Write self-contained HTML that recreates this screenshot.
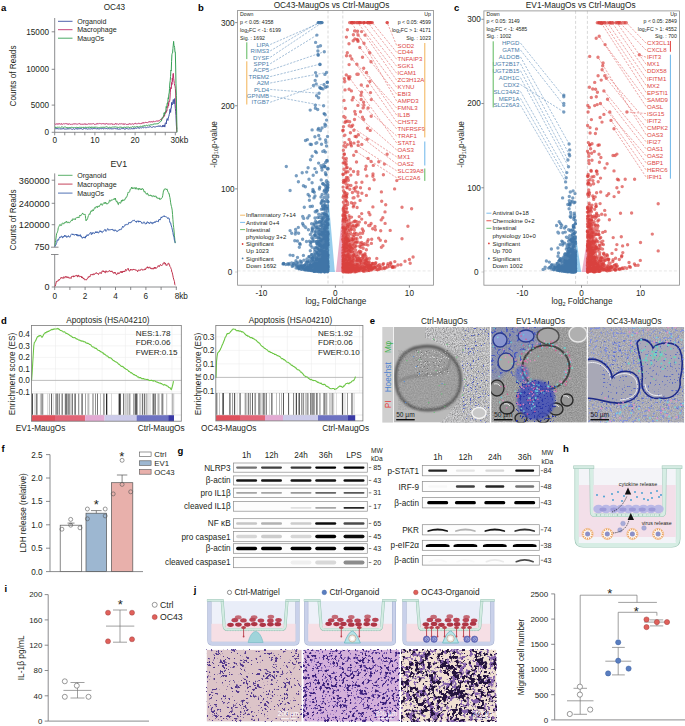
<!DOCTYPE html>
<html><head><meta charset="utf-8"><style>
html,body{margin:0;padding:0;background:#fff;width:685px;height:726px;overflow:hidden}
svg{display:block}
text{font-family:"Liberation Sans",sans-serif}
</style></head><body>
<svg width="685" height="726" viewBox="0 0 685 726">
<defs>
<filter id="bl1" x="-20%" y="-50%" width="140%" height="200%"><feGaussianBlur stdDeviation="0.6"/></filter>
<filter id="bl2" x="-20%" y="-50%" width="140%" height="200%"><feGaussianBlur stdDeviation="1.2"/></filter>
<filter id="bl3" x="-20%" y="-20%" width="140%" height="140%"><feGaussianBlur stdDeviation="2.5"/></filter>
</defs>
<rect width="685" height="726" fill="#fff"/>
<text x="1" y="10.92" font-size="9.5" fill="#000" font-weight="bold">a</text>
<text x="114.4" y="10.25" font-size="8.2" text-anchor="middle" fill="#231f20">OC43</text>
<line x1="54.7" y1="18" x2="54.7" y2="132.3" stroke="#6d6e71" stroke-width="0.8"/>
<line x1="51.7" y1="31.8" x2="54.7" y2="31.8" stroke="#6d6e71" stroke-width="0.8"/>
<text x="49" y="34.75" font-size="8.2" text-anchor="end" fill="#231f20">15000</text>
<line x1="51.7" y1="69.3" x2="54.7" y2="69.3" stroke="#6d6e71" stroke-width="0.8"/>
<text x="49" y="72.25" font-size="8.2" text-anchor="end" fill="#231f20">10000</text>
<line x1="51.7" y1="105.1" x2="54.7" y2="105.1" stroke="#6d6e71" stroke-width="0.8"/>
<text x="49" y="108.05" font-size="8.2" text-anchor="end" fill="#231f20">5000</text>
<line x1="51.7" y1="132.3" x2="54.7" y2="132.3" stroke="#6d6e71" stroke-width="0.8"/>
<text x="49" y="135.25" font-size="8.2" text-anchor="end" fill="#231f20">0</text>
<line x1="54.7" y1="132.3" x2="177" y2="132.3" stroke="#6d6e71" stroke-width="0.8"/>
<line x1="54.7" y1="132.3" x2="54.7" y2="135.3" stroke="#6d6e71" stroke-width="0.8"/>
<line x1="64.75" y1="132.3" x2="64.75" y2="135.3" stroke="#6d6e71" stroke-width="0.8"/>
<line x1="74.8" y1="132.3" x2="74.8" y2="135.3" stroke="#6d6e71" stroke-width="0.8"/>
<line x1="84.85" y1="132.3" x2="84.85" y2="135.3" stroke="#6d6e71" stroke-width="0.8"/>
<line x1="94.9" y1="132.3" x2="94.9" y2="135.3" stroke="#6d6e71" stroke-width="0.8"/>
<line x1="104.95" y1="132.3" x2="104.95" y2="135.3" stroke="#6d6e71" stroke-width="0.8"/>
<line x1="115" y1="132.3" x2="115" y2="135.3" stroke="#6d6e71" stroke-width="0.8"/>
<line x1="125.05" y1="132.3" x2="125.05" y2="135.3" stroke="#6d6e71" stroke-width="0.8"/>
<line x1="135.1" y1="132.3" x2="135.1" y2="135.3" stroke="#6d6e71" stroke-width="0.8"/>
<line x1="145.15" y1="132.3" x2="145.15" y2="135.3" stroke="#6d6e71" stroke-width="0.8"/>
<line x1="155.2" y1="132.3" x2="155.2" y2="135.3" stroke="#6d6e71" stroke-width="0.8"/>
<line x1="165.25" y1="132.3" x2="165.25" y2="135.3" stroke="#6d6e71" stroke-width="0.8"/>
<line x1="175.3" y1="132.3" x2="175.3" y2="135.3" stroke="#6d6e71" stroke-width="0.8"/>
<text x="54.7" y="143.25" font-size="8.2" text-anchor="middle" fill="#231f20">0</text>
<text x="94.9" y="143.25" font-size="8.2" text-anchor="middle" fill="#231f20">10</text>
<text x="135.1" y="143.25" font-size="8.2" text-anchor="middle" fill="#231f20">20</text>
<text x="179.4" y="143.25" font-size="8.2" text-anchor="middle" fill="#231f20">30kb</text>
<text x="0" y="2.95" font-size="8.2" transform="translate(13.5,76) rotate(-90)" text-anchor="middle" fill="#231f20">Counts of Reads</text>
<line x1="58" y1="21.3" x2="72.5" y2="21.3" stroke="#3a4ea0" stroke-width="0.9"/>
<text x="77.2" y="23.86" font-size="7.1" fill="#231f20">Organoid</text>
<line x1="58" y1="29.7" x2="72.5" y2="29.7" stroke="#c0306a" stroke-width="0.9"/>
<text x="77.2" y="32.26" font-size="7.1" fill="#231f20">Macrophage</text>
<line x1="58" y1="38.2" x2="72.5" y2="38.2" stroke="#35a055" stroke-width="0.9"/>
<text x="77.2" y="40.76" font-size="7.1" fill="#231f20">MaugOs</text>
<polyline points="55,128.56 55.34,128.77 55.68,128.67 56.01,128.86 56.35,128.93 56.69,128.45 57.03,128.26 57.37,128.94 57.7,128.63 58.04,128.51 58.38,129.16 58.72,128.88 59.06,129.13 59.39,128.88 59.73,128.95 60.07,128.53 60.41,128.84 60.75,129.14 61.09,128.92 61.42,129.05 61.76,129.03 62.1,128.48 62.44,128.94 62.78,128.92 63.11,128.66 63.45,128.34 63.79,128.99 64.13,128.83 64.47,129.01 64.8,129.2 65.14,129.11 65.48,129.27 65.82,128.85 66.16,129.09 66.49,128.84 66.83,129.2 67.17,129.26 67.51,128.58 67.85,128.41 68.18,128.43 68.52,129.11 68.86,128.83 69.2,128.92 69.54,128.66 69.87,128.76 70.21,128.69 70.55,128.63 70.89,128.83 71.23,128.88 71.56,129.19 71.9,129.08 72.24,129.27 72.58,129.26 72.92,129.38 73.25,129.13 73.59,128.6 73.93,129.06 74.27,129.3 74.61,129.31 74.95,129.02 75.28,129.06 75.62,128.62 75.96,129.04 76.3,128.94 76.64,128.65 76.97,128.36 77.31,128.99 77.65,129.3 77.99,128.58 78.33,129 78.66,128.78 79,128.48 79.34,128.52 79.68,128.96 80.02,129.18 80.35,128.5 80.69,128.81 81.03,128.39 81.37,128.88 81.71,128.67 82.04,129.1 82.38,129.32 82.72,128.96 83.06,129.3 83.4,128.78 83.73,128.41 84.07,128.77 84.41,128.37 84.75,128.4 85.09,128.6 85.42,128.84 85.76,128.5 86.1,128.3 86.44,128.98 86.78,128.69 87.12,129.18 87.45,129.27 87.79,128.83 88.13,128.77 88.47,128.81 88.81,128.93 89.14,128.93 89.48,128.89 89.82,128.94 90.16,129.24 90.5,128.94 90.83,128.78 91.17,128.99 91.51,128.62 91.85,128.57 92.19,129.16 92.52,128.93 92.86,128.88 93.2,128.38 93.54,128.6 93.88,128.81 94.21,128.37 94.55,128.78 94.89,128.91 95.23,128.44 95.57,128.81 95.9,128.77 96.24,128.95 96.58,128.71 96.92,128.96 97.26,129.06 97.59,128.45 97.93,128.3 98.27,128.81 98.61,129.22 98.95,128.7 99.29,128.73 99.62,128.86 99.96,128.66 100.3,128.63 100.64,128.58 100.98,128.62 101.31,128.83 101.65,128.63 101.99,128.64 102.33,129 102.67,128.43 103,128.75 103.34,129 103.68,128.69 104.02,128.52 104.36,128.99 104.69,128.62 105.03,128.47 105.37,128.64 105.71,128.93 106.05,128.48 106.38,128.54 106.72,128.57 107.06,129.03 107.4,128.81 107.74,129.12 108.07,128.6 108.41,128.59 108.75,128.87 109.09,129.17 109.43,128.87 109.76,128.57 110.1,128.39 110.44,128.7 110.78,128.49 111.12,128.98 111.46,129.16 111.79,128.62 112.13,128.55 112.47,129 112.81,128.99 113.15,129.13 113.48,128.76 113.82,128.45 114.16,128.51 114.5,128.98 114.84,128.65 115.17,128.62 115.51,128.67 115.85,128.69 116.19,128.69 116.53,129.14 116.86,128.59 117.2,128.29 117.54,129.05 117.88,129.22 118.22,129.36 118.55,128.91 118.89,129.24 119.23,129.32 119.57,128.7 119.91,128.99 120.24,129.16 120.58,129.05 120.92,128.89 121.26,128.64 121.6,128.61 121.94,128.5 122.27,128.32 122.61,128.74 122.95,128.59 123.29,129.02 123.63,128.46 123.96,129.06 124.3,129.05 124.64,129.26 124.98,129.29 125.32,129.31 125.65,129.02 125.99,128.43 126.33,128.91 126.67,128.54 127.01,128.54 127.34,128.87 127.68,128.84 128.02,128.74 128.36,129.18 128.7,129.01 129.03,128.72 129.37,128.55 129.71,129.05 130.05,128.85 130.39,129.04 130.72,128.69 131.06,128.43 131.4,128.63 131.74,128.93 132.08,128.42 132.41,128.8 132.75,129.02 133.09,128.96 133.43,128.94 133.77,128.18 134.1,128.49 134.44,128.78 134.78,128.11 135.12,128.09 135.46,128.07 135.8,128.27 136.13,128.22 136.47,128.23 136.81,128.49 137.15,127.85 137.49,127.69 137.82,127.68 138.16,127.66 138.5,127.59 138.84,128.36 139.18,128.47 139.51,127.79 139.85,127.94 140.19,127.79 140.53,127.72 140.87,127.71 141.2,127.95 141.54,127.95 141.88,127.72 142.22,127.47 142.56,127.5 142.89,127.3 143.23,127.6 143.57,127.82 143.91,127.55 144.25,127.18 144.58,127.13 144.92,127.27 145.26,127.5 145.6,127.7 145.94,127.38 146.28,127.63 146.61,127.53 146.95,127.3 147.29,127.15 147.63,127.2 147.97,127.37 148.3,127.15 148.64,127.3 148.98,127.12 149.32,126.84 149.66,127 149.99,127.17 150.33,126.64 150.67,126.79 151.01,126.82 151.35,127.22 151.68,127.38 152.02,126.91 152.36,127.22 152.7,127.2 153.04,126.71 153.37,126.73 153.71,126.41 154.05,126.92 154.39,126.92 154.73,127.11 155.06,127.07 155.4,126.93 155.74,126.93 156.08,126.76 156.42,126.29 156.75,126.56 157.09,126.11 157.43,126.08 157.77,126.62 158.11,126.11 158.44,125.95 158.78,125.86 159.12,126.5 159.46,126.03 159.8,125.7 160.14,126.33 160.47,125.7 160.81,126.39 161.15,126.38 161.49,126.72 161.83,127.12 162.16,126.51 162.5,126.87 162.84,125.05 163.18,126.47 163.52,126.17 163.85,126.74 164.19,124.88 164.53,126.5 164.87,127.08 165.21,123.34 165.54,122.76 165.88,123.13 166.22,123.99 166.56,121 166.9,119.25 167.23,118.54 167.57,119.79 167.91,120.48 168.25,118.15 168.59,116.79 168.92,116.05 169.26,114.34 169.6,113.08 169.94,109.28 170.28,109.9 170.61,112.42 170.95,107.98 171.29,108.1 171.63,102.45 171.97,104.33 172.31,104.81 172.64,103.62 172.98,101.23 173.32,99.54 173.66,100.54 174,103.89 174.33,99.61 174.67,98.59 175.01,104.2 175.35,108.53 175.69,111.37 176.02,115.46 176.36,125 176.7,129.01" fill="none" stroke="#3a4ea0" stroke-width="1" stroke-linejoin="round"/>
<polyline points="55,123.67 55.34,124.21 55.68,124.3 56.01,123.87 56.35,123.96 56.69,123.94 57.03,124.12 57.37,124.3 57.7,123.72 58.04,123.49 58.38,124.15 58.72,123.98 59.06,124.23 59.39,123.62 59.73,123.84 60.07,124.15 60.41,123.8 60.75,124.34 61.09,124.46 61.42,123.72 61.76,123.49 62.1,123.88 62.44,124.36 62.78,124 63.11,123.75 63.45,123.85 63.79,123.53 64.13,123.61 64.47,123.83 64.8,123.94 65.14,123.74 65.48,123.68 65.82,123.65 66.16,123.86 66.49,123.77 66.83,123.5 67.17,124.15 67.51,124.1 67.85,124.16 68.18,123.76 68.52,124.37 68.86,124.44 69.2,123.79 69.54,123.79 69.87,124.14 70.21,124.23 70.55,124.46 70.89,124.07 71.23,124.32 71.56,124.25 71.9,123.9 72.24,124.05 72.58,124.36 72.92,124.42 73.25,124.13 73.59,124.12 73.93,123.62 74.27,123.65 74.61,124.16 74.95,123.97 75.28,123.7 75.62,123.95 75.96,124.17 76.3,124.21 76.64,123.95 76.97,123.93 77.31,123.99 77.65,124.25 77.99,124.09 78.33,123.93 78.66,123.97 79,123.57 79.34,123.46 79.68,124.02 80.02,124.44 80.35,124.22 80.69,123.97 81.03,123.69 81.37,123.91 81.71,124.41 82.04,124.37 82.38,124.15 82.72,124.37 83.06,123.87 83.4,123.97 83.73,124.4 84.07,124.19 84.41,124.02 84.75,123.8 85.09,123.98 85.42,124.41 85.76,123.68 86.1,124.16 86.44,124.34 86.78,124.45 87.12,124.35 87.45,124.38 87.79,124.13 88.13,124.09 88.47,123.96 88.81,123.59 89.14,124.21 89.48,124.13 89.82,123.77 90.16,123.93 90.5,123.97 90.83,123.86 91.17,123.82 91.51,123.98 91.85,124.11 92.19,124.13 92.52,124 92.86,123.58 93.2,123.63 93.54,123.6 93.88,123.96 94.21,124.31 94.55,124.36 94.89,124.38 95.23,124.4 95.57,123.9 95.9,124.28 96.24,124.24 96.58,123.7 96.92,123.47 97.26,123.41 97.59,124.05 97.93,123.79 98.27,123.59 98.61,123.99 98.95,123.86 99.29,123.57 99.62,123.56 99.96,123.89 100.3,123.67 100.64,123.7 100.98,124.1 101.31,123.99 101.65,123.84 101.99,123.93 102.33,123.55 102.67,123.76 103,123.86 103.34,123.68 103.68,123.55 104.02,124.23 104.36,124.08 104.69,123.76 105.03,124.02 105.37,124.29 105.71,123.66 106.05,123.46 106.38,123.52 106.72,124.05 107.06,123.71 107.4,124.1 107.74,124.19 108.07,124.1 108.41,123.78 108.75,124.36 109.09,124.38 109.43,124.13 109.76,123.79 110.1,124.07 110.44,123.93 110.78,124.05 111.12,123.85 111.46,124.07 111.79,123.63 112.13,123.71 112.47,124.33 112.81,124.44 113.15,123.96 113.48,124.31 113.82,123.92 114.16,124.37 114.5,124.33 114.84,124.02 115.17,123.78 115.51,123.49 115.85,124.19 116.19,123.64 116.53,124.18 116.86,124.47 117.2,124.2 117.54,123.77 117.88,124.26 118.22,124.5 118.55,124.34 118.89,124.11 119.23,123.92 119.57,123.84 119.91,123.69 120.24,124.06 120.58,123.96 120.92,123.71 121.26,123.56 121.6,124.02 121.94,123.82 122.27,123.95 122.61,123.83 122.95,124.28 123.29,124.44 123.63,123.7 123.96,123.64 124.3,123.74 124.64,124.36 124.98,124.36 125.32,123.96 125.65,123.73 125.99,124.08 126.33,124.33 126.67,124.49 127.01,124.01 127.34,124.35 127.68,124.27 128.02,124.07 128.36,124.46 128.7,123.9 129.03,124.17 129.37,123.68 129.71,123.61 130.05,124.25 130.39,123.8 130.72,124.14 131.06,124.09 131.4,124.28 131.74,123.9 132.08,123.75 132.41,123.65 132.75,124.12 133.09,124.02 133.43,124.29 133.77,124.3 134.1,123.61 134.44,123.77 134.78,123.4 135.12,123.22 135.46,123.19 135.8,123.88 136.13,124 136.47,124.06 136.81,123.63 137.15,123.74 137.49,123.91 137.82,123.58 138.16,123.65 138.5,123.34 138.84,123.11 139.18,123.2 139.51,123.77 139.85,123.64 140.19,123.89 140.53,123.51 140.87,123.2 141.2,123.53 141.54,123.63 141.88,122.89 142.22,123.22 142.56,122.77 142.89,122.61 143.23,123.23 143.57,122.61 143.91,122.57 144.25,123.2 144.58,122.84 144.92,122.42 145.26,122.31 145.6,122.31 145.94,122.72 146.28,122.24 146.61,122.78 146.95,122.43 147.29,122.82 147.63,122.85 147.97,122.27 148.3,122.02 148.64,122.11 148.98,121.77 149.32,122.12 149.66,121.64 149.99,121.44 150.33,122.22 150.67,121.81 151.01,121.93 151.35,121.8 151.68,121.61 152.02,121.3 152.36,121.94 152.7,122.16 153.04,122.19 153.37,121.4 153.71,121.23 154.05,121.51 154.39,121.89 154.73,121.58 155.06,121.59 155.4,121.54 155.74,121.13 156.08,121.23 156.42,121.02 156.75,120.87 157.09,120.65 157.43,120.74 157.77,121.36 158.11,121 158.44,120.93 158.78,120.78 159.12,120.89 159.46,120.31 159.8,119.94 160.14,119.71 160.47,119.48 160.81,119.99 161.15,120.13 161.49,118.99 161.83,118.49 162.16,118.59 162.5,118.53 162.84,118.39 163.18,117.2 163.52,115.93 163.85,115.99 164.19,115.18 164.53,116.33 164.87,113.87 165.21,112.31 165.54,113.36 165.88,111.42 166.22,112.36 166.56,110.5 166.9,111.04 167.23,106.81 167.57,106.6 167.91,107.44 168.25,102.8 168.59,105.84 168.92,101.23 169.26,101.84 169.6,101.65 169.94,98.85 170.28,92.8 170.61,87.67 170.95,87.37 171.29,88.67 171.63,82.49 171.97,84.52 172.31,78.03 172.64,81.52 172.98,74.01 173.32,73.34 173.66,78.33 174,80.79 174.33,83.61 174.67,85.17 175.01,86.13 175.35,88.37 175.69,93.96 176.02,104.8 176.36,115.38 176.7,131.8" fill="none" stroke="#c0306a" stroke-width="1" stroke-linejoin="round"/>
<polyline points="55,127.71 55.34,127.83 55.68,127.06 56.02,126.85 56.36,127.47 56.69,127.56 57.03,127.53 57.37,127.2 57.71,127.36 58.05,127.42 58.39,127.41 58.73,127.02 59.07,127.16 59.41,127.16 59.74,127.46 60.08,127.79 60.42,127.85 60.76,127.51 61.1,127.31 61.44,127.1 61.78,126.82 62.12,126.73 62.46,127.1 62.79,127.08 63.13,127.12 63.47,127.6 63.81,127.41 64.15,127.39 64.49,127.09 64.83,126.81 65.17,127 65.51,126.88 65.84,127.18 66.18,127.71 66.52,127.58 66.86,127.1 67.2,127.59 67.54,127.66 67.88,127.62 68.22,127.76 68.56,127.67 68.89,127.67 69.23,127.28 69.57,127.73 69.91,127.84 70.25,127.16 70.59,127.49 70.93,127.55 71.27,127.34 71.61,127.34 71.94,127.3 72.28,127.68 72.62,127.42 72.96,127.63 73.3,127.27 73.64,127.64 73.98,127.76 74.32,127.4 74.66,127.39 74.99,127.71 75.33,127.62 75.67,127.38 76.01,127.08 76.35,127.07 76.69,127.41 77.03,127.03 77.37,127.59 77.71,127.18 78.04,127.63 78.38,127.23 78.72,127.69 79.06,127.6 79.4,127.39 79.74,127.34 80.08,127.45 80.42,127.42 80.76,127.17 81.09,127 81.43,127.22 81.77,127.67 82.11,127.52 82.45,126.98 82.79,127.49 83.13,127.56 83.47,127.75 83.81,127.16 84.14,127.48 84.48,126.96 84.82,127.33 85.16,127.11 85.5,127 85.84,127.55 86.18,127.02 86.52,127.24 86.86,127.6 87.19,127.16 87.53,127 87.87,127.55 88.21,127.31 88.55,127.5 88.89,126.94 89.23,127.07 89.57,126.93 89.91,127.35 90.24,126.94 90.58,127.6 90.92,126.96 91.26,127.41 91.6,126.9 91.94,126.96 92.28,127.48 92.62,127.05 92.96,126.94 93.29,127.36 93.63,127.22 93.97,126.86 94.31,127.61 94.65,127.08 94.99,126.82 95.33,127.01 95.67,127.32 96.01,127.52 96.34,127.02 96.68,127.07 97.02,126.81 97.36,127.11 97.7,127.48 98.04,127.57 98.38,127.74 98.72,127.66 99.06,127.74 99.39,127.62 99.73,127.37 100.07,127.07 100.41,127.38 100.75,127.16 101.09,126.9 101.43,127.13 101.77,127.59 102.11,127.05 102.44,127.3 102.78,127.2 103.12,127.28 103.46,126.97 103.8,127.62 104.14,127.18 104.48,127.36 104.82,127.25 105.16,126.85 105.49,127.22 105.83,126.95 106.17,126.8 106.51,126.73 106.85,126.82 107.19,126.79 107.53,127.27 107.87,127.3 108.21,127.73 108.54,127.82 108.88,127.9 109.22,127.24 109.56,127.23 109.9,127.06 110.24,127.31 110.58,127.41 110.92,127.6 111.26,127.58 111.59,127.16 111.93,127.19 112.27,127.29 112.61,126.85 112.95,126.75 113.29,127.05 113.63,126.88 113.97,127.37 114.31,127.09 114.64,126.88 114.98,126.89 115.32,126.93 115.66,126.94 116,127.21 116.34,127.24 116.68,127.11 117.02,127.37 117.36,127.06 117.69,127.59 118.03,127.81 118.37,127.66 118.71,127.35 119.05,127.32 119.39,127.38 119.73,126.92 120.07,127.11 120.41,127.27 120.74,127 121.08,126.85 121.42,127.44 121.76,127.22 122.1,127.29 122.44,127.68 122.78,127.51 123.12,127.17 123.46,127.7 123.79,127.3 124.13,126.87 124.47,127.34 124.81,126.95 125.15,127.02 125.49,127.52 125.83,127.52 126.17,126.93 126.51,127.15 126.84,127.17 127.18,127.25 127.52,127.02 127.86,127.3 128.2,126.92 128.54,126.99 128.88,127.09 129.22,127.63 129.56,127.02 129.89,127.44 130.23,127.05 130.57,127.25 130.91,127.13 131.25,127.14 131.59,127.38 131.93,127.11 132.27,126.77 132.61,126.65 132.94,126.55 133.28,127.2 133.62,127.19 133.96,127.45 134.3,127.27 134.64,126.6 134.98,126.94 135.32,127.14 135.66,127.13 135.99,126.9 136.33,126.69 136.67,126.7 137.01,126.99 137.35,126.58 137.69,126.67 138.03,126.63 138.37,127.03 138.71,127 139.04,127.08 139.38,127 139.72,126.48 140.06,126.24 140.4,126.35 140.74,126.15 141.08,126.2 141.42,126.41 141.76,126.65 142.09,126.39 142.43,126.48 142.77,125.82 143.11,125.83 143.45,126.37 143.79,125.73 144.13,125.75 144.47,125.4 144.81,125.28 145.14,125.93 145.48,126.18 145.82,125.91 146.16,125.33 146.5,125.27 146.84,125.16 147.18,125.48 147.52,125.55 147.86,125.32 148.19,125.29 148.53,124.88 148.87,125.1 149.21,125.5 149.55,125.41 149.89,124.76 150.23,124.89 150.57,125.07 150.91,124.66 151.24,125.07 151.58,124.76 151.92,124.84 152.26,124.55 152.6,124.95 152.94,124.83 153.28,124.57 153.62,124.06 153.96,124.13 154.29,123.73 154.63,124.08 154.97,124.4 155.31,123.81 155.65,123.89 155.99,123.85 156.33,123.72 156.67,123.91 157.01,124.13 157.34,123.94 157.68,123.63 158.02,123.92 158.36,123.18 158.7,123.13 159.04,122.84 159.38,122.65 159.72,122.48 160.06,121.65 160.39,121.6 160.73,121.12 161.07,121.07 161.41,120.99 161.75,119.86 162.09,117.68 162.43,117.47 162.77,117.5 163.11,117.5 163.44,116.35 163.78,116.04 164.12,112.79 164.46,114.5 164.8,113.43 165.14,111.86 165.48,111.88 165.82,111.08 166.16,106.53 166.49,107.72 166.83,107.11 167.17,103.23 167.51,103.66 167.85,101.77 168.19,97.75 168.53,99 168.87,94.12 169.21,93.01 169.54,88.41 169.88,82.95 170.22,80.63 170.56,76.39 170.9,70.23 171.24,71 171.58,61.25 171.92,54.6 172.26,53.41 172.59,52.96 172.93,48.59 173.27,45.1 173.61,41.37 173.95,45.33 174.29,45.92 174.63,47.67 174.97,52.21 175.31,52.06 175.64,64.99 175.98,83.72 176.32,95.29 176.66,115.63 177,132.3" fill="none" stroke="#35a055" stroke-width="1" stroke-linejoin="round"/>
<text x="118.8" y="166.57" font-size="8.8" text-anchor="middle" fill="#231f20">EV1</text>
<line x1="54.7" y1="173.4" x2="54.7" y2="247.2" stroke="#6d6e71" stroke-width="0.8"/>
<line x1="51.7" y1="180.2" x2="54.7" y2="180.2" stroke="#6d6e71" stroke-width="0.8"/>
<text x="49.5" y="183.51" font-size="9.2" text-anchor="end" fill="#231f20">360000</text>
<line x1="51.7" y1="203.3" x2="54.7" y2="203.3" stroke="#6d6e71" stroke-width="0.8"/>
<text x="49.5" y="206.61" font-size="9.2" text-anchor="end" fill="#231f20">240000</text>
<line x1="51.7" y1="224.7" x2="54.7" y2="224.7" stroke="#6d6e71" stroke-width="0.8"/>
<text x="49.5" y="228.01" font-size="9.2" text-anchor="end" fill="#231f20">120000</text>
<line x1="51" y1="247.2" x2="58.5" y2="247.2" stroke="#6d6e71" stroke-width="0.8"/>
<text x="49.5" y="250.04" font-size="9" text-anchor="end" fill="#231f20">750</text>
<line x1="51" y1="254.5" x2="58.5" y2="254.5" stroke="#6d6e71" stroke-width="0.8"/>
<line x1="54.7" y1="254.5" x2="54.7" y2="287" stroke="#6d6e71" stroke-width="0.8"/>
<line x1="51.7" y1="287" x2="54.7" y2="287" stroke="#6d6e71" stroke-width="0.8"/>
<text x="49.5" y="290.24" font-size="9" text-anchor="end" fill="#231f20">0</text>
<line x1="54.7" y1="287" x2="177" y2="287" stroke="#6d6e71" stroke-width="0.8"/>
<line x1="54.7" y1="287" x2="54.7" y2="290" stroke="#6d6e71" stroke-width="0.8"/>
<line x1="69.9" y1="287" x2="69.9" y2="290" stroke="#6d6e71" stroke-width="0.8"/>
<line x1="85.1" y1="287" x2="85.1" y2="290" stroke="#6d6e71" stroke-width="0.8"/>
<line x1="100.3" y1="287" x2="100.3" y2="290" stroke="#6d6e71" stroke-width="0.8"/>
<line x1="115.5" y1="287" x2="115.5" y2="290" stroke="#6d6e71" stroke-width="0.8"/>
<line x1="130.7" y1="287" x2="130.7" y2="290" stroke="#6d6e71" stroke-width="0.8"/>
<line x1="145.9" y1="287" x2="145.9" y2="290" stroke="#6d6e71" stroke-width="0.8"/>
<line x1="161.1" y1="287" x2="161.1" y2="290" stroke="#6d6e71" stroke-width="0.8"/>
<line x1="176.3" y1="287" x2="176.3" y2="290" stroke="#6d6e71" stroke-width="0.8"/>
<text x="54.7" y="299.35" font-size="8.2" text-anchor="middle" fill="#231f20">0</text>
<text x="85.1" y="299.35" font-size="8.2" text-anchor="middle" fill="#231f20">2</text>
<text x="115.5" y="299.35" font-size="8.2" text-anchor="middle" fill="#231f20">4</text>
<text x="145.9" y="299.35" font-size="8.2" text-anchor="middle" fill="#231f20">6</text>
<text x="181.3" y="299.35" font-size="8.2" text-anchor="middle" fill="#231f20">8kb</text>
<text x="0" y="2.95" font-size="8.2" transform="translate(12.6,220) rotate(-90)" text-anchor="middle" fill="#231f20">Counts of Reads</text>
<line x1="58" y1="175.3" x2="72.5" y2="175.3" stroke="#4aa85a" stroke-width="0.9"/>
<text x="77.2" y="177.86" font-size="7.1" fill="#231f20">Organoid</text>
<line x1="58" y1="184.1" x2="72.5" y2="184.1" stroke="#c0304a" stroke-width="0.9"/>
<text x="77.2" y="186.66" font-size="7.1" fill="#231f20">Macrophage</text>
<line x1="58" y1="193.1" x2="72.5" y2="193.1" stroke="#3d62ad" stroke-width="0.9"/>
<text x="77.2" y="195.66" font-size="7.1" fill="#231f20">MaugOs</text>
<polyline points="54.89,245.77 55.27,242.77 55.64,240.71 56.02,237.94 56.39,235.15 56.77,233.28 57.15,232.79 57.52,231.74 57.9,230.38 58.27,227.75 58.65,227.15 59.03,226.26 59.4,225.41 59.78,224.64 60.15,224.31 60.53,225.53 60.91,225.73 61.28,225.59 61.66,225.32 62.03,223.67 62.41,222.91 62.78,223.04 63.16,223.45 63.54,223.89 63.91,224.13 64.29,222.46 64.66,222.73 65.04,222.98 65.42,222.7 65.79,221.8 66.17,221.96 66.54,221.16 66.92,222.58 67.3,223.1 67.67,222.62 68.05,221.8 68.42,222.7 68.8,222.36 69.18,222.84 69.55,222.97 69.93,222.25 70.3,221.57 70.68,221.52 71.05,221.04 71.43,220.11 71.81,219.86 72.18,220.76 72.56,219.43 72.93,218.67 73.31,219.48 73.69,219.02 74.06,219.26 74.44,219.15 74.81,218.72 75.19,219.85 75.57,218.55 75.94,218.29 76.32,217.6 76.69,218.11 77.07,217.49 77.45,217.26 77.82,217.91 78.2,217.2 78.57,217.28 78.95,217.95 79.32,216.35 79.7,215.32 80.08,215.03 80.45,215.93 80.83,215.9 81.2,214.92 81.58,214.49 81.96,213.8 82.33,213.93 82.71,212.94 83.08,213.75 83.46,214.44 83.84,214.78 84.21,214.33 84.59,214.45 84.96,213.98 85.34,215.52 85.72,218.72 86.09,220.84 86.47,219.8 86.84,220.01 87.22,219.09 87.59,218.75 87.97,217.11 88.35,215.75 88.72,215.32 89.1,214.11 89.47,213.73 89.85,214.51 90.23,213.19 90.6,211.59 90.98,210.83 91.35,210.57 91.73,211.63 92.11,211.08 92.48,210.49 92.86,209.61 93.23,210.96 93.61,210.25 93.99,209.27 94.36,208.29 94.74,207.64 95.11,207.4 95.49,208.25 95.86,207.35 96.24,206.51 96.62,206.92 96.99,206.44 97.37,207.69 97.74,206.23 98.12,206.24 98.5,206.62 98.87,205.86 99.25,206.59 99.62,205.86 100,204.91 100.38,204.75 100.75,203.78 101.13,204.08 101.5,203.79 101.88,204.99 102.26,205.4 102.63,204.81 103.01,203.43 103.38,203.16 103.76,202.94 104.14,202.69 104.51,202.56 104.89,203.83 105.26,202.8 105.64,202.03 106.01,203.51 106.39,203.38 106.77,204.2 107.14,203.25 107.52,203.81 107.89,203.48 108.27,203.39 108.65,203.02 109.02,202.09 109.4,200.55 109.77,199.86 110.15,200.78 110.53,201.11 110.9,201.14 111.28,199.9 111.65,199.93 112.03,200.2 112.41,199.93 112.78,200.1 113.16,199.5 113.53,199.42 113.91,199.38 114.28,198.38 114.66,199.26 115.04,199.71 115.41,198.12 115.79,200.02 116.16,201.33 116.54,201.71 116.92,200.9 117.29,202.76 117.67,202.36 118.04,204.39 118.42,204.64 118.8,202.99 119.17,202.25 119.55,202.76 119.92,202.72 120.3,202.94 120.68,203.3 121.05,201.76 121.43,200.37 121.8,201.55 122.18,199.99 122.55,200.96 122.93,199.62 123.31,200.32 123.68,200.47 124.06,200.6 124.43,199.79 124.81,199.96 125.19,198.41 125.56,198.5 125.94,197.29 126.31,197.6 126.69,197.16 127.07,195.95 127.44,195.13 127.82,193.3 128.19,192.07 128.57,192.36 128.95,191.94 129.32,192.23 129.7,191.48 130.07,189.74 130.45,189.04 130.82,189.25 131.2,188.49 131.58,187 131.95,188.27 132.33,188.9 132.7,187.6 133.08,187.98 133.46,187.83 133.83,188.67 134.21,188.06 134.58,187.6 134.96,187.95 135.34,189.19 135.71,187.92 136.09,187.34 136.46,188.19 136.84,189.21 137.22,188.92 137.59,188.64 137.97,189.46 138.34,189.72 138.72,188.32 139.09,189.44 139.47,188.52 139.85,188.32 140.22,189.42 140.6,189.09 140.97,189.78 141.35,188.77 141.73,189.84 142.1,188.87 142.48,188.36 142.85,188.89 143.23,189.06 143.61,190.02 143.98,191.57 144.36,192.21 144.73,191.26 145.11,191.74 145.49,192.77 145.86,193.44 146.24,194.25 146.61,194.11 146.99,193.19 147.36,193.15 147.74,194.51 148.12,194.15 148.49,194.92 148.87,195.83 149.24,195.55 149.62,195.56 150,195.47 150.37,194.82 150.75,195.86 151.12,195.44 151.5,196.26 151.88,195.4 152.25,196.34 152.63,196.72 153,196.63 153.38,196.3 153.76,195.56 154.13,196.68 154.51,196.43 154.88,197.06 155.26,196.3 155.64,195.91 156.01,195.94 156.39,197.51 156.76,197 157.14,198.44 157.51,198.08 157.89,198.41 158.27,198.13 158.64,198.64 159.02,197.8 159.39,198.13 159.77,199.52 160.15,198.62 160.52,199.28 160.9,198.95 161.27,198.79 161.65,198.16 162.03,197.9 162.4,197.26 162.78,195.29 163.15,192.92 163.53,190.61 163.91,190.81 164.28,189.08 164.66,189.05 165.03,188.75 165.41,188.67 165.78,189.34 166.16,189.19 166.54,189.77 166.91,188.88 167.29,189.99 167.66,190.98 168.04,192 168.42,192.61 168.79,193.75 169.17,193.54 169.54,195.99 169.92,197.54 170.3,199.87 170.67,202.82 171.05,205 171.42,206.35 171.8,207.97 172.18,210.13 172.55,214.43 172.93,219.69 173.3,224.17 173.68,227.38 174.05,231.05 174.43,235.87 174.81,239.18 175.18,243.18" fill="none" stroke="#4aa85a" stroke-width="1" stroke-linejoin="round"/>
<polyline points="54.89,246.62 55.27,245.94 55.64,245.19 56.02,244.59 56.39,243.31 56.77,242.54 57.15,240.04 57.52,239.72 57.9,240.42 58.27,239.94 58.65,240.06 59.03,238.2 59.4,237.87 59.78,237.02 60.15,237.3 60.53,237.51 60.91,236.33 61.28,236.16 61.66,236.17 62.03,237.54 62.41,237.86 62.78,236.65 63.16,237.4 63.54,236.3 63.91,236.76 64.29,235.87 64.66,235.12 65.04,236.62 65.42,235.87 65.79,235.47 66.17,236.92 66.54,237.37 66.92,236.27 67.3,237.17 67.67,236.66 68.05,236.68 68.42,235.62 68.8,236.68 69.18,236.62 69.55,237.17 69.93,237.26 70.3,235.96 70.68,235.41 71.05,234.68 71.43,234.24 71.81,233.81 72.18,234.08 72.56,234.85 72.93,233.89 73.31,234.86 73.69,234.56 74.06,234.32 74.44,235.29 74.81,235 75.19,234.46 75.57,234.52 75.94,235.03 76.32,234.01 76.69,235.58 77.07,234.33 77.45,235.37 77.82,236.16 78.2,234.8 78.57,235.87 78.95,235.55 79.32,235.91 79.7,234.91 80.08,234.55 80.45,234.73 80.83,236.58 81.2,235.9 81.58,236.86 81.96,237.78 82.33,238.33 82.71,237.35 83.08,236.95 83.46,237.19 83.84,237.92 84.21,236.88 84.59,237.83 84.96,238.09 85.34,238.11 85.72,236.12 86.09,236.94 86.47,235.28 86.84,234.81 87.22,234.98 87.59,235.56 87.97,234.67 88.35,235.46 88.72,234.98 89.1,234.18 89.47,233.74 89.85,233.17 90.23,232.61 90.6,232.45 90.98,233.51 91.35,234.66 91.73,233.36 92.11,232.41 92.48,233.95 92.86,233.68 93.23,233.22 93.61,232.57 93.99,232.98 94.36,233.65 94.74,233.12 95.11,232.74 95.49,231.69 95.86,233.02 96.24,231.69 96.62,231.99 96.99,232.85 97.37,231.68 97.74,232.37 98.12,233.15 98.5,232.79 98.87,232.91 99.25,231.42 99.62,231.35 100,230.64 100.38,231.77 100.75,231.08 101.13,231.03 101.5,232.16 101.88,232.36 102.26,232.68 102.63,231.65 103.01,231.16 103.38,231.4 103.76,230.92 104.14,230.22 104.51,230.07 104.89,229.39 105.26,229.5 105.64,230.86 106.01,231.43 106.39,230.93 106.77,230.36 107.14,229.67 107.52,228.73 107.89,228.61 108.27,229.63 108.65,230.28 109.02,229.45 109.4,229.91 109.77,230.08 110.15,229.94 110.53,229.75 110.9,229.82 111.28,229.15 111.65,229.66 112.03,229.05 112.41,229.28 112.78,230.09 113.16,230.4 113.53,229.75 113.91,230.94 114.28,230.96 114.66,230.89 115.04,229.68 115.41,230.33 115.79,230.07 116.16,230.95 116.54,231 116.92,231.73 117.29,231.44 117.67,231.48 118.04,230.36 118.42,230.31 118.8,230.35 119.17,230.42 119.55,229.26 119.92,229.62 120.3,229.72 120.68,229.22 121.05,229.47 121.43,229.4 121.8,228.26 122.18,227.57 122.55,226.28 122.93,226.96 123.31,227.39 123.68,226.44 124.06,226.29 124.43,226.14 124.81,225.94 125.19,224.47 125.56,224.93 125.94,224.74 126.31,224.77 126.69,224.18 127.07,224.28 127.44,224.59 127.82,224.38 128.19,224.4 128.57,222.82 128.95,222.26 129.32,222.53 129.7,223.07 130.07,222.33 130.45,222.92 130.82,223.03 131.2,221.73 131.58,221.96 131.95,221.47 132.33,220.79 132.7,220.56 133.08,220.79 133.46,220.54 133.83,220.38 134.21,219.89 134.58,220.65 134.96,220.88 135.34,221.52 135.71,221.81 136.09,221.2 136.46,222.38 136.84,221 137.22,221.22 137.59,221.07 137.97,221.31 138.34,220.79 138.72,222.13 139.09,221.81 139.47,220.93 139.85,221.78 140.22,221.08 140.6,221.74 140.97,221.63 141.35,222.13 141.73,223.23 142.1,223.49 142.48,222.76 142.85,223.28 143.23,223.19 143.61,222.56 143.98,221.76 144.36,222.38 144.73,222.64 145.11,223.65 145.49,224.2 145.86,223.7 146.24,222.9 146.61,223.72 146.99,222.18 147.36,221.67 147.74,222.43 148.12,222.95 148.49,222.18 148.87,222.89 149.24,223.75 149.62,223.01 150,222.73 150.37,222.1 150.75,221.9 151.12,223.27 151.5,222.62 151.88,223.54 152.25,223.87 152.63,223.3 153,222.24 153.38,223.27 153.76,222.69 154.13,222.19 154.51,221.69 154.88,222.88 155.26,222.36 155.64,221.61 156.01,221.63 156.39,220.82 156.76,221.49 157.14,221.4 157.51,220.99 157.89,221.64 158.27,221.82 158.64,219.93 159.02,219.94 159.39,219.18 159.77,220.08 160.15,220 160.52,218.59 160.9,217.74 161.27,216.89 161.65,218.1 162.03,217 162.4,216.95 162.78,216.44 163.15,216.37 163.53,216.1 163.91,216.67 164.28,215.69 164.66,216.72 165.03,216.34 165.41,216.77 165.78,216.67 166.16,216.64 166.54,217.26 166.91,217.53 167.29,217.56 167.66,218.52 168.04,218.78 168.42,217.8 168.79,217.9 169.17,218.51 169.54,220.49 169.92,222.27 170.3,223.02 170.67,222.85 171.05,225.07 171.42,226.03 171.8,227.45 172.18,229.08 172.55,230.83 172.93,232.39 173.3,235.06 173.68,236.17 174.05,237.68 174.43,240.39 174.81,241.24 175.18,242.83" fill="none" stroke="#3d62ad" stroke-width="1" stroke-linejoin="round"/>
<polyline points="54.89,286.41 55.27,285.99 55.64,284.64 56.02,283.07 56.39,281.3 56.77,281.48 57.15,281.01 57.52,281.35 57.9,280.51 58.27,280.8 58.65,279.69 59.03,280.13 59.4,280.03 59.78,279.13 60.15,278.78 60.53,278.76 60.91,277.52 61.28,277.52 61.66,278.19 62.03,277.34 62.41,278.08 62.78,278.18 63.16,278.57 63.54,277.63 63.91,276.62 64.29,277.65 64.66,278.17 65.04,277.62 65.42,276.56 65.79,276.25 66.17,277.04 66.54,276.67 66.92,277.92 67.3,277.74 67.67,276.78 68.05,277.29 68.42,276.89 68.8,277.93 69.18,278.39 69.55,277.73 69.93,277.68 70.3,277.75 70.68,278 71.05,278.49 71.43,276.62 71.81,276.4 72.18,276.81 72.56,276.33 72.93,276.7 73.31,275.77 73.69,277.03 74.06,276.85 74.44,275.85 74.81,276.53 75.19,276.08 75.57,275.58 75.94,275.95 76.32,275.35 76.69,275.19 77.07,276.53 77.45,276.82 77.82,275.43 78.2,276.41 78.57,275.2 78.95,275.33 79.32,276.8 79.7,276.98 80.08,276.45 80.45,276.42 80.83,276.51 81.2,276.05 81.58,277.81 81.96,276.69 82.33,277.02 82.71,277.97 83.08,277.75 83.46,279 83.84,278.08 84.21,279.31 84.59,279.81 84.96,279.65 85.34,280.12 85.72,279.46 86.09,280.05 86.47,279.98 86.84,279.18 87.22,278.56 87.59,278.63 87.97,277.89 88.35,276.68 88.72,277.4 89.1,276.57 89.47,276.52 89.85,277.02 90.23,275.79 90.6,274.72 90.98,274.28 91.35,274.96 91.73,274.67 92.11,274.16 92.48,274.21 92.86,275.16 93.23,274.02 93.61,273.76 93.99,274.66 94.36,274.49 94.74,273.61 95.11,273.59 95.49,273.55 95.86,272.75 96.24,272.83 96.62,272.68 96.99,273.66 97.37,273.05 97.74,273.45 98.12,274.3 98.5,274.58 98.87,273.48 99.25,273.39 99.62,272.69 100,272.47 100.38,272.52 100.75,273.18 101.13,273.79 101.5,272.63 101.88,271.39 102.26,271.71 102.63,270.97 103.01,270.5 103.38,271.86 103.76,271.05 104.14,271.94 104.51,271.57 104.89,272.61 105.26,272.9 105.64,271.27 106.01,270.71 106.39,272.05 106.77,271.95 107.14,271.44 107.52,271.94 107.89,272.22 108.27,271.72 108.65,271.49 109.02,270.61 109.4,270.79 109.77,270.44 110.15,271.37 110.53,271.84 110.9,271.1 111.28,271.84 111.65,271.08 112.03,270.77 112.41,271.84 112.78,272.02 113.16,273.12 113.53,273.11 113.91,273.31 114.28,272.19 114.66,273.23 115.04,272.14 115.41,272.82 115.79,273.85 116.16,274.4 116.54,274.69 116.92,273.83 117.29,273.82 117.67,273.97 118.04,272.55 118.42,273.55 118.8,273.92 119.17,273.02 119.55,273.26 119.92,272.59 120.3,271.83 120.68,272.35 121.05,271.12 121.43,272.08 121.8,272.89 122.18,271.71 122.55,272.51 122.93,270.97 123.31,271.84 123.68,270.95 124.06,271.96 124.43,271.23 124.81,271.89 125.19,270.21 125.56,269.42 125.94,270.59 126.31,270.72 126.69,270.5 127.07,269.23 127.44,268.85 127.82,269.03 128.19,268.37 128.57,270.1 128.95,270.56 129.32,271.23 129.7,271.04 130.07,270.2 130.45,269.22 130.82,270.2 131.2,269.36 131.58,269.93 131.95,270.06 132.33,270.23 132.7,269.42 133.08,269.04 133.46,269.87 133.83,269.23 134.21,270.04 134.58,269.64 134.96,269.77 135.34,269.57 135.71,270.43 136.09,270.49 136.46,270.19 136.84,270.06 137.22,270.79 137.59,271.76 137.97,271.1 138.34,270.14 138.72,269.94 139.09,269.61 139.47,270.11 139.85,270.77 140.22,270.56 140.6,269.55 140.97,269.29 141.35,269.22 141.73,269.25 142.1,269.11 142.48,270.29 142.85,269.84 143.23,269.8 143.61,269.83 143.98,269.63 144.36,269.82 144.73,268.9 145.11,269.02 145.49,269.7 145.86,268.19 146.24,268.48 146.61,268.11 146.99,267.21 147.36,266.72 147.74,268.05 148.12,267.3 148.49,268.24 148.87,267.36 149.24,267.51 149.62,266.85 150,267.64 150.37,268.58 150.75,267.81 151.12,268.17 151.5,269.14 151.88,268.24 152.25,268.18 152.63,268.71 153,269.28 153.38,268.03 153.76,268.5 154.13,267.54 154.51,267.04 154.88,268.63 155.26,267.2 155.64,268.29 156.01,268.35 156.39,268.12 156.76,268.01 157.14,267.68 157.51,266.6 157.89,266.3 158.27,265.52 158.64,266.46 159.02,266.65 159.39,266.66 159.77,265.29 160.15,265.34 160.52,264.51 160.9,265.17 161.27,265.29 161.65,265.8 162.03,265.31 162.4,264.91 162.78,264.8 163.15,263.14 163.53,263.33 163.91,262.42 164.28,262.76 164.66,262.45 165.03,264.19 165.41,263.1 165.78,264.58 166.16,265.45 166.54,264.82 166.91,265.45 167.29,264.11 167.66,263.7 168.04,263.27 168.42,263.25 168.79,263.17 169.17,265 169.54,264.79 169.92,266.45 170.3,267.05 170.67,267.51 171.05,268.84 171.42,269.46 171.8,271.98 172.18,272.41 172.55,274.13 172.93,275.86 173.3,277.71 173.68,279.16 174.05,280.26 174.43,281.37 174.81,284.42 175.18,285.26" fill="none" stroke="#c0304a" stroke-width="1" stroke-linejoin="round"/>
<text x="198" y="11.42" font-size="9.5" fill="#000" font-weight="bold">b</text>
<text x="331.5" y="8.19" font-size="8.3" text-anchor="middle" fill="#231f20">OC43-MaugOs vs Ctrl-MaugOs</text>
<line x1="235.1" y1="272" x2="237.6" y2="272" stroke="#c8c8c8" stroke-width="0.8"/>
<text x="232.2" y="274.95" font-size="8.2" text-anchor="end" fill="#231f20">0</text>
<line x1="235.1" y1="188.87" x2="237.6" y2="188.87" stroke="#6d6e71" stroke-width="0.8"/>
<text x="234.6" y="191.82" font-size="8.2" text-anchor="end" fill="#231f20">100</text>
<line x1="235.1" y1="105.74" x2="237.6" y2="105.74" stroke="#6d6e71" stroke-width="0.8"/>
<text x="234.6" y="108.69" font-size="8.2" text-anchor="end" fill="#231f20">200</text>
<line x1="235.1" y1="22.61" x2="237.6" y2="22.61" stroke="#6d6e71" stroke-width="0.8"/>
<text x="234.6" y="25.56" font-size="8.2" text-anchor="end" fill="#231f20">300</text>
<line x1="261.4" y1="285.2" x2="261.4" y2="287.7" stroke="#6d6e71" stroke-width="0.8"/>
<text x="261.4" y="296.35" font-size="8.2" text-anchor="middle" fill="#231f20">-10</text>
<line x1="335.4" y1="285.2" x2="335.4" y2="287.7" stroke="#6d6e71" stroke-width="0.8"/>
<text x="335.4" y="296.35" font-size="8.2" text-anchor="middle" fill="#231f20">0</text>
<line x1="409.4" y1="285.2" x2="409.4" y2="287.7" stroke="#6d6e71" stroke-width="0.8"/>
<text x="409.4" y="296.35" font-size="8.2" text-anchor="middle" fill="#231f20">10</text>
<text x="0" y="2.95" font-size="8.2" transform="translate(213.8,144.5) rotate(-90)" text-anchor="middle" fill="#231f20">-log<tspan font-size="5.5" dy="1.5">10</tspan><tspan dy="-1.5">p-value</tspan></text>
<text x="335.9" y="304.25" font-size="8.2" text-anchor="middle" fill="#231f20">log<tspan font-size="5.5" dy="1.5">2</tspan><tspan dy="-1.5"> FoldChange</tspan></text>
<line x1="328" y1="10.5" x2="328" y2="285.2" stroke="#c8c8c8" stroke-width="0.7" stroke-dasharray="3,2"/>
<line x1="342.8" y1="10.5" x2="342.8" y2="285.2" stroke="#c8c8c8" stroke-width="0.7" stroke-dasharray="3,2"/>
<line x1="237.6" y1="270.92" x2="433.5" y2="270.92" stroke="#dcdcdc" stroke-width="0.7" stroke-dasharray="3,2"/>
<polygon points="328,193.03 334.66,270.34 335.03,272 328,272" fill="#8cc8ea" opacity="0.9"/>
<polygon points="342.8,209.65 336.14,270.34 335.77,272 342.8,272" fill="#eaa9c2" opacity="0.9"/>
<path d="M325.5 261.8h0M322.4 252.1h0M326.5 270.8h0M326.2 214.6h0M316.9 252.7h0M318.8 232.9h0M315 235.3h0M316 257.8h0M325.1 224.1h0M325.8 238.3h0M323.9 263.4h0M320 263.4h0M323.3 233.8h0M324.9 207.7h0M322.9 259.2h0M320.2 257.8h0M326.9 268.3h0M298.3 266.7h0M317.4 254.2h0M315 271h0M318.3 22.6h0M326.2 237.6h0M309.2 269.4h0M311.2 270.6h0M325.4 186h0M320.8 22.6h0M323.2 260.1h0M305 226.8h0M318.7 237.6h0M314.1 223.8h0M318.9 262.8h0M320.5 269.3h0M327.4 224.7h0M322 170.1h0M315 218h0M316.5 262.9h0M311.5 266h0M309.3 267.3h0M314.6 268.2h0M325.6 240.5h0M295.6 229.4h0M304.2 269.5h0M313.7 268.1h0M312.8 191.4h0M326.5 261.7h0M327.6 264h0M324.4 213.7h0M326.2 227.4h0M321.3 88.4h0M314.1 270.6h0M312.8 241h0M326.8 252.5h0M324.4 253.5h0M325.1 248.8h0M323.3 260.2h0M309.4 196.1h0M305.4 268.9h0M326.5 260.5h0M296.5 265.1h0M325.5 223.7h0M320.9 257.7h0M327.6 190.1h0M319.9 138.9h0M307.8 266.6h0M326.4 219.6h0M316.1 264.4h0M319.9 249.2h0M326.3 267.2h0M320.5 253.7h0M319.5 269.8h0M310.7 242.6h0M321.4 263.5h0M321.7 168h0M325.8 270.9h0M308.7 267.4h0M312.8 255.2h0M320.8 271.6h0M320.9 234.8h0M320.5 258.4h0M327.5 271.4h0M321.2 245.7h0M316.4 222.4h0M322.4 251.6h0M318.5 249.5h0M326 187.4h0M319.6 254.8h0M319.2 244.4h0M316.9 263.7h0M317 257.1h0M320.5 264.3h0M290.1 230.6h0M326.2 256.2h0M321.2 179.9h0M325.3 232.1h0M327 246.3h0M321.7 266.7h0M327.5 136.4h0M318.7 214.3h0M322.3 222.5h0M293 255.5h0M321.1 262.4h0M324.9 260.9h0M323.9 257.6h0M328 268h0M311.9 266.9h0M327.2 232.4h0M283.7 263.5h0M296 260.8h0M313.9 271.2h0M319.9 270.6h0M316.3 226h0M320 244.6h0M312.4 230.3h0M324.6 114.1h0M303.4 185.7h0M327.8 265.9h0M326.4 261.3h0M318.2 262.7h0M315.4 108.2h0M322.5 257.6h0M306.6 270.1h0M313.7 256.5h0M320.9 262.8h0M310.2 270.4h0M327.4 215.9h0M317 241.4h0M324.6 229.1h0M321.1 267.3h0M320 267h0M316.7 243.4h0M322.8 151.4h0M323.7 269h0M303.4 225.3h0M309.5 256.6h0M322 256.9h0M315.8 268.1h0M325.9 237.1h0M307.4 139.6h0M315.1 256.2h0M315.2 262.4h0M323.7 269.9h0M327.5 236.1h0M327.5 237.2h0M323.9 258.9h0M325 253h0M313.5 269.6h0M309 179.2h0M318.6 97.8h0M310 260.8h0M324.9 230.2h0M326.9 254.2h0M307.3 269.2h0M310.9 258.1h0M326.2 269.8h0M323 259.3h0M322.7 250.6h0M327.9 268.3h0M327.5 265.1h0M309.4 261.4h0M319.5 263.9h0M326.7 236.4h0M311.3 268.1h0M326.2 266.3h0M294.8 240.8h0M322.8 250.7h0M316.9 255h0M327.2 238.3h0M321.2 261.9h0M323 183.8h0M319.6 258.9h0M323.6 250.6h0M316.6 263.6h0M327.8 269h0M326.3 181.6h0M321.5 239.2h0M326.1 240.5h0M298.9 268.8h0M327.2 86.6h0M327.3 82.5h0M318.2 268.8h0M325.1 238.2h0M323 253.4h0M327 260.1h0M314.1 269.3h0M325.6 262.5h0M327.6 264.2h0M327.3 211.3h0M298.6 267.1h0M315.1 268.5h0M319 266h0M320.9 240.8h0M327 219.4h0M325.4 264.1h0M325.5 255.3h0M327.1 253.8h0M317.6 263.4h0M320.3 267.6h0M327 253.1h0M327.5 262.2h0M316.3 251h0M321.8 222.6h0M321 271.5h0M315.5 269.8h0M313.5 264.8h0M310.4 261.8h0M316.9 264.2h0M326 247.3h0M311.2 266.9h0M315.6 266.9h0M324.9 204.8h0M306.2 264h0M318.6 226.8h0M315.7 237.4h0M318 129.7h0M323.7 237.1h0M309.3 269.9h0M309.7 260.1h0M325.3 201.1h0M318 256.4h0M321 270.2h0M325.4 222.5h0M320.9 255.6h0M321.2 203.5h0M327.9 245.3h0M304.1 265.5h0M321.9 200.9h0M314.8 249.4h0M327.5 201h0M326.6 180.6h0M324.6 245h0M323.2 249.7h0M316.3 262.3h0M319.4 245.2h0M325.8 235.1h0M325.4 236.9h0M314.7 268.7h0M316 271.2h0M322.6 269.8h0M312.1 254.5h0M325.2 269.7h0M327.4 233.4h0M318.6 267.4h0M323.4 270.4h0M315.3 264.8h0M312.7 259.8h0M327.8 234.8h0M325.9 142.4h0M321.9 221.1h0M327.4 209.9h0M322.4 259.8h0M324.5 261.4h0M325.5 271h0M327.9 257.3h0M327.4 258.2h0M327.7 254.3h0M306.7 172.1h0M317.8 271.2h0M323.5 253.1h0M325.1 226.6h0M326.3 255h0M324 260.3h0M326.8 264.1h0M315.6 263.5h0M323.2 269.9h0M326.5 247h0M315.7 221.2h0M321.7 232.7h0M310.2 144.2h0M306.5 269.3h0M318.4 235.5h0M324.9 246.1h0M298.6 233.3h0M320.1 260h0M311 267.8h0M320.7 233.7h0M320.9 267.9h0M328 233.5h0M326.2 266.2h0M327.6 260.7h0M326 245h0M319.2 263.2h0M316.6 259.8h0M316.9 261.4h0M328 187.6h0M322.9 206h0M325.8 268.1h0M325 268h0M322.9 238.9h0M312.3 269h0M317.1 269.8h0M327.4 240.6h0M318.7 135.5h0M316.7 210.9h0M325.2 232.2h0M327 223.6h0M325.7 265.4h0M327.3 253.5h0M295.8 231.8h0M324.5 253.9h0M306.5 262.1h0M320.5 265.5h0M313.6 266.8h0M321.9 233.9h0M318 261.4h0M315.3 225.8h0M322.6 268.6h0M325.4 269.2h0M317 267.1h0M319 269.9h0M310.2 110.1h0M318.8 231.5h0M322.7 224.9h0M321.5 270.6h0M316.9 268.2h0M323.7 264h0M302.7 267.7h0M319.2 241.6h0M325.3 249.3h0M319.9 257.4h0M317.8 227.9h0M324 150.7h0M326.2 265.5h0M326.4 265.4h0M310.5 265.1h0M313.9 267.6h0M322.7 263.9h0M309.5 269.7h0M313.9 254.1h0M326.5 256.5h0M327.8 247.3h0M321.2 266.8h0M312.6 269.6h0M309.9 269.9h0M322.8 268.9h0M324.7 246.7h0M315.8 271.4h0M327.3 246.1h0M324.5 261.4h0M324.7 251.3h0M314.3 267.4h0M320.7 268.9h0M320.8 267h0M320.3 215.2h0M312.9 189.5h0M308.5 270h0M317.4 268.1h0M327.5 268.6h0M322.3 250.5h0M324.9 124.1h0M325.2 114.8h0M310.2 206.5h0M307.4 269.5h0M324.3 267.3h0M323.8 270.4h0M327.8 243.3h0M326.5 248.5h0M305.7 227.6h0M314.3 269.3h0M325.4 249h0M316.7 75.9h0M326.2 238.3h0M315.5 266.8h0M325.7 266.6h0M325.3 270.6h0M327.2 246.8h0M316.6 266.4h0M325.9 260.2h0M317.2 262.7h0M324.5 271.8h0M320.9 246.8h0M324.7 261.7h0M327.9 236.5h0M322 262.2h0M317.2 237h0M310.4 269.9h0M325.2 262.9h0M326 222.7h0M319.4 221.8h0M327 208.8h0M326.3 263h0M327.7 254.4h0M317 243.7h0M326.2 189.5h0M320.5 130.5h0M321.6 265h0M287.8 263.7h0M323.3 246.2h0M323.2 259h0M324.2 254.4h0M315.6 42.4h0M322.1 219h0M326.7 266.3h0M325.2 263.4h0M296.3 175.8h0M315.2 262.5h0M325.3 246.2h0M317.6 261.3h0M327.5 234.8h0M324.5 251.8h0M326.5 263.8h0M320 271.4h0M310.3 250.8h0M316.9 270.6h0M326.7 247.9h0M325.1 166.9h0M309.3 265.6h0M326.1 242.9h0M320 260h0M326.4 266.9h0M319.4 189h0M292.9 265.6h0M325.6 247.1h0M315.9 266.4h0M326.9 263.8h0M326 270.9h0M327.6 243.5h0M327.9 201.8h0M314.9 168.6h0M319.6 267.5h0M322.1 22.6h0M321.3 209.2h0M325.7 258.7h0M325.2 194.1h0M323 232.7h0M299.1 268.5h0M324.2 263.5h0M306 268.5h0M323.2 262.8h0M286.3 166.5h0M326.4 261h0M327.7 267.6h0M323.6 105.7h0M326.9 270.3h0M316.1 247.9h0M327.8 271.3h0M327.3 271.3h0M325 249.9h0M318.1 271h0M324.8 257.9h0M315.2 80.4h0M319.2 250.7h0M324.3 261.3h0M323.2 250.2h0M323.3 269.5h0M321.7 262.9h0M299.7 243.5h0M321.4 251.3h0M324.1 269.8h0M301.5 266h0M321 260.4h0M323.4 254.4h0M324.9 208.7h0M315.3 222h0M327.8 269.6h0M327.3 256.6h0M310.7 269.6h0M327.9 224.9h0M302.4 267.1h0M327.2 265.6h0" stroke="#3a70a4" stroke-width="3.4" stroke-linecap="round" fill="none" stroke-opacity="0.68"/>
<path d="M301.7 265.7h0M319.5 259.8h0M311.4 144.5h0M303.4 255.4h0M319.4 254.3h0M310.4 267h0M318.2 267.6h0M317.8 266.3h0M324.1 197.4h0M310.8 270.2h0M320.2 271.1h0M325 270.6h0M301.1 262.9h0M323.6 247.4h0M328 244.6h0M326.3 259h0M319.5 264.2h0M325.3 246.2h0M322.4 262.1h0M323.4 238.6h0M314.8 251.8h0M312 268.7h0M320.1 242.8h0M321.2 224.6h0M326.9 267.2h0M324.2 271.1h0M327.8 195h0M324.9 266.6h0M313.8 264.2h0M320.2 221.7h0M309.5 241.2h0M283 263.9h0M319.7 187.2h0M313.2 261.5h0M326.1 252.4h0M318.8 242h0M316.8 269.7h0M327.1 185h0M327.7 269.6h0M327.1 261.5h0M327.1 236.7h0M318.3 270.4h0M305.4 269.5h0M327.2 262.7h0M322.9 88.9h0M327.7 244.4h0M320.3 269.4h0M317.7 267h0M312.4 268.6h0M325.7 246.3h0M314.6 255.4h0M323.5 260.5h0M322.9 253.3h0M316.3 259.5h0M316.9 252.5h0M313.9 263.7h0M319.4 260.3h0M327.5 223.6h0M317.8 268.9h0M315.4 151.5h0M326.8 236.6h0M321.5 144.2h0M317 267.5h0M303.7 267.8h0M310 270.2h0M301.5 265.4h0M327.7 250.1h0M326.1 239.1h0M315.6 72.6h0M325.4 261.7h0M312.3 258.4h0M319.3 270.1h0M324.7 261.2h0M307.1 268.1h0M310.5 269.7h0M312.3 269.7h0M327.5 205.8h0M316.1 267.2h0M324.3 262.3h0M325.9 233.1h0M326.6 198.8h0M314.3 192.3h0M328 267.1h0M305.4 186.7h0M327.1 270.9h0M324.5 166.4h0M326.9 227.5h0M328 197.1h0M324.9 270.5h0M326.7 250.5h0M322.1 213.8h0M327.9 219.1h0M326.8 206.2h0M322.8 183.7h0M320.9 266.9h0M326.2 260.7h0M295.3 265.2h0M320.5 270.1h0M324.2 233.2h0M302.3 267.2h0M322.1 242.1h0M317.3 262.2h0M324.1 191.3h0M306.2 264.5h0M318.7 266.4h0M327.9 168.4h0M320.3 235.1h0M319.4 268.7h0M322 128h0M314.8 267h0M325.6 266.3h0M312 266.3h0M325.4 257h0M297.4 241h0M326.4 221.6h0M325.4 268.1h0M293.6 263.8h0M322.1 268.9h0M324.1 236.2h0M312.2 236.9h0M326.2 260.2h0M319.4 22.6h0M306.7 264.1h0M318.9 249.6h0M324.5 267.7h0M303.9 267.1h0M321.6 259.3h0M324.6 260.9h0M291.7 233.3h0M319.4 217.6h0M306.2 265.7h0M318.8 270.4h0M317.4 261.8h0M313.5 264.4h0M321.6 269.9h0M326 233.7h0M300.2 261h0M319 245.7h0M316.8 268h0M320.5 250.2h0M326 268h0M322 263.5h0M317.9 266.6h0M325.9 258.8h0M319.6 262.3h0M327.1 260.5h0M325.2 232.9h0M325.1 224.9h0M324.6 267.7h0M296.8 266.9h0M326.5 262.8h0M320.9 269.5h0M298.4 181.8h0M320.5 271.3h0M311.2 270.6h0M325.8 270.2h0M323.2 258.5h0M325 215h0M315.1 265.1h0M315.4 265.6h0M327.2 225.4h0M326.4 267.2h0M320.6 88.2h0M320.3 266.1h0M322.3 267.3h0M308.1 267.4h0M327.6 217.1h0M326.5 184.8h0M325.7 251.5h0M317.9 262.3h0M297 266.3h0M324.5 259h0M312.2 267.3h0M319.2 265.8h0M326.2 262.8h0M318.1 270.9h0M326.9 265.2h0M316.9 227.5h0M320.2 269.7h0M322 250.6h0M320.3 22.6h0M314.6 247.9h0M322.9 234.8h0M325.9 269.2h0M323.4 207.1h0M309.2 268.3h0M304.9 267.9h0M325.5 258.1h0M327.3 266.5h0M313.7 256.7h0M327.9 242.5h0M315.4 253.2h0M320.4 252.9h0M321.8 268.6h0M323 268.2h0M320.1 265.8h0M325.7 174.1h0M317.9 266.1h0M306.6 268.8h0M324.1 229.7h0M311.8 237.7h0M322.9 258.7h0M311.9 258.3h0M326.2 230.6h0M327.1 269.1h0M326.2 258.8h0M314.2 235.3h0M325.1 267h0M322.8 242h0M321.1 252.3h0M313.3 266.1h0M326.5 228.7h0M313.4 266.6h0M325.4 172.8h0M326.4 245.8h0M326 262.4h0M326.9 261.6h0M325.8 216.4h0M323.1 260.7h0M327.6 232.4h0M322.2 219.7h0M325.1 234.7h0M304.5 266.7h0M323.3 209h0M319.7 271.2h0M327.2 242.4h0M320 234.6h0M321 271.8h0M314.1 257h0M296.1 267.9h0M314.1 271.2h0M323.9 242.1h0M323.3 255.1h0M326.7 243.4h0M309.2 215.7h0M304.9 269.4h0M305.9 263.6h0M312 247.2h0M312.5 266.3h0M326.9 231.9h0M326.7 258.9h0M325.6 229.2h0M319.1 93.3h0M315 196h0M321 165.6h0M323.3 270.1h0M323.8 207.6h0M320.1 229.5h0M314.6 262.4h0M326.2 252.2h0M324.3 271.7h0M325 258.9h0M325.5 269.1h0M319.8 245.1h0M300.2 244.4h0M314.9 251.7h0M326.6 256.1h0M314.9 262.7h0M321 240.1h0M319.8 222h0M325.9 197.3h0M303.7 267.1h0M321.7 270h0M310.7 267.8h0M323.8 268.6h0M311.5 254.8h0M324.8 243.4h0M327.3 82.1h0M325.7 267.1h0M320.8 242.5h0M316.4 241.7h0M308.1 167.8h0M308.4 229.8h0M326.4 240.2h0M312.4 206.2h0M327.1 237h0M321.6 263.9h0M302.2 172.7h0M325.1 233.3h0M326.3 264.6h0M320.7 266.3h0M312.3 237.4h0M324.7 265.2h0M327.3 261.4h0M288.6 264.5h0M322.2 264h0M321.8 247.6h0M322.6 246.9h0M325.8 264.2h0M317.1 264.6h0M326.4 214.3h0M326.5 269.5h0M327.8 270.4h0M317 257.6h0M324.1 227.5h0M313.4 269.4h0M323.3 260.1h0M327.4 168.7h0M324.9 260.2h0M324.6 251.6h0M319 260.1h0M327.3 254.8h0M317.2 246.6h0M312.1 129.9h0M299.3 247.2h0M324 205.2h0M325.5 246.9h0M327.9 269.7h0M311.1 242.1h0M313.8 267.6h0M317.4 270.7h0M320 269.5h0M318.4 255h0M317.9 51h0M327.3 267.1h0M315.7 265.2h0M325.9 225.1h0M322.6 206.3h0M325.5 242.3h0M305.5 140.5h0M324.9 74.4h0M318.6 163.1h0M321.7 217.8h0M323.4 236.1h0M322.4 231.9h0M314.6 267.6h0M325.3 268.1h0M296.9 262.6h0M320.7 225.5h0M321.6 270.3h0M327.4 267.3h0M324.5 271.8h0M302.3 268.9h0M315.5 266.4h0M321.3 264.6h0M316.2 270.5h0M327.5 255.4h0M321.8 239.5h0M325.8 233.1h0M327.1 260h0M322.6 200.2h0M322.5 242.6h0M317 266.9h0M327.9 233.8h0M312.3 229h0M321.8 263.5h0M310.8 270.3h0M323.9 268h0M321.9 268.6h0M322.1 194.5h0M327.2 190.3h0M324.2 217.2h0M324.7 243.3h0M327.6 265.2h0M296.3 268h0M322.3 166.9h0M315.6 270h0M299.5 268.1h0M327.8 184.6h0M322.9 241.4h0M323.7 184.2h0M325.3 191.2h0M327 226.8h0M322.7 256.6h0M322.1 235.9h0M314.7 268.9h0M322.7 234.8h0M327.7 266.8h0M326.2 260.9h0M324.5 244.3h0M328 263.4h0M323.9 270.7h0M325.1 246.9h0M318.2 55.3h0M327.6 187.6h0M326.2 265.2h0M321.7 231h0M308.8 269.5h0M326.4 270.1h0M305.6 268h0M326.6 191.5h0M321.5 271.7h0M325.7 221h0M325.2 237.1h0M321.7 262.3h0M325 270.3h0M321 252.2h0M325.3 271.3h0M326.8 248.8h0M316.4 262.5h0M323.4 265.3h0M318.9 269.5h0M301.3 268.6h0M310.3 234.4h0M319.9 64.2h0M320.6 268.2h0M308.3 269.9h0M299 265.7h0M327.6 255.5h0M319.7 22.6h0M325.2 267.6h0M318.8 266.4h0M325.8 267.7h0M325.1 261.1h0M314.7 265.7h0M326.1 267.4h0M325.9 270.4h0M320.1 238h0M327.5 241.9h0M327.4 206.7h0M326.2 255.6h0M326.7 160.7h0M321.8 253.5h0M326.5 238.6h0M325.6 258.7h0M321 229.1h0M320.9 238.1h0M316.5 265.4h0M320.7 271.7h0M321.8 251.1h0M325.5 258.7h0M313.3 264.1h0M316.1 264.5h0M317.3 243.7h0M317.2 265.7h0M314.5 268.8h0M322.7 257.9h0M316.5 264.8h0M285.8 264.6h0M322.2 227.5h0M318.1 262.2h0M321.2 268.9h0M316.4 270.6h0M325.2 256.9h0M324.2 254.3h0M308.9 268.9h0M328 239.8h0M321.6 268.4h0M308.1 267.8h0M326.8 254h0M315.1 232h0M322 265.2h0M307.3 262h0M314.7 266.2h0M317.9 260.3h0M326.5 146h0M316.8 247h0M315.2 261.3h0M326.1 270.6h0M302.6 269.1h0M321.8 245.6h0M326.3 265.2h0M319.9 270.9h0M310.2 264.7h0M324.9 264.4h0M325.6 140h0M290.1 255.1h0M317.6 266.5h0M301.6 269.1h0" stroke="#3a70a4" stroke-width="3.4" stroke-linecap="round" fill="none" stroke-opacity="0.68"/>
<path d="M326.2 221.8h0M324.9 215.7h0M327.9 255.3h0M326.1 267.8h0M320.6 260.4h0M322.6 254.8h0M311.8 232h0M326.2 260.2h0M327.1 216.7h0M324 271h0M317.9 232.4h0M327.4 258.2h0M326.1 239.1h0M318.9 270.9h0M326.5 271.1h0M327.6 220.6h0M306.8 267.6h0M327.1 252.5h0M316.2 259.7h0M317.1 210.6h0M316.3 263.5h0M302.7 216.4h0M315.9 271h0M328 168.9h0M320.3 265.5h0M307.9 269.3h0M325.5 206.3h0M318.3 270h0M324.3 202.1h0M307 258.9h0M325.1 257.6h0M303.9 260.2h0M325.4 237.4h0M325.4 209h0M318.6 128.4h0M327.2 240.7h0M305 266.9h0M323 267.1h0M321.7 243.8h0M319.2 255.1h0M319.6 260h0M321.2 267.7h0M323.7 241.5h0M325 242.4h0M327.4 255.5h0M317.3 253h0M305.9 269.2h0M323.4 267.6h0M321 197h0M325.6 268.3h0M309.8 269.2h0M319.4 268.7h0M325.5 264.3h0M326.5 264.9h0M313.4 85.4h0M324.9 271.5h0M326.4 235.7h0M320.9 258.3h0M323.8 262.7h0M318.9 262.9h0M327.3 262.5h0M325.7 267.7h0M322.4 227.7h0M314.8 266.5h0M321.3 202.6h0M326.9 252.6h0M318.7 239.9h0M326.3 244.3h0M316.9 266.3h0M325.1 271.3h0M317.7 109.5h0M323.4 266.5h0M324.6 238.2h0M324.1 113.6h0M316.8 142.7h0M321.8 222.5h0M313.7 224.7h0M320.6 230.4h0M315.7 259.1h0M313.3 191h0M317.7 248.2h0M297.8 267.2h0M310.3 245h0M298.3 227.4h0M323.7 221.3h0M302.6 239.2h0M315 270.5h0M327.2 228.1h0M327.4 243.9h0M311.6 269.8h0M326.3 270h0M314 197.9h0M323.7 164.7h0M316.7 230h0M327.7 231.7h0M324.4 254.3h0M327.4 259.3h0M326 271.5h0M317.2 267h0M318.2 267.2h0M325.7 125.4h0M310.5 265.5h0M326.2 192.2h0M305.1 269.9h0M326.1 174.8h0M322.9 267.5h0M302.9 267.2h0M327.5 258.3h0M315.4 270.7h0M317.9 271.4h0M313.3 264.8h0M306.7 269h0M323.6 262.5h0M310.4 265.9h0M320 64.6h0M292.3 266.4h0M318.6 242.9h0M327.1 208.4h0M321.1 260.3h0M309.4 200.3h0M323.8 213.6h0M315.3 105.2h0M317.8 243.2h0M303 217.3h0M322.7 262.7h0M323.9 265.8h0M302.6 223.5h0M323.1 232.5h0M325 244.7h0M324.5 235.6h0M312.1 261.4h0M325.6 271.4h0M320 270.9h0M321.1 261.3h0M326 259.1h0M321.9 258.7h0M316.6 95.8h0M326.9 187.7h0M325.2 241.8h0M315.6 271.1h0M322 269.1h0M313.8 270.3h0M298.1 263h0M322.1 265.6h0M327.6 223.7h0M323.8 262.9h0M318.1 54.4h0M318.3 266.5h0M321.6 258.4h0M326.4 244.5h0M321.8 259.9h0M295.3 234h0M321.3 257.4h0M320 266.6h0M319.9 245.3h0M324 258.3h0M327.3 267.9h0M327.3 228.4h0M324.6 190.3h0M323.5 270.9h0M320.6 267h0M327.9 266.5h0M322.5 264.8h0M326.8 248.7h0M319.1 262.6h0M316.6 222.7h0M322.6 269.1h0M324.7 262.8h0M327.8 223.2h0M324.6 270h0M325.1 262.3h0M319.2 238.3h0M325.1 244.6h0M326 269.8h0M326.6 120.1h0M316.9 35.1h0M327.4 252h0M317.4 270.6h0M327.4 234.6h0M326.9 227.3h0M323.2 253.7h0M320.6 257.9h0M321.4 270h0M318.5 265h0M294.2 263.2h0M325.5 256.2h0M310.5 159.7h0M316.1 211.8h0M320.5 271.4h0M317.7 267.1h0M327 251.6h0M325.6 87.3h0M315.5 235.3h0M312.1 260.6h0M324 84.8h0M327.7 238.4h0M299 268.6h0M321.7 241.3h0M313.4 270.3h0M316.7 268.9h0M322.6 251.7h0M326.8 238.4h0M297.5 257.4h0M325.1 235.5h0M290.1 190.5h0M322.4 260.6h0M324.2 255.1h0M315.9 231.3h0M326.9 229.6h0M322.5 235h0M325.3 267.5h0M311.5 264.3h0M324.6 240.2h0M322.9 247.8h0M311.6 223.8h0M324.1 241.3h0M311.1 262.9h0M327.9 219.1h0M324.2 264.7h0M316.5 172.3h0M325 259.3h0M324.9 265h0M319 266.8h0M321.3 263.3h0M312.3 227.7h0M303.7 218.4h0M318.9 271.7h0M311.2 270.1h0M323.6 244.6h0M325.8 244.5h0M309.5 267.9h0M312.7 261.3h0M308.9 265.8h0M314 264.5h0M327 264.4h0M325.6 229.7h0M311.7 266.5h0M325.7 229.4h0M323.1 243.9h0M314.1 264h0M326.3 208.7h0M327.8 231.5h0M297.7 267.6h0M327.9 261.4h0M318 237.7h0M323.9 261.3h0M314.2 241.2h0M315.2 211.8h0M322 263.1h0M316.5 152.6h0M312.1 182.8h0M326.5 246.6h0M325.9 206.5h0M320.3 246.1h0M322.1 233.7h0M318.7 270.1h0M312.5 258h0M326 261.8h0M326 266.3h0M317.9 222.9h0M312.1 156.3h0M324.2 254.7h0M310.9 261.5h0M319.7 87.5h0M324.3 264.8h0M324.2 221.8h0M322.2 262.8h0M324.8 242.2h0M326 253.8h0M326.8 266.2h0M325.3 247h0M310.7 245.3h0M325 266.9h0M325.2 211.7h0M326.4 231.6h0M323.1 216.6h0M325.6 189.5h0M321.7 232.3h0M320.9 244.1h0M322.6 268.3h0M321.6 261.9h0M324.6 270.9h0M307 267.6h0M322.7 267.1h0M312.9 238.9h0M323.9 267.6h0M326.3 264.9h0M321.5 231.7h0M304.3 207.2h0M299.3 267.7h0M312.1 264.6h0M316.1 233.8h0M291.7 263h0M322.3 267.1h0M325 216.9h0M317.8 270.3h0M326.3 243.7h0M325.6 162.4h0M301.4 261.7h0M321.7 22.6h0M308.8 256.7h0M317.5 268.1h0M303.2 266.3h0M325 126.2h0M318.6 262.8h0M323.4 263.7h0M327.2 160.4h0M283.6 263.8h0M326.6 263.3h0M322.3 262.7h0M327.8 224.6h0M308.1 194.4h0M315.1 228h0M323.2 224.1h0M319.4 234.1h0M324.5 254.9h0M327.3 254.9h0M323.5 234.1h0M320.1 266h0M322.2 249.7h0M325.6 269.1h0M325.4 152.1h0M326.9 270.7h0M325.5 270.2h0M323.4 218.9h0M324.9 238h0M313.2 264.8h0M324.9 262.2h0M316.7 266.9h0M327 262.8h0M315.2 269.3h0M321.5 258.7h0M304.3 265.4h0M325.7 245.1h0M325 266.2h0M318.6 229.1h0M326.9 216.3h0M326.2 251.1h0M322.7 263.8h0M325.7 236.5h0M309.5 262.8h0M318.6 243.8h0M325.8 254.9h0M322.7 246.4h0M328 265.9h0M324.8 263.8h0M321.5 261.7h0M314.3 262.9h0M318.2 271.6h0M325.8 260.2h0M321.6 255h0M307.9 270h0M314.5 270.9h0M327.3 161.1h0M327.2 267.2h0M327.3 257.6h0M325.1 246.6h0M324.8 231.1h0M314.9 267.6h0M317.8 266.2h0M323 208.9h0M312.1 264.4h0M314.9 136.8h0M326.2 225.8h0M319.7 269.6h0M306.1 269.5h0M313.4 270.7h0M325.7 243.9h0M315 266.7h0M326.2 214.9h0M323.2 270.9h0M323.6 267.2h0M326.3 237.2h0M321.8 264.4h0M322.4 239.9h0M325.6 258.9h0M307.6 218h0M319.5 255.5h0M325.8 231.7h0M301.3 269.3h0M325.6 214.9h0M307.3 260.9h0M327.2 269.4h0M316.5 266.3h0M323.4 264.4h0M319.1 262.4h0M318.4 22.6h0M304.6 268.3h0M323.1 218.1h0M321.4 225.6h0M324.6 269.6h0M324.3 51.7h0M324.2 257.6h0M327.8 185.5h0M318.7 229.9h0M327.8 201.7h0M317.7 259h0M326.2 270.8h0M327.9 182.4h0M326.5 236h0M327.3 265.5h0M320.7 269.6h0M326 252.5h0M326.5 72.5h0M321.7 249.2h0M306.5 241.5h0M316.6 266.6h0M326.6 265.7h0M320.5 229.8h0M325.1 264.5h0M315.9 143.3h0M326.6 263.2h0M320.8 265.4h0M324.4 228h0M317.7 217.5h0M327.4 271.8h0M327.5 245.2h0M321.9 268.3h0M314.2 259.6h0M327.5 251.9h0M320.5 45.7h0M318 46.7h0M322.7 263.8h0M327.1 250.5h0M319.4 250.9h0M313.2 175.3h0M325 252.4h0M326.9 230.3h0M326.9 228.8h0M327.8 235h0M323.4 249.3h0M327.3 218.2h0M310.4 266.4h0M319.6 244.4h0M325.6 258.3h0M324.7 249.4h0M323.3 234.7h0M300.6 267.2h0M291.6 264.8h0M324.1 165.7h0M325.9 267.1h0M323.6 256.2h0M318.9 232.1h0M323.9 264.1h0M322 258.4h0M324.3 257.2h0M326.5 271.2h0M289.8 263.5h0M322.1 229h0M327 235.2h0M321.2 270.1h0M318.6 268.7h0M309 263.8h0M316.2 83.9h0M320.6 22.6h0M300.2 266h0M320.8 267.3h0M300.7 267.5h0" stroke="#3a70a4" stroke-width="3.4" stroke-linecap="round" fill="none" stroke-opacity="0.68"/>
<path d="M360.1 253.7h0M344.6 248.8h0M363 269.3h0M344.3 135.6h0M349.5 265.2h0M361.3 85h0M348.3 263.7h0M361.9 193.2h0M344 145.7h0M362.8 268.3h0M351.3 202.8h0M405 261.2h0M344 246.7h0M357.9 192.2h0M359.8 22.6h0M355.8 270.9h0M350.6 264.6h0M363.1 268.5h0M345.6 146.9h0M351.3 251h0M379.3 269.2h0M350.9 126.5h0M351.7 268.5h0M349.8 189.3h0M375 226.5h0M344.3 259h0M364.4 243.7h0M353.1 197.9h0M349.5 267h0M345.5 179.8h0M364.5 268.1h0M354 197.8h0M352 257.8h0M347.3 241h0M344.9 135.1h0M347.7 240h0M349.1 79.1h0M349.7 121.8h0M348.8 257.2h0M351.4 126.5h0M355.2 246.5h0M352.5 269.5h0M349.5 261h0M344.6 269.5h0M345.3 238.7h0M345.3 108.5h0M351.1 229.8h0M359 261h0M347.4 144.6h0M347.1 234h0M363.9 105.2h0M346.5 262.9h0M345.8 271.5h0M346.9 266.7h0M343.9 270h0M350 244.8h0M350.2 248.6h0M369.4 258.4h0M384.3 267.9h0M358 192.8h0M346.4 37.1h0M356.7 270.1h0M355.4 270.5h0M349.7 254.2h0M351.4 234.1h0M343 253.5h0M343.5 190.6h0M347.7 121.3h0M347.7 266.9h0M372.9 206.9h0M349.4 229.5h0M382.8 217.8h0M354.9 243.4h0M344.4 265.6h0M368 22.6h0M346.1 161.2h0M344.6 220.5h0M348.9 220.2h0M345.4 229.2h0M370.7 267.8h0M350.4 230.4h0M356.3 242.6h0M343.9 228.5h0M344.8 270.8h0M349.3 223.5h0M346.2 255.4h0M370.5 92.6h0M348.7 260.7h0M372.9 176.3h0M343.3 224.5h0M347 270.5h0M349.3 260.9h0M359.2 268.1h0M353.5 254.7h0M352.1 246.6h0M345.6 259.4h0M345.1 264.6h0M344.8 180.4h0M355.9 262.5h0M349.3 263.9h0M344.1 232.6h0M379.4 266.4h0M355.5 261.8h0M344.8 180.1h0M347.7 246.2h0M345.1 268.7h0M364.7 269h0M345.9 249.8h0M352.1 239.2h0M354.1 268.3h0M348.8 261.2h0M351.3 247.9h0M371 22.6h0M372.8 263.4h0M351.8 249h0M365.9 264.9h0M345.3 201h0M366.6 265.5h0M369 22.6h0M365.9 244.4h0M344.5 269.4h0M361.7 213.6h0M349.9 263.9h0M392.7 266.7h0M368.2 239.7h0M349.3 262.2h0M343.6 261.4h0M370.2 265.7h0M343.5 126.6h0M343.9 230.2h0M354.7 268h0M346.3 266h0M370.9 268.5h0M362 22.6h0M382.9 264.5h0M354.5 119.5h0M344.7 215.6h0M343.2 209.1h0M358.3 270.6h0M385.1 223.4h0M368.8 212.4h0M371.2 116.3h0M346.1 163.9h0M344.5 227.2h0M347.8 271.9h0M349 249h0M361.4 268h0M357.9 174.3h0M351 252.2h0M385.6 241.2h0M356.2 268.9h0M356.7 221.6h0M351.9 265.5h0M355.9 225.8h0M345.1 250.8h0M373 268.8h0M349.4 261.8h0M350.4 245.3h0M344.7 160h0M410.2 263.2h0M342.9 130.7h0M349.5 271.5h0M344.7 256.9h0M343.4 216h0M346.3 268.4h0M345.9 182.3h0M347.9 171.8h0M350.1 227.5h0M371.4 22.6h0M343.5 264.2h0M354.6 244.2h0M402 238.7h0M346.3 271.5h0M348 224.7h0M361.6 92.3h0M356.6 270.4h0M351.5 258.8h0M362.3 229h0M346.8 267.8h0M366.1 260.7h0M358 171.8h0M354.7 262.7h0M345.3 217.7h0M344.2 257.1h0M349.8 271.4h0M364.1 22.6h0M352.8 256.6h0M345.4 195.8h0M366.9 266.4h0M343.2 227.2h0M366 256.8h0M348.4 271.9h0M348.4 249.2h0M368.8 267.9h0M344.7 226.1h0M344.7 223.9h0M347.4 265.1h0M365.5 169.3h0M349.1 139.5h0M343.4 258.8h0M359.4 263.2h0M362.6 254.9h0M364.1 262.7h0M344.2 244.7h0M343.8 220h0M368.8 266.6h0M349.1 89.3h0M360.1 233.2h0M350.7 144.2h0M353.9 143.1h0M353.6 263.7h0M364.9 266.6h0M356.3 268.8h0M356.9 64.2h0M371.7 239.2h0M396.8 180.6h0M350.3 262.7h0M362.6 233.3h0M346.2 256.2h0M371.1 22.6h0M344.6 221.5h0M343.1 214.8h0M344.4 192.4h0M355.6 270.2h0M370.7 269.1h0M342.9 267.2h0M344.4 211.7h0M356.3 264.9h0M343.2 163.1h0M352.8 258.5h0M345 255.5h0M351.4 267.9h0M350.4 260.1h0M345.6 200.4h0M347.7 255h0M347.6 268.1h0M346.1 243.5h0M350.3 251h0M343.8 266.6h0M345.1 265.3h0M367.8 264h0M353.4 225.6h0M351.9 261.8h0M379.9 268.7h0M360.6 237.3h0M356.4 256.7h0M359.4 22.6h0M357 259.8h0M346.7 249.2h0M346.7 197.4h0M365 35.1h0M344.9 244.2h0M342.9 269.7h0M350.6 233.1h0M411.6 208.8h0M357.1 39.5h0M400.9 264.8h0M353.2 264h0M384.1 267.8h0M358.8 263.1h0M349 248.9h0M352 270.7h0M358.1 267.6h0M368.3 267.1h0M346.9 250.6h0M358.2 145.4h0M345.6 269h0M375.3 263.4h0M349.6 263.7h0M389.8 266.2h0M365.6 268.7h0M347.9 240.2h0M370.7 265.4h0M348.4 247.8h0M343.6 259.9h0M352.3 22.6h0M343.4 202.2h0M350.7 271.9h0M352.8 245.4h0M343.5 255h0M345 89.9h0M368.5 262.7h0M375 267.4h0M354.8 263.1h0M350.4 269.2h0M350.2 226.4h0M377.2 269.6h0M358 41.4h0M357 238.8h0M378.1 265.4h0M370.9 22.6h0M363.1 107.9h0M349.3 240.4h0M356.8 268.1h0M344.8 199.8h0M353.5 171.5h0M343.7 244.6h0M363.4 268.2h0M344.3 204.9h0M343.7 220.8h0M349.7 258.2h0M374.6 268.3h0M345.3 239.7h0M361.8 268.2h0M361 267.7h0M367.4 22.6h0M366.5 267.7h0M347.2 247.5h0M346 184h0M351.3 256.9h0M351.7 269.5h0M343.2 241.7h0M378.6 238.1h0M370 266.2h0M351.8 260.9h0M344.9 256h0M365.2 265.2h0M356.9 269.7h0M353.7 264.9h0M358 256.2h0M346.3 255.8h0M345.8 225.4h0M354.1 235.6h0M345.6 269.4h0M362.9 270.4h0M369.4 22.6h0M360.4 269.1h0M344.1 154.4h0M344.3 265.1h0M354 188.5h0M369.2 270.3h0M347.3 52.7h0M351.5 22.6h0M359.4 264.3h0M354 267.6h0M353.3 206.9h0M352.7 262h0M349.2 125.8h0M347.2 167.4h0M346.5 237.2h0M351.8 268h0M359.3 259.8h0M358 35h0M353.7 234.4h0M348.4 180.3h0M343.9 224h0M349.7 255.9h0M349.3 270.1h0M346.4 247.4h0M348.1 238.8h0M350.3 256.3h0M354.8 221.2h0M375.6 269.3h0M348 266.5h0M359.5 261.7h0M345 256.7h0M364.8 267.2h0M354 264.7h0M360.4 261h0" stroke="#d83a36" stroke-width="3.4" stroke-linecap="round" fill="none" stroke-opacity="0.66"/>
<path d="M351.2 267.8h0M347 237.2h0M351.8 265h0M345.8 236.1h0M360.4 268.5h0M357.9 234.8h0M344.9 263h0M350.5 264.2h0M355.4 267.1h0M353 268.3h0M362.4 265.9h0M356.7 254.7h0M359.5 246.3h0M368.1 268.1h0M381.7 201.3h0M365 267.3h0M346.2 209.3h0M345.9 205.2h0M346.4 241.3h0M345.5 212.3h0M346.9 270.3h0M347.2 269.5h0M356.3 233.5h0M346.8 266.5h0M343.6 235.8h0M348 268h0M343.5 208h0M358.5 22.6h0M349.9 251.3h0M345.1 271.1h0M354.8 111.5h0M355.6 268.4h0M346.8 238.3h0M345 192.5h0M350.4 261.6h0M349.7 263.1h0M353.9 260.1h0M356.1 182.8h0M357.4 268.3h0M348.2 267.3h0M346 219h0M361.1 259.9h0M356.9 266.5h0M387.1 154.3h0M348.8 78h0M344.5 162.7h0M363.2 248.3h0M349.6 22.6h0M346.5 237.3h0M345.4 246.4h0M363.7 119.4h0M350.1 245.9h0M362.5 258h0M374.7 267.1h0M346.1 271.5h0M342.9 239.1h0M347.3 262.3h0M350.6 247.3h0M357.6 31.2h0M344 269.9h0M345.4 234.5h0M373 263.4h0M366.1 166.2h0M349.1 64.6h0M347.8 262.1h0M348.3 236.9h0M345.4 238.2h0M351 223h0M346.1 257.2h0M359.6 251.1h0M385.7 204.7h0M353.9 247.9h0M359.3 222.1h0M372 266.9h0M353.2 97.4h0M343.4 244.9h0M343.1 271.5h0M343.6 259h0M355.5 249.9h0M359 270.4h0M364 43.3h0M359.6 266.1h0M345.3 228.2h0M350.9 185.4h0M345.7 248h0M352.1 22.6h0M352.6 256h0M343.3 265.5h0M356.4 187h0M343.1 227.9h0M380.7 230.8h0M355.4 114.1h0M344 271h0M345.4 231.9h0M346.8 267.9h0M360.6 260.6h0M343.1 130.1h0M357.1 207.5h0M345.3 230.1h0M360.2 243.1h0M356.2 252.7h0M360.2 258.7h0M345.1 244.1h0M343.4 271h0M346.9 187.2h0M370.3 22.6h0M360.7 261.6h0M343.6 219h0M372.4 267.3h0M366.1 269.8h0M387.5 267h0M361.4 262.4h0M345.1 259.8h0M351.5 270.9h0M355.4 187.8h0M402 207.2h0M343.5 227.3h0M345.9 212.4h0M363.9 267.2h0M351.2 242h0M358.1 266.4h0M368 245.1h0M355.1 255.3h0M343.4 267.7h0M383.4 174.8h0M368.2 269.4h0M352.6 265.2h0M345.9 265.3h0M350.7 22.6h0M345.9 218.6h0M361.9 182.2h0M349.2 259h0M370.6 265.8h0M358.7 22.6h0M366.8 262.5h0M380.3 240.3h0M345.6 242.7h0M350.6 242.8h0M358 196h0M358.2 141.9h0M363.4 271.2h0M359.8 47.5h0M347.6 238.5h0M343.8 249.8h0M376.8 266.4h0M343.9 257.5h0M343.1 197.2h0M345.9 121.2h0M348.7 255.4h0M368.1 264.9h0M356.4 136.7h0M348.4 264.8h0M363.4 230.9h0M394.6 188.9h0M349.1 237.5h0M343.6 259.6h0M355.3 191h0M345.9 164.9h0M347.9 177.8h0M344.4 258.1h0M345 258.9h0M367.2 139.2h0M353.6 238.4h0M355.4 266.5h0M347.4 263.7h0M371.3 99.6h0M351.5 22.6h0M369.9 225.5h0M344.4 154h0M358.4 270.4h0M353.4 265.8h0M351.9 270.6h0M363.3 255.3h0M367.3 264.7h0M349 224.7h0M344.5 251.6h0M353.1 236.5h0M353 244.2h0M355.1 271.3h0M343.6 261.4h0M369.9 266.8h0M344.4 268.4h0M366.9 258.7h0M348.8 261h0M351.9 270.5h0M361.6 244.2h0M346.5 256.4h0M365.5 222.7h0M348.3 261.5h0M345.3 209.8h0M344.4 267.2h0M357.5 264.5h0M368.1 158.4h0M348 258.7h0M347.8 227.1h0M356.2 245.9h0M387.2 22.6h0M347.8 268.7h0M368.1 22.6h0M353.4 34.7h0M357.8 242h0M347.7 245.9h0M354.9 38.9h0M372.7 228.7h0M353.8 270.2h0M347.9 251.5h0M346.5 244.3h0M349 265.3h0M353.4 240.2h0M345.2 241.7h0M345 243.3h0M346.7 195.1h0M361.4 266.3h0M392.4 267.4h0M349.3 261.4h0M345.2 236.3h0M348.7 248h0M364.7 22.6h0M344.8 142.6h0M371.9 268.9h0M354.3 229.9h0M346.6 263.7h0M387.6 265.4h0M345.9 264.6h0M346.2 235.6h0M358.3 134.8h0M348.8 248.8h0M344.2 181.8h0M370.2 22.6h0M366.8 175.9h0M364.9 260.8h0M343.8 255.3h0M347 267.3h0M361.6 31.6h0M356.2 234.6h0M343.4 150.3h0M356 267.1h0M343.7 246.7h0M355.5 271.6h0M374.7 264.3h0M345.3 259.9h0M343.4 180.5h0M381.4 191.9h0M347.9 255.9h0M343.9 271.8h0M346.2 200.7h0M343.8 268.8h0M343 215.7h0M348.2 254.6h0M346.5 55.8h0M360.5 111.7h0M359.5 22.6h0M365.1 263.1h0M345.9 228.2h0M365 253.6h0M355.6 250h0M390.6 262.7h0M349.5 241h0M366.4 195.4h0M346.5 219.8h0M347.9 259.1h0M360.2 252.1h0M354.7 268.6h0M373.3 165.4h0M356.1 151.5h0M350.5 264.2h0M346.3 167.9h0M345.6 172.9h0M349 215.7h0M353.7 22.6h0M368.5 264.7h0M346.2 240.8h0M348.1 242.9h0M345.3 235.8h0M350.7 270.6h0M397.9 265h0M354 22.6h0M361.6 268.1h0M350.5 269.5h0M348.7 247.9h0M343.1 271.7h0M369.7 52.8h0M367.8 22.6h0M350.4 132.7h0M346.8 262h0M344.7 238h0M345.7 264.1h0M349.4 270.8h0M350.2 261.6h0M348.6 271.7h0M365.6 269.8h0M345.5 262.8h0M343 264.3h0M346.3 271.7h0M360.1 200.4h0M366 263.1h0M344.3 78.7h0M351.3 255.9h0M349.7 267h0M357.4 266.5h0M345.7 259.9h0M349.6 257h0M356.5 162h0M343.6 215.4h0M370.2 265.9h0M354.1 242.1h0M350.4 168.9h0M347.2 245.4h0M344.6 268.8h0M345.1 215.6h0M362.5 117.3h0M366.6 269.7h0M372.8 267.6h0M360.1 269h0M357.7 258.5h0M356.7 260.6h0M356.7 269.1h0M357.2 22.6h0M354.2 252.2h0M350.5 142.3h0M357.7 258.8h0M356.9 271.5h0M368.7 225.5h0M345.2 234.4h0M366 268h0M354.6 30.9h0M348.6 252.2h0M347 232.6h0M368.3 267.6h0M358.2 268.9h0M371.4 270.1h0M349.4 248h0M350.9 271.8h0M346.6 268.8h0M353.5 269.4h0M345.1 117.5h0M375.8 262.8h0M347.5 224.3h0M363.6 267.9h0M343.9 116.5h0M343.2 174.6h0M343.7 260.1h0M394.7 267h0M371 61.8h0M369.1 270.5h0M342.9 271.5h0M360.8 268h0M378.8 161.8h0M359.3 260.8h0M347.1 268.7h0M351 241.5h0M356.9 224.4h0M352.5 261.1h0M344 100.4h0M383.5 263.6h0M369.7 268.9h0M395 266.6h0M370.6 266.5h0M343.8 245.2h0" stroke="#d83a36" stroke-width="3.4" stroke-linecap="round" fill="none" stroke-opacity="0.66"/>
<path d="M352.6 239.7h0M349.4 250.3h0M381.4 247.3h0M351.5 259.9h0M346 240.8h0M344.9 231.9h0M345.9 217.6h0M350.7 262.9h0M356.1 241.8h0M354 254.9h0M358.2 225h0M363.6 102.2h0M356.5 264.6h0M360.8 268.6h0M352.4 266.5h0M355.5 269.7h0M343 174.1h0M362.2 270.2h0M345.8 180.2h0M360.7 22.6h0M371.6 269.3h0M351.8 270.3h0M343 250.3h0M373.4 266.4h0M349 268.6h0M409.4 259.5h0M345.3 242.4h0M346.1 250.7h0M353.7 267.6h0M344.6 270.9h0M360.9 251.8h0M349.1 263.5h0M351.2 251.5h0M347.7 268.3h0M343.1 220.2h0M357.4 268.2h0M348.2 268h0M342.9 257h0M361.8 144.4h0M343.9 169.2h0M342.9 256.9h0M347.1 193.6h0M353.4 203.7h0M369 268.3h0M345.2 247.4h0M349.4 270.6h0M354.5 267.5h0M345.2 196.4h0M355.2 221.1h0M343 221.2h0M376.8 258.4h0M363.6 257.1h0M358.2 266.7h0M350.6 258.9h0M345.3 238.6h0M352.4 262.8h0M358.1 266.1h0M355 270h0M366.4 249.8h0M346.6 207.9h0M349.9 268.2h0M361.7 268.5h0M346.2 266.1h0M357.9 105.4h0M360.8 270.6h0M346.6 248.4h0M344.3 233.1h0M367.8 22.6h0M370.2 130.4h0M352.2 99.9h0M359.2 216.6h0M355.3 268.7h0M344.2 259.4h0M353.1 259.2h0M342.9 261.8h0M346.7 264.7h0M350.4 262.7h0M343 268h0M347.6 258.8h0M345.1 235.2h0M342.9 234.1h0M346.3 74.9h0M346.7 257h0M360.5 187.7h0M349.2 270.4h0M359.2 270.8h0M353.5 270.7h0M344 212.8h0M350.2 55.9h0M343 252.3h0M349.7 250.5h0M368.1 108h0M413.1 257h0M377.5 269.8h0M379.7 268.5h0M346.5 228.7h0M367.5 85.9h0M344.9 215h0M345 122.4h0M349.1 271.5h0M351.4 145.9h0M345.9 171.6h0M347.4 29.7h0M352.2 227h0M362 260.3h0M355.7 22.6h0M367.6 270.5h0M353.9 130.3h0M360.3 268.3h0M345.6 221.2h0M357.5 260h0M361.2 99.5h0M343.1 187.1h0M346.4 177.4h0M348.5 240.7h0M366.7 259.5h0M348.2 259.5h0M369.9 214.8h0M368.9 22.6h0M384.5 268.5h0M344 263.3h0M345.9 263.4h0M342.9 247.6h0M349 43.8h0M359.9 268.7h0M347.4 202.5h0M349.1 269.8h0M369.4 188.8h0M379.6 264.6h0M353.3 269.3h0M360.3 267.5h0M346.2 269.2h0M350.8 251h0M368.4 266.5h0M347 239h0M363.7 68.3h0M346.7 242.2h0M364.8 271h0M348.3 264.6h0M372.4 22.6h0M347.4 226.8h0M343.3 265.8h0M407.9 226.3h0M348.9 234.8h0M353.7 205.4h0M390.8 264h0M347.6 268.4h0M354.6 266.1h0M352.6 225.9h0M349.9 76.8h0M343.1 263h0M347.2 255.1h0M343 261.3h0M351.4 248h0M392.8 266.9h0M346.3 158.5h0M384.4 164.1h0M343.4 182.5h0M345.4 235.7h0M345.2 245.9h0M348.2 264.5h0M385.8 267.7h0M344.4 212.9h0M355.8 226.7h0M351.3 260.9h0M362.8 257.1h0M343.5 228.7h0M348 255.8h0M375.4 229.7h0M346.1 260.3h0M344.3 207.1h0M362 269.6h0M358.4 268.6h0M366.2 266.2h0M382 268.8h0M352.4 192.5h0M349 244.9h0M354.6 271.7h0M352.7 125.2h0M353.7 155.3h0M361.2 264h0M347.7 268.6h0M358.3 268.6h0M371.4 243.4h0M353.9 267.5h0M343.9 271.5h0M345.9 262.4h0M361.7 219.1h0M345.1 262.8h0M346.8 264.8h0M365.7 270.8h0M351.1 270.5h0M350.7 267h0M362.8 269h0M345.9 265.3h0M362.9 268.6h0M349.9 217.8h0M353.9 227.3h0M347 244.8h0M351.7 22.6h0M364.1 268.1h0M351.5 265.2h0M342.9 259.9h0M385 211.9h0M372.3 268.9h0M371.1 223.5h0M346.6 259.2h0M382.9 245.8h0M347.6 265.5h0M343.8 241.9h0M369.5 22.6h0M344.1 236.3h0M360.8 260.7h0M344.3 252.8h0M347.7 204.5h0M354.3 268.5h0M343.5 271.6h0M351.8 238.7h0M358.2 74.3h0M347 268.9h0M350.8 175.1h0M355.2 271.7h0M364 263.8h0M348.4 185.3h0M348 264.1h0M364.4 267.6h0M351.9 267.9h0M354.9 203.1h0M347.3 212.3h0M352.7 249.1h0M348.5 264.5h0M366.8 261.2h0M379.8 267.5h0M375.1 267.4h0M344.7 243.2h0M366.5 265h0M344.3 238.8h0M358.6 252.1h0M354.2 265h0M352.5 251.5h0M363.2 269.5h0M369.9 81.5h0M368.6 268.2h0M343.3 210.6h0M350.9 262.6h0M365.7 263.4h0M367.3 241.8h0M353.2 40.8h0M343.3 261.5h0M359.3 258.1h0M360.9 246.3h0M343.3 219.1h0M361.7 242.5h0M347.3 255.1h0M362.2 266.2h0M356.9 74.2h0M393.1 267.1h0M351.7 270.3h0M352.9 265.9h0M353.9 264.7h0M348 271.7h0M349.6 263.3h0M344.8 81.4h0M359.1 269.5h0M371.1 161.5h0M345.7 270.1h0M351.4 266h0M373 174h0M388 263.6h0M345.6 269.8h0M355.1 268.5h0M342.8 255.9h0M356.8 22.6h0M344.8 245.6h0M345.1 255.1h0M374.1 179.8h0M360.3 268.5h0M346.2 196.5h0M370.2 22.6h0M352.1 249.2h0M347.1 266.4h0M347.1 187.9h0M361 95.2h0M394.8 261.6h0M348 257.3h0M344.8 271.3h0M355.6 238.7h0M355.1 136.4h0M357.2 269.4h0M370.9 265.7h0M353.6 221.9h0M367.5 128.2h0M342.9 239.8h0M346.7 256.3h0M346.9 268.7h0M354.4 270.8h0M351.8 59h0M350 246.5h0M363.2 244.8h0M369.1 261.8h0M348.5 230.7h0M351.4 229.1h0M352.9 268.4h0M343.9 268.9h0M352.7 270h0M351.5 217.1h0M348.7 76.6h0M390.2 230.4h0M364.1 258.9h0M360.7 247.3h0M354.4 22.6h0M349.4 258h0M345.2 237h0M380.7 266.9h0M343.2 251.7h0M357.6 22.6h0M351.2 251.4h0M362.5 57.3h0M366.5 72.5h0M348.8 245.7h0M344.7 268.9h0M381.2 219.9h0M357.8 40.2h0M365 255h0M349 271h0M346.7 254.2h0M356.5 22.6h0M355.9 266h0M363.8 259.6h0M370.4 266.1h0M346.4 262.2h0M344.4 219.4h0M355.3 257.6h0M344 265.3h0M343.3 157.8h0M344.7 81.8h0M369.6 265.2h0M343.6 250h0M363.8 22.6h0M343.7 195.4h0M348.2 259.4h0M353.6 258.1h0M354.6 232.9h0M345.8 271.8h0M352.7 271.6h0M345 238.9h0M368.7 22.6h0M343.5 240.9h0M345.3 266.2h0M359.7 22.6h0M347.6 253h0M387.2 22.6h0M351.4 90.9h0M371.4 263.8h0M346.5 221.5h0M343 236.8h0M343 231.3h0M352.6 22.6h0" stroke="#d83a36" stroke-width="3.4" stroke-linecap="round" fill="none" stroke-opacity="0.66"/>
<rect x="237.6" y="10.5" width="195.9" height="274.7" fill="none" stroke="#8a8a8a" stroke-width="0.8"/>
<text x="240.1" y="16.47" font-size="5.2" fill="#231f20">Down</text>
<text x="240.1" y="24.27" font-size="5.2" fill="#231f20">p &lt; 0.05: 4358</text>
<text x="240.1" y="32.07" font-size="5.2" fill="#231f20">log<tspan font-size="3.6" dy="1">2</tspan><tspan dy="-1">FC</tspan> &lt; -1: 6199</text>
<text x="240.1" y="39.87" font-size="5.2" fill="#231f20">Sig. : 1692</text>
<text x="431" y="16.47" font-size="5.2" text-anchor="end" fill="#231f20">Up</text>
<text x="431" y="24.27" font-size="5.2" text-anchor="end" fill="#231f20">p &lt; 0.05: 4599</text>
<text x="431" y="32.07" font-size="5.2" text-anchor="end" fill="#231f20">log<tspan font-size="3.6" dy="1">2</tspan><tspan dy="-1">FC</tspan> &gt; 1: 4171</text>
<text x="431" y="39.87" font-size="5.2" text-anchor="end" fill="#231f20">Sig. : 1023</text>
<text x="269.2" y="46.7" font-size="6.1" text-anchor="end" fill="#4a7eaa">LIPA</text>
<line x1="270.2" y1="44.5" x2="320.6" y2="22.61" stroke="#6a96c0" stroke-width="0.6" stroke-dasharray="2.2,1.3"/>
<text x="269.2" y="53.12" font-size="6.1" text-anchor="end" fill="#4a7eaa">RIMS3</text>
<line x1="270.2" y1="50.92" x2="318.38" y2="22.61" stroke="#6a96c0" stroke-width="0.6" stroke-dasharray="2.2,1.3"/>
<text x="269.2" y="59.54" font-size="6.1" text-anchor="end" fill="#4a7eaa">DYSF</text>
<line x1="270.2" y1="57.34" x2="322.08" y2="22.61" stroke="#6a96c0" stroke-width="0.6" stroke-dasharray="2.2,1.3"/>
<text x="269.2" y="65.96" font-size="6.1" text-anchor="end" fill="#4a7eaa">SPP1</text>
<line x1="270.2" y1="63.76" x2="316.9" y2="35.08" stroke="#6a96c0" stroke-width="0.6" stroke-dasharray="2.2,1.3"/>
<text x="269.2" y="72.38" font-size="6.1" text-anchor="end" fill="#4a7eaa">ACP5</text>
<line x1="270.2" y1="70.18" x2="324.3" y2="51.71" stroke="#6a96c0" stroke-width="0.6" stroke-dasharray="2.2,1.3"/>
<text x="269.2" y="78.8" font-size="6.1" text-anchor="end" fill="#4a7eaa">TREM2</text>
<line x1="270.2" y1="76.6" x2="319.86" y2="64.17" stroke="#6a96c0" stroke-width="0.6" stroke-dasharray="2.2,1.3"/>
<text x="269.2" y="85.22" font-size="6.1" text-anchor="end" fill="#4a7eaa">A2M</text>
<line x1="270.2" y1="83.02" x2="326.52" y2="72.49" stroke="#6a96c0" stroke-width="0.6" stroke-dasharray="2.2,1.3"/>
<text x="269.2" y="91.64" font-size="6.1" text-anchor="end" fill="#4a7eaa">PLD4</text>
<line x1="270.2" y1="89.44" x2="319.12" y2="93.27" stroke="#6a96c0" stroke-width="0.6" stroke-dasharray="2.2,1.3"/>
<text x="269.2" y="98.06" font-size="6.1" text-anchor="end" fill="#4a7eaa">GPNMB</text>
<line x1="270.2" y1="95.86" x2="323.56" y2="105.74" stroke="#6a96c0" stroke-width="0.6" stroke-dasharray="2.2,1.3"/>
<text x="269.2" y="104.48" font-size="6.1" text-anchor="end" fill="#4a7eaa">ITGB7</text>
<line x1="270.2" y1="102.28" x2="327.26" y2="82.46" stroke="#6a96c0" stroke-width="0.6" stroke-dasharray="2.2,1.3"/>
<line x1="246.8" y1="42.3" x2="246.8" y2="59.1" stroke="#5cb85c" stroke-width="1"/>
<line x1="246.8" y1="61.3" x2="246.8" y2="104.5" stroke="#f2b255" stroke-width="1"/>
<text x="397.6" y="47.5" font-size="6.1" fill="#dc4644">SOD2</text>
<line x1="396.6" y1="45.3" x2="387.2" y2="22.61" stroke="#e06a6a" stroke-width="0.6" stroke-dasharray="2.2,1.3"/>
<text x="397.6" y="54.47" font-size="6.1" fill="#dc4644">CD44</text>
<line x1="396.6" y1="52.27" x2="372.4" y2="22.61" stroke="#e06a6a" stroke-width="0.6" stroke-dasharray="2.2,1.3"/>
<text x="397.6" y="61.44" font-size="6.1" fill="#dc4644">TNFAIP3</text>
<line x1="396.6" y1="59.24" x2="367.96" y2="22.61" stroke="#e06a6a" stroke-width="0.6" stroke-dasharray="2.2,1.3"/>
<text x="397.6" y="68.41" font-size="6.1" fill="#dc4644">SGK1</text>
<line x1="396.6" y1="66.21" x2="362.04" y2="22.61" stroke="#e06a6a" stroke-width="0.6" stroke-dasharray="2.2,1.3"/>
<text x="397.6" y="75.38" font-size="6.1" fill="#dc4644">ICAM1</text>
<line x1="396.6" y1="73.18" x2="357.6" y2="22.61" stroke="#e06a6a" stroke-width="0.6" stroke-dasharray="2.2,1.3"/>
<text x="397.6" y="82.35" font-size="6.1" fill="#dc4644">ZC3H12A</text>
<line x1="396.6" y1="80.15" x2="365" y2="35.08" stroke="#e06a6a" stroke-width="0.6" stroke-dasharray="2.2,1.3"/>
<text x="397.6" y="89.32" font-size="6.1" fill="#dc4644">KYNU</text>
<line x1="396.6" y1="87.12" x2="354.64" y2="30.92" stroke="#e06a6a" stroke-width="0.6" stroke-dasharray="2.2,1.3"/>
<text x="397.6" y="96.29" font-size="6.1" fill="#dc4644">EBI3</text>
<line x1="396.6" y1="94.09" x2="359.82" y2="47.55" stroke="#e06a6a" stroke-width="0.6" stroke-dasharray="2.2,1.3"/>
<text x="397.6" y="103.26" font-size="6.1" fill="#dc4644">AMPD3</text>
<line x1="396.6" y1="101.06" x2="351.68" y2="22.61" stroke="#e06a6a" stroke-width="0.6" stroke-dasharray="2.2,1.3"/>
<text x="397.6" y="110.23" font-size="6.1" fill="#dc4644">FMNL3</text>
<line x1="396.6" y1="108.03" x2="356.86" y2="64.17" stroke="#e06a6a" stroke-width="0.6" stroke-dasharray="2.2,1.3"/>
<text x="397.6" y="117.2" font-size="6.1" fill="#dc4644">IL1B</text>
<line x1="396.6" y1="115" x2="366.48" y2="72.49" stroke="#e06a6a" stroke-width="0.6" stroke-dasharray="2.2,1.3"/>
<text x="397.6" y="124.17" font-size="6.1" fill="#dc4644">CHST2</text>
<line x1="396.6" y1="121.97" x2="350.2" y2="55.86" stroke="#e06a6a" stroke-width="0.6" stroke-dasharray="2.2,1.3"/>
<text x="397.6" y="131.14" font-size="6.1" fill="#dc4644">TNFRSF9</text>
<line x1="396.6" y1="128.94" x2="361.3" y2="84.96" stroke="#e06a6a" stroke-width="0.6" stroke-dasharray="2.2,1.3"/>
<text x="397.6" y="138.11" font-size="6.1" fill="#dc4644">TRAF1</text>
<line x1="396.6" y1="135.91" x2="353.16" y2="97.43" stroke="#e06a6a" stroke-width="0.6" stroke-dasharray="2.2,1.3"/>
<text x="397.6" y="145.08" font-size="6.1" fill="#dc4644">STAT1</text>
<line x1="396.6" y1="142.88" x2="348.72" y2="76.64" stroke="#e06a6a" stroke-width="0.6" stroke-dasharray="2.2,1.3"/>
<text x="397.6" y="152.05" font-size="6.1" fill="#dc4644">OAS3</text>
<line x1="396.6" y1="149.85" x2="355.38" y2="114.05" stroke="#e06a6a" stroke-width="0.6" stroke-dasharray="2.2,1.3"/>
<text x="397.6" y="159.02" font-size="6.1" fill="#dc4644">MX1</text>
<line x1="396.6" y1="156.82" x2="350.94" y2="126.52" stroke="#e06a6a" stroke-width="0.6" stroke-dasharray="2.2,1.3"/>
<text x="397.6" y="165.99" font-size="6.1" fill="#dc4644">OAS2</text>
<line x1="396.6" y1="163.79" x2="358.34" y2="134.84" stroke="#e06a6a" stroke-width="0.6" stroke-dasharray="2.2,1.3"/>
<text x="397.6" y="172.96" font-size="6.1" fill="#dc4644">SLC39A8</text>
<line x1="396.6" y1="170.76" x2="353.9" y2="143.15" stroke="#e06a6a" stroke-width="0.6" stroke-dasharray="2.2,1.3"/>
<text x="397.6" y="179.93" font-size="6.1" fill="#dc4644">SLC2A6</text>
<line x1="396.6" y1="177.73" x2="356.12" y2="151.46" stroke="#e06a6a" stroke-width="0.6" stroke-dasharray="2.2,1.3"/>
<line x1="424.8" y1="43" x2="424.8" y2="137.4" stroke="#f2b255" stroke-width="1"/>
<line x1="424.8" y1="141.5" x2="424.8" y2="165.5" stroke="#6cb6ea" stroke-width="1"/>
<line x1="424.8" y1="168.5" x2="424.8" y2="180.9" stroke="#5cb85c" stroke-width="1"/>
<line x1="240.1" y1="215.2" x2="245.1" y2="215.2" stroke="#f2b255" stroke-width="0.9"/>
<text x="246.1" y="217.36" font-size="6" fill="#231f20">Inflammatory 7+14</text>
<line x1="240.1" y1="222.4" x2="245.1" y2="222.4" stroke="#6cb6ea" stroke-width="0.9"/>
<text x="246.1" y="224.56" font-size="6" fill="#231f20">Antiviral 0+4</text>
<line x1="240.1" y1="229.6" x2="245.1" y2="229.6" stroke="#5cb85c" stroke-width="0.9"/>
<text x="246.1" y="231.76" font-size="6" fill="#231f20">Intestinal</text>
<text x="246.1" y="238.96" font-size="6" fill="#231f20">physiology 3+2</text>
<circle cx="242.6" cy="244" r="0.9" fill="#e0403c"/>
<text x="246.1" y="246.16" font-size="6" fill="#231f20">Significant</text>
<text x="246.1" y="253.36" font-size="6" fill="#231f20">Up 1023</text>
<circle cx="242.6" cy="258.4" r="0.9" fill="#4a7eaa"/>
<text x="246.1" y="260.56" font-size="6" fill="#231f20">Significant</text>
<text x="246.1" y="267.76" font-size="6" fill="#231f20">Down 1692</text>
<text x="454" y="11.42" font-size="9.5" fill="#000" font-weight="bold">c</text>
<text x="580.7" y="8.19" font-size="8.3" text-anchor="middle" fill="#231f20">EV1-MaugOs vs Ctrl-MaugOs</text>
<line x1="481.4" y1="272" x2="483.9" y2="272" stroke="#c8c8c8" stroke-width="0.8"/>
<text x="478.5" y="274.95" font-size="8.2" text-anchor="end" fill="#231f20">0</text>
<line x1="481.4" y1="187.77" x2="483.9" y2="187.77" stroke="#6d6e71" stroke-width="0.8"/>
<text x="480.9" y="190.72" font-size="8.2" text-anchor="end" fill="#231f20">100</text>
<line x1="481.4" y1="103.54" x2="483.9" y2="103.54" stroke="#6d6e71" stroke-width="0.8"/>
<text x="480.9" y="106.49" font-size="8.2" text-anchor="end" fill="#231f20">200</text>
<line x1="481.4" y1="19.31" x2="483.9" y2="19.31" stroke="#6d6e71" stroke-width="0.8"/>
<text x="480.9" y="22.26" font-size="8.2" text-anchor="end" fill="#231f20">300</text>
<line x1="522.5" y1="285.2" x2="522.5" y2="287.7" stroke="#6d6e71" stroke-width="0.8"/>
<text x="522.5" y="296.35" font-size="8.2" text-anchor="middle" fill="#231f20">-10</text>
<line x1="581.5" y1="285.2" x2="581.5" y2="287.7" stroke="#6d6e71" stroke-width="0.8"/>
<text x="581.5" y="296.35" font-size="8.2" text-anchor="middle" fill="#231f20">0</text>
<line x1="640.5" y1="285.2" x2="640.5" y2="287.7" stroke="#6d6e71" stroke-width="0.8"/>
<text x="640.5" y="296.35" font-size="8.2" text-anchor="middle" fill="#231f20">10</text>
<text x="0" y="2.95" font-size="8.2" transform="translate(461.5,144.5) rotate(-90)" text-anchor="middle" fill="#231f20">-log<tspan font-size="5.5" dy="1.5">10</tspan><tspan dy="-1.5">p-value</tspan></text>
<text x="582" y="304.25" font-size="8.2" text-anchor="middle" fill="#231f20">log<tspan font-size="5.5" dy="1.5">2</tspan><tspan dy="-1.5"> FoldChange</tspan></text>
<line x1="575.6" y1="10.9" x2="575.6" y2="285.2" stroke="#c8c8c8" stroke-width="0.7" stroke-dasharray="3,2"/>
<line x1="587.4" y1="10.9" x2="587.4" y2="285.2" stroke="#c8c8c8" stroke-width="0.7" stroke-dasharray="3,2"/>
<line x1="483.9" y1="270.91" x2="679.4" y2="270.91" stroke="#dcdcdc" stroke-width="0.7" stroke-dasharray="3,2"/>
<polygon points="575.6,234.1 580.91,270.32 581.21,272 575.6,272" fill="#8cc8ea" opacity="0.9"/>
<polygon points="587.4,238.31 582.09,270.32 581.79,272 587.4,272" fill="#eaa9c2" opacity="0.9"/>
<path d="M563 265.5h0M571.6 240.7h0M553.5 269.3h0M563.6 271h0M572.5 253.9h0M559.7 270.5h0M569.5 268.1h0M567.9 263.4h0M560.6 270.4h0M560.9 262.3h0M574 264.1h0M569.3 230.3h0M575.3 220.5h0M571.7 265.5h0M574.5 264.6h0M567.9 270.1h0M568.7 229.7h0M575.4 263.5h0M562.2 266.5h0M558 256.3h0M567.9 271.2h0M575.2 268.5h0M567.8 266.9h0M573.5 261.5h0M574.9 260.2h0M571 257.8h0M557.1 268.1h0M562.5 265.5h0M557.3 266.8h0M553.8 266.7h0M562.1 268.2h0M561.4 267.2h0M570 267.6h0M574.1 263.3h0M573.4 269.8h0M565.1 260h0M572.4 253.3h0M569 267.1h0M574.2 237.4h0M574.7 269.1h0M570.3 271.6h0M571.7 257.8h0M570.5 259.6h0M559.5 270.6h0M573.1 270.3h0M569.9 267.3h0M575 193.6h0M546.4 261h0M571.1 270.2h0M574 258.9h0M569.1 265.4h0M574 250.9h0M572.3 201.3h0M562.2 270h0M571.2 258.2h0M574.6 258h0M573.1 243.6h0M566 267.8h0M571.2 255.6h0M575.2 271.2h0M574.3 271.5h0M570.6 265.9h0M575.3 271.8h0M572.7 269.9h0M574.2 270.9h0M570.7 244.2h0M574.6 267.7h0M572.8 261.5h0M565.3 271.4h0M574.4 265.1h0M574.6 265h0M569.9 265.8h0M559.8 269.5h0M560.4 259h0M575.2 251.7h0M569.6 252.2h0M570.9 239.7h0M574.8 269.9h0M572.2 265.5h0M570.5 260.1h0M566.6 260.6h0M573.7 269.4h0M569.2 271.6h0M574.7 252.7h0M569.5 204.5h0M573.6 259.1h0M574.3 259h0M574.2 264.6h0M575.4 270.3h0M573.8 270.2h0M573.3 239.2h0M568 254.9h0M564 270.6h0M556.7 269.1h0M575.3 254.8h0M573.2 269h0M571.2 271.7h0M570.7 263.5h0M572.7 251.5h0M572 270.7h0M571.1 259.3h0M574.9 267.1h0M573.3 258h0M575 258.9h0M569.8 244.6h0M567 270.9h0M570.5 268.9h0M571.6 256.8h0M568.5 166.7h0M569.7 263.6h0M568.2 268h0M574.4 233.4h0M573.6 230.9h0M568.8 264.4h0M573.9 264.5h0M564.4 264.7h0M573.6 243.4h0M566.6 270.7h0M574.8 269.2h0M571 261.7h0M567.9 160h0M572.7 271.9h0M573.8 225.5h0M574.9 260.7h0M569.1 252.1h0M569.8 257.2h0M570.2 270.6h0M569.4 269.9h0M570.6 250.8h0M573.9 268.2h0M568.9 270.8h0M553.9 267.7h0M567.8 268.5h0M560 269.6h0M574.7 266.5h0M568.7 246.9h0M562 268.2h0M559 268.7h0M569.7 266.6h0M571.8 243.6h0M569.9 264h0M566 268.1h0M569.4 268h0M562 267.7h0M567.8 251.3h0M574.9 271.9h0M571.4 249.2h0M573.7 261.2h0M572.4 268.1h0M568.7 267.4h0M572.5 270.7h0M569.7 259.4h0M572.6 270.3h0M565 254.5h0M574.7 271.1h0M564.3 262h0M554 264.9h0M569.8 268.3h0M574.3 271.7h0M574.6 269.8h0M574.9 265.8h0M561.4 261.3h0M575 268.7h0M574 202.8h0M568.1 271.5h0M571.1 266h0M572.7 270h0M557.1 267.5h0M568.1 267.2h0M572.2 269h0M574.1 271.3h0M565.7 268.4h0M575.3 223.7h0M575.4 263.4h0M569.1 264.1h0M574 271.4h0M570.3 270.9h0M575.3 264.6h0M570.9 269.3h0M575 264.2h0M571.8 268.4h0M575 261.6h0M568.7 270h0M565.9 226.5h0M557 263.4h0M566.5 270.9h0M566.2 254.6h0M573 247.5h0M570 269.7h0M568.1 265.2h0M569.2 271.4h0M569.9 271.5h0M575.4 271.3h0M560.4 258.6h0M573.8 262.8h0M561.5 266.4h0M575.2 270.8h0M575.5 271.3h0M563.1 257.8h0M572.3 253.5h0M573.8 246.1h0M561.8 271.1h0M575.2 263.1h0M575.2 269.5h0M570.4 270.8h0M567.2 266.1h0M558.5 252.9h0M559.1 265.2h0M573.9 255.6h0M569.3 251.7h0M575 265h0M569.6 266.5h0M574.2 213.3h0M565.3 267.7h0M573.7 269.9h0M573.6 254.6h0M575.5 242.3h0M573.4 226.7h0M571.2 270.2h0M567.9 268h0M568.6 257.4h0M571.9 269.2h0M573.4 265.2h0M571.2 271.5h0M573.6 256.3h0M571.3 271.1h0M563.2 268.2h0M568.9 261.7h0M575.2 256.6h0M573.6 266.1h0M566.5 262.5h0M571.3 270.6h0M575.2 268.5h0M572.3 269.6h0M574.9 264.6h0M573.6 271h0M569 268.7h0M567 267.6h0M567.4 269.9h0M551.8 264.6h0M573.2 271.8h0M567.7 254.8h0M571.3 267.9h0M572.3 271.9h0M575.1 264.6h0M575.1 242.8h0M572.2 250.7h0M565.3 257.9h0M574.1 217.6h0M571.8 261.9h0M557.1 270h0M571.1 271.1h0M572.6 265.7h0M572.5 267.8h0M568.2 268.4h0M570.9 265.7h0M572.9 265h0M566.9 255.7h0M570 269.8h0M574.5 256.9h0M564 256.6h0M567.3 257.2h0M567.3 264.4h0M570.7 268.9h0M573.5 250.5h0M572.3 264.3h0M574.2 258.7h0M574.3 267.7h0M570.8 217.2h0M561.2 259.3h0M567.2 268.7h0M571.8 260.1h0M569.4 253.9h0M567.4 259.4h0M562.2 268.3h0M566.2 269.3h0M573.1 269.9h0M558.6 269.3h0M573.3 250.3h0M570.3 269.6h0M567.6 269.7h0M564.3 265.9h0M563.5 266.6h0M574 267.1h0M572.9 262.2h0M567.1 247.3h0M575 255.4h0M575.3 263.3h0M568.2 252.2h0M563.8 265.2h0M568.2 264.2h0M571.2 270.1h0M573.4 264.9h0M558.7 261.1h0M571.5 260.6h0M570.4 257.6h0M574.7 263.7h0M574.5 268.5h0M570.3 269.6h0M566.2 269h0M563.3 268.6h0M566.7 269.3h0M570.3 192h0M569.9 257.4h0M573.7 271.9h0M563.8 112h0M569.5 267.4h0M572 267.2h0M560.5 223.6h0M573.3 239h0M575.6 243.5h0M572.9 242.1h0M573.5 271.6h0M562.2 270.3h0M569.2 267.6h0M575.6 251.6h0M562.2 268.1h0M574.9 261.8h0M573 271.1h0M574.6 259.4h0M569.8 260.8h0M570.9 271.8h0M569.9 253.3h0M568.7 258.3h0M572.8 265.4h0M571.4 271.4h0M566.2 270.7h0M561.9 268.4h0M572.2 268.7h0M575.4 265.4h0M574.6 271.9h0M574.8 253.3h0M564.9 256.9h0M574.9 262.4h0M564.7 243.1h0M575 237.4h0" stroke="#3a70a4" stroke-width="3.4" stroke-linecap="round" fill="none" stroke-opacity="0.68"/>
<path d="M575.5 268h0M572.5 271.7h0M575.1 267h0M573.6 259.7h0M568.8 261.1h0M575 270.6h0M573.2 268.1h0M569.5 251.2h0M564.4 266.5h0M570.3 263.1h0M570.9 231h0M571 271h0M574 263.8h0M560.8 267.3h0M574.6 268.9h0M570.2 266.2h0M565 269.3h0M574.6 271.4h0M574.1 258.8h0M562.6 258.9h0M570.9 256.1h0M571.9 268.7h0M570.1 264.4h0M555.4 269.2h0M571.7 260.1h0M575.1 265.2h0M566.7 269.9h0M572.8 268.3h0M570.4 256.9h0M562.2 261.8h0M559.5 265.3h0M564.9 271.2h0M568.4 269.9h0M573.5 257.1h0M574.4 239.4h0M559.6 260.3h0M572.4 266.5h0M573.4 266.5h0M573.7 254.2h0M573.8 258.8h0M543.1 269.5h0M575.5 250.7h0M558.8 269.1h0M572.4 235.3h0M574.8 266.3h0M563.8 103.5h0M567.9 271.7h0M567.7 266.2h0M568.2 270.7h0M562 264.7h0M573.7 267.9h0M574.1 263.8h0M567.7 254.6h0M564.8 269.5h0M571.1 240h0M573.2 268.6h0M573.3 246.2h0M567.1 237.5h0M566.2 187.8h0M570.8 202.9h0M569.2 263.5h0M569.7 149.9h0M574.7 266h0M568.2 271.4h0M566.2 262.9h0M572.8 271.9h0M575.4 266.2h0M564.3 267.7h0M560.3 244.6h0M575.2 260.8h0M571.6 264h0M561.1 268.5h0M575.6 270.4h0M567.2 263.4h0M571.4 242.3h0M572.6 234h0M566 268.2h0M573.5 269.7h0M568.6 264.6h0M573.6 271.6h0M571.2 267.4h0M569.1 208.7h0M573.1 264.2h0M569.3 260.8h0M573.5 227.1h0M572.9 272h0M563.5 271.1h0M574.7 263.4h0M572.5 244.2h0M574.9 267.2h0M575 266.4h0M554.4 267h0M575.4 254.4h0M567.2 271.7h0M575.3 262.5h0M563.5 259.4h0M570.8 267.6h0M568.5 248.8h0M573.9 265.8h0M571.6 266.8h0M572.4 254.7h0M575.5 251.9h0M573.1 271.7h0M570 266.9h0M574.2 269h0M571.1 270.2h0M575 266.5h0M560.1 258.9h0M569.9 267.1h0M563.4 259.4h0M567.9 267.2h0M569.2 268.7h0M575.5 268.6h0M569.3 268.9h0M565.5 262.7h0M571.5 256.1h0M565.1 271.1h0M572.4 268.7h0M573.7 243.3h0M572.7 243.2h0M564.8 270.7h0M564.1 270.2h0M570 268.3h0M575.4 232.3h0M567.8 267.2h0M573.6 234.6h0M570.6 269h0M569.5 248.8h0M571.8 257.2h0M568.7 249.7h0M572.9 262.7h0M572 261.6h0M568.2 269.2h0M569.5 261.3h0M565.8 271.5h0M571.3 271.4h0M573.5 270.6h0M572.7 261.5h0M572.7 270.7h0M555.6 269.5h0M575.3 262.7h0M573.3 268.8h0M573.2 270.1h0M566 261.3h0M572.7 251.9h0M565.4 270h0M574.1 270.5h0M572.4 270.1h0M574 267.9h0M570.7 230.1h0M564.6 266.9h0M575 270.2h0M572 251.5h0M571.9 270.9h0M573.3 250.7h0M566.7 268.2h0M570.9 243.6h0M575.1 266.3h0M557.1 270.1h0M572 266.5h0M562.4 269.6h0M568.5 252.6h0M575.2 267.8h0M569.4 270.3h0M562.7 245.1h0M574.4 269.3h0M572 266.2h0M575.2 268.9h0M572.5 269.1h0M574.8 269.1h0M569.1 154.1h0M570.7 268h0M568.6 241.3h0M574.3 241.7h0M554.8 268.1h0M571.8 267.7h0M571.7 263.8h0M569.3 200.6h0M573.6 268.4h0M575 267.3h0M571.4 266h0M569.9 255.9h0M573.9 266.8h0M573.9 271.2h0M574.9 254h0M573.8 257.2h0M560.4 269.5h0M545.2 267.1h0M565.1 265.8h0M570.3 261.5h0M575.6 264.2h0M572.2 262.8h0M573.4 267.3h0M572.9 267.9h0M573.3 259.1h0M573.8 262.6h0M551.4 249h0M572.8 237.4h0M572.9 270.3h0M568.3 267.5h0M573.9 271.2h0M573.7 265.1h0M572.3 266h0M565.8 271.5h0M567.3 269.7h0M574.9 253.7h0M570 243.2h0M573.4 264.3h0M565.5 267.8h0M573.6 271.2h0M566.7 265.1h0M568.2 262.4h0M572.3 269.3h0M573.6 261.3h0M572.3 268.1h0M571.1 258.6h0M561.8 241.1h0M571.3 266.3h0M569.6 201.5h0M573.7 264.6h0M569.1 270.8h0M572.3 262h0M570.5 242.9h0M572.8 270.5h0M570.3 264.7h0M563.2 270.6h0M569 263.4h0M575.1 268.2h0M574.6 216.6h0M562.6 268.3h0M572.8 268.6h0M573.3 243.1h0M564.8 268h0M563.8 105.2h0M571.4 263.7h0M572.8 266.8h0M574.1 257.7h0M565.3 232.1h0M574.6 262.7h0M574.5 253.1h0M575.4 267.9h0M567.2 267h0M574.3 271.8h0M575.1 257.4h0M568.7 244.3h0M566.3 268.4h0M571 201.9h0M571.9 250.4h0M566.4 266.4h0M573.5 269.9h0M572.1 249.3h0M557.7 266.8h0M573.1 190.9h0M573.7 259.7h0M568.7 271.2h0M567.6 267h0M561.7 225.2h0M575.2 264.6h0M573.3 261h0M573.9 269.8h0M566.4 270.1h0M572.8 258.2h0M574.8 270.9h0M561.3 269h0M567.8 255.2h0M570.9 242.1h0M575.1 252.5h0M551 267.4h0M569.7 266.6h0M568.2 271.2h0M574.8 265.3h0M573.5 272h0M571 267.7h0M566.9 269h0M573.5 263.3h0M571.5 271.5h0M574.9 202.1h0M569.9 267.1h0M575.4 263.7h0M565.2 253.8h0M572.7 269.4h0M568.8 267.2h0M575 259.8h0M568.6 262.3h0M571.6 271.8h0M572.1 260.3h0M544.9 268.6h0M574.8 269.6h0M559.2 270.6h0M567.6 265.7h0M563.8 96.8h0M574.6 215.2h0M572.2 266.1h0M571.6 264.6h0M570 205h0M573.5 270.7h0M571.6 268.7h0M572.1 258.7h0M562.6 269.8h0M575.4 259.1h0M572.8 261.9h0M575.5 262.5h0M568.3 262.9h0M575.2 258.3h0M574.9 253.5h0M575 271.6h0M566.2 177.7h0M564.8 269h0M558.7 267.1h0M575.5 259.9h0M570 270.4h0M570.3 271h0M575.5 261.3h0M572.3 270.5h0M565.5 270.7h0M572.6 271.3h0M549.3 262.1h0M573.4 266.8h0M575.2 259.6h0M569.9 256.5h0M575 270.4h0M574.4 265.9h0M572.1 269.8h0M572.1 270.3h0M572.9 263.9h0M570.4 269h0M566.4 237.1h0M564.9 254.2h0M549.9 267.2h0M569.3 265.1h0M570.7 263.7h0M575.4 269.5h0M564.4 266.5h0M561.1 267.4h0M568.5 271.4h0" stroke="#3a70a4" stroke-width="3.4" stroke-linecap="round" fill="none" stroke-opacity="0.68"/>
<path d="M574.8 264.4h0M571.8 270.7h0M568.1 262.6h0M573.5 270.1h0M559.1 269.1h0M572.7 270.4h0M569.3 247.8h0M572.3 254.9h0M562.7 242h0M571 239.9h0M571.8 260.5h0M575 271.1h0M575.1 265.6h0M573.3 260.7h0M564.5 267.6h0M573.5 265.2h0M573.9 264.8h0M567.8 257.1h0M570.8 263.7h0M572.5 241.6h0M574.9 262.7h0M571 264.2h0M559.9 260.4h0M568.9 254.2h0M572.4 270.8h0M572.6 246.8h0M575.1 266.2h0M575 266.2h0M573.3 225.5h0M574.1 271.7h0M567.8 263.1h0M567.9 271h0M569 250.5h0M574.9 257.7h0M571 253.3h0M562.9 232.8h0M571.9 268.6h0M567.3 269h0M572.9 238.1h0M566.8 265.3h0M575.5 268.4h0M561.9 266.7h0M566 264.3h0M573.4 238.7h0M570 263.9h0M574.9 243.9h0M574.6 260h0M574.7 271.3h0M559.1 268.5h0M566.9 266.9h0M573.8 252.5h0M564.7 260.7h0M575.2 261.7h0M568.6 263.8h0M574.7 259.3h0M563.2 270.6h0M572.7 261.2h0M575.5 271.4h0M572.4 254.7h0M560.6 267.4h0M572.5 271.5h0M564.9 265.1h0M572.2 254.9h0M562 270.2h0M555.3 267.4h0M565.6 265.6h0M574.6 264.7h0M573 268.9h0M571.7 262.8h0M571.8 264.8h0M560.8 269.4h0M575 269.2h0M574.7 271.3h0M574.8 267.1h0M573.9 270.9h0M570.3 257.1h0M567.3 267.5h0M575 271h0M567.7 260.2h0M573.2 262.1h0M567.9 268.1h0M571.7 271.2h0M574.3 254.7h0M567.9 267.5h0M573.3 254.2h0M569.5 269.8h0M562.6 197.9h0M575 271.1h0M571.3 248.6h0M562.9 243.3h0M566.2 270.5h0M558.2 264h0M570.8 263.3h0M573.5 267.3h0M574.2 248.7h0M569.1 144h0M575.2 268h0M569.5 268.2h0M574.6 248.4h0M572.3 268.5h0M573.9 268.4h0M575.1 269.9h0M569.6 271.5h0M570 251.2h0M564.8 270.6h0M571.4 235.6h0M568.7 262.2h0M564.2 263.5h0M565.6 257h0M557.5 263.4h0M572 237.7h0M566.2 259.9h0M567.8 256.1h0M574.9 253.5h0M569.7 246.4h0M572.2 257.3h0M551.1 268.3h0M571.1 269h0M559.4 270.5h0M572.8 270.9h0M570.8 268.7h0M572.3 263.2h0M570 261.5h0M561.7 269.6h0M564.6 267h0M570.1 260.5h0M575.3 269.8h0M572.4 264.8h0M567 270.5h0M574.7 271.6h0M575.6 256.3h0M563.7 269.1h0M572.8 259.7h0M571.3 267.7h0M565.1 268.9h0M572.9 255.5h0M573.8 255.6h0M571.9 270.9h0M572.6 264.1h0M571.1 257.4h0M550.1 267.2h0M570.5 261.2h0M553.7 269.7h0M573.1 267.2h0M574.1 271.9h0M565.3 270.1h0M567 254.2h0M567 270.9h0M573.8 266.8h0M571.7 254.5h0M575.5 256.5h0M571 268.5h0M573.5 252.6h0M569.8 266.2h0M566.4 262.7h0M574 271.2h0M564.7 270.7h0M572.1 261.3h0M572.3 267.4h0M574.1 271h0M575.2 253.2h0M569.3 239.1h0M570.3 269.9h0M575 263.5h0M558.7 265.4h0M574.7 260.4h0M558.5 270.3h0M569 252.6h0M556.6 225.5h0M570.5 271.8h0M572 257.5h0M569.9 270.7h0M574.7 268h0M574.6 259.9h0M574.3 267.9h0M558.5 270.3h0M573.2 270.9h0M565.2 266.1h0M575.1 267.7h0M567.6 268.8h0M573.6 271.9h0M567.4 252.8h0M573.5 269h0M573.4 271.4h0M570.2 259.9h0M573.4 264.6h0M565.4 267.6h0M572.8 261.3h0M574.6 270.8h0M573.8 219.3h0M570 258.8h0M567.8 271.4h0M571.6 261.7h0M567.8 270.7h0M572.5 268.6h0M570.2 263.2h0M566.3 249.1h0M565.5 265.5h0M573.7 269.8h0M573 257.2h0M562.7 270.1h0M573.2 267.9h0M568.8 268.4h0M575 246h0M568.8 257h0M573.5 265.1h0M571.5 249.7h0M573.2 262.4h0M558.6 233h0M568.3 265h0M561 227.6h0M567.6 254.7h0M567.2 265.7h0M565.7 270h0M569.7 155.8h0M572.1 246.9h0M567.1 266.4h0M569.6 238.2h0M569.5 247.9h0M574.6 266.9h0M574.1 227.7h0M567.9 270.5h0M568.4 271.3h0M573.3 266.4h0M574 266.4h0M573.7 254.3h0M572.5 250.6h0M570.6 212.4h0M572.7 256.1h0M569.3 196.5h0M564.9 263.3h0M569.6 271.5h0M568.6 266.6h0M557.9 232.3h0M572.6 229.7h0M571.6 254.4h0M569.7 235.7h0M575.4 236.7h0M562.5 269.1h0M574.4 264.2h0M557.9 248h0M569.7 203.5h0M574.3 262.6h0M565.6 181.9h0M571.6 271.9h0M571 214.9h0M573.7 271.2h0M567.7 265.3h0M573.6 267.3h0M572 271.6h0M572.4 261.9h0M565.2 269.1h0M556.9 265.2h0M575.3 241.4h0M553.8 269.6h0M564.5 228h0M570.7 271.4h0M568.7 265.8h0M569.8 258.7h0M562 270.6h0M567 244.9h0M572.2 268.2h0M568.7 263.5h0M567.7 270.4h0M571.2 260.1h0M575.3 255.9h0M570.2 216.5h0M564.9 256.7h0M573 270h0M572.8 256h0M572.8 197.9h0M567 268.8h0M551.6 269.1h0M575.3 238.7h0M571.5 268.9h0M568 245h0M573.3 271.7h0M559.2 221.8h0M574.5 264.3h0M573.1 269.4h0M568.8 260.9h0M568.7 269.2h0M575.1 259h0M551.8 265.1h0M572.6 268.9h0M566.8 172.6h0M571.1 266.2h0M568.6 263.7h0M558 270.1h0M566.6 256.7h0M575.4 260.3h0M565.8 267.2h0M563.1 270.5h0M574.4 264h0M573.1 257.6h0M563.8 95.1h0M568.4 269.4h0M574 241.8h0M558.4 267.1h0M573.7 246h0M573.9 268.3h0M567.8 204.5h0M570.5 262.5h0M567.4 266.4h0M567 270h0M573.4 268.5h0M574.2 263.1h0M571.7 251.3h0M548.7 268.1h0M575.4 223.6h0M561.7 270.8h0M570.8 270h0M575.2 257h0M574.5 259.4h0M575.2 266.4h0M560.4 270.6h0M573.4 255.5h0M574.5 256.1h0M574.4 269.4h0M565.1 267.8h0M574.4 263.2h0M573.7 233.7h0M575 266h0M574 262h0M570.5 265.8h0M567.6 268.3h0M573.8 237.7h0M565.5 269.4h0M571.7 251h0M568 269.6h0M568.9 266.3h0M564.7 270.1h0M573.9 267.9h0M575.4 262.7h0M572 265.3h0" stroke="#3a70a4" stroke-width="3.4" stroke-linecap="round" fill="none" stroke-opacity="0.68"/>
<path d="M592.5 234.9h0M603.3 261.9h0M607.4 255.8h0M598.9 259.1h0M594.7 82.4h0M591.2 248.6h0M589.8 267.8h0M589 255.5h0M589.4 250.5h0M592.7 248.6h0M597.5 268.6h0M591.3 243.1h0M591.1 242.4h0M605.5 269.3h0M612 253.4h0M616.9 22.7h0M590.6 185h0M599 249.2h0M587.6 264.3h0M600.7 237.4h0M621.6 256.8h0M599 154.2h0M588.6 153.5h0M594 241.9h0M617.5 269.1h0M594.6 268.1h0M599.3 271.1h0M587.8 240.9h0M589.4 194.3h0M588.9 156.3h0M622.3 268.6h0M588.4 271.8h0M602.7 232.4h0M588.2 247.1h0M589.7 245.9h0M602.8 268.8h0M599.3 270h0M598 145.2h0M601.6 23.5h0M587.7 265.8h0M592.6 269.7h0M619.3 259.5h0M598.6 231.4h0M600.8 267.1h0M598.2 181.8h0M594.6 262.5h0M593.1 252.5h0M601.5 257.6h0M592.9 235.2h0M596.2 217h0M591.6 262.2h0M590.5 249.9h0M594.6 260.6h0M600.7 192h0M597.4 225.1h0M588.1 184.5h0M590.1 244.9h0M619.3 22.7h0M595.7 248.7h0M591.8 261.5h0M598.7 215.6h0M598.8 219.9h0M590.4 258.7h0M593.1 223.7h0M608.6 269.7h0M597.5 268.5h0M591.1 264.4h0M588.1 251h0M658.2 250.9h0M598.1 271.3h0M590.1 264.6h0M587.5 250.9h0M592.5 253.4h0M598.8 234.5h0M587.8 105.4h0M591 235.8h0M603.8 269h0M616 249.6h0M610.5 267.5h0M588.3 266.2h0M593.9 176.5h0M626.9 112h0M594.4 262h0M591.4 211.6h0M603.4 244.6h0M593.3 183.8h0M588.1 265.4h0M587.4 265.4h0M588.9 262.4h0M589.3 259.8h0M614.1 196.6h0M591 256.2h0M591.6 208.1h0M596.2 246.6h0M591.1 258.4h0M616.1 267.5h0M589 250.2h0M593.7 197.6h0M594.7 257.8h0M588.6 271.6h0M592.1 253.1h0M596.9 171.3h0M594.8 251.6h0M593.7 262.4h0M602.1 69.8h0M588.8 160.4h0M587.7 262.6h0M591.3 97.5h0M603.7 261.7h0M596.7 271.1h0M590.5 266.7h0M590.2 262.3h0M597.2 266.7h0M592.2 264.9h0M603.1 263.8h0M590.8 264.8h0M591.2 266.1h0M601.9 265.9h0M589.1 193.3h0M592.4 249.7h0M620.5 213.3h0M590.9 228.7h0M587.9 248.3h0M587.7 220.9h0M587.6 125.5h0M592 205.1h0M613.1 259.7h0M589.1 264.4h0M590.8 257.3h0M590.6 243.6h0M612.7 22.7h0M600.8 267.4h0M593.4 270.8h0M589.4 269.5h0M591.4 119.6h0M630.4 267.3h0M591.4 224.7h0M592.8 261.6h0M605 22.7h0M587.9 244.5h0M591.1 260.3h0M587.5 176.3h0M593 264.4h0M595.2 196.9h0M634.4 264h0M591.7 251.9h0M607.1 163.7h0M593.4 271.7h0M595.1 234.5h0M589.7 144.8h0M607.2 268h0M619.9 22.7h0M592.4 242.1h0M589.4 250.3h0M591.5 220.1h0M592.9 260.7h0M593.7 250.1h0M589 248.2h0M589.1 223.7h0M587.6 244h0M588 225.2h0M599.1 270.7h0M595.3 218.2h0M594.2 267.1h0M590.6 267.6h0M591.5 234.4h0M588.3 269.6h0M588.1 268.8h0M588.4 142.6h0M589 253.5h0M587.8 208.5h0M616.9 154.1h0M592 258.7h0M589.8 268.5h0M598.5 269.3h0M596.6 192.8h0M591.9 270h0M588.4 270h0M590.1 266.6h0M598.1 266.9h0M590.4 270.4h0M594.3 261.5h0M588.6 236.8h0M590 226.4h0M607.5 22.7h0M588.4 226.9h0M592 270.8h0M590.9 261.1h0M591.4 208.5h0M591.5 224.3h0M640.5 242.5h0M597.6 263.1h0M589.4 219.6h0M600.6 268.5h0M608.2 259.5h0M597 270.2h0M587.9 216.2h0M590.4 235.3h0M608.1 259.3h0M592.2 248h0M589.6 268.3h0M622.6 245.9h0M588.2 254.4h0M587.6 250.6h0M595.4 133.5h0M591.7 251.1h0M591.1 267.4h0M589.6 257.6h0M595.4 269.1h0M588.1 256.9h0M598.6 269.5h0M617.6 22.7h0M589.3 247.4h0M590 246.8h0M587.8 258.7h0M588 251.9h0M600.9 260.7h0M603.9 270h0M591.1 210.8h0M591.8 216.8h0M588.6 248.3h0M605.1 44.6h0M589.1 257.2h0M595.3 269.9h0M589.4 216.4h0M593.1 242.9h0M629 262.5h0M610.9 22.7h0M588.5 183.3h0M587.9 235.5h0M593.8 217.1h0M590.1 237.8h0M603.6 253.9h0M602.7 65.8h0M590.3 247.4h0M606.3 78.3h0M591.1 252.5h0M592.9 180.6h0M589.2 203.2h0M595.3 263.7h0M596.6 171.2h0M593.6 248.7h0M593.7 271.1h0M588 250h0M589 226h0M592 270.8h0M598 57.2h0M589.5 192.7h0M596.5 128.9h0M595.4 225.2h0M615 264.9h0M596.6 240.8h0M591.5 262.2h0M593.4 256.2h0M614.7 269.6h0M593.6 183.8h0M588.2 250.4h0M593 267.6h0M595.1 271.8h0M591.5 259.6h0M587.5 207.3h0M587.5 232h0M588.9 270.2h0M589.6 268h0M593.1 264.7h0M596.1 247.4h0M597.2 257h0M593 239.8h0M593.9 265.1h0M590.4 270.7h0M592.2 232.6h0M587.9 226.8h0M589.6 246.8h0M598.3 265.9h0M587.8 237.3h0M599.1 22.7h0M602.5 263.6h0M592.3 254.1h0M588.7 241.6h0M598.3 266.1h0M602.1 266h0M587.7 218.8h0M587.8 270.4h0M612 266.4h0M588.3 211.6h0M621.3 268.7h0M614 128.8h0M607.1 269.2h0M590.5 250.7h0M589.5 249.3h0M598 265.1h0M591.5 237.4h0" stroke="#d83a36" stroke-width="3.4" stroke-linecap="round" fill="none" stroke-opacity="0.66"/>
<path d="M588.8 244.8h0M588.6 268.9h0M618.6 179.9h0M591.3 229.7h0M589.9 243.5h0M595.7 231.2h0M603.9 90.9h0M591.6 153.3h0M590.6 229.7h0M589.9 179.6h0M588.4 269.1h0M627.6 244.8h0M599.2 271.2h0M587.5 230.8h0M590.9 220.7h0M601.6 263.5h0M595.9 204.1h0M595.4 265.9h0M603 264.4h0M590.9 261.4h0M621.3 236.8h0M588.8 267.9h0M600.4 103.5h0M595 259.1h0M595.1 262.5h0M588.6 265.3h0M593.7 243.9h0M589 251.4h0M590 251.2h0M600.9 157.5h0M599.2 22.7h0M591.5 267.2h0M588.9 212.5h0M614.3 265.5h0M634.6 179.3h0M588.8 252.7h0M591.9 271h0M623.5 268.6h0M589.3 226h0M593.5 268.9h0M589.4 261.3h0M591.6 264.1h0M589.9 263.7h0M619.6 269.3h0M606.9 270.8h0M589.3 251.2h0M589.4 253.5h0M591.7 248.8h0M590 254.7h0M590 245.3h0M600.5 268.6h0M603.9 22.7h0M592.9 250.2h0M601.3 241.9h0M639.3 54.7h0M614.5 265.8h0M588 238h0M590.1 251.7h0M589.6 230.7h0M624.8 267.7h0M608.8 259.3h0M604.6 22.7h0M587.5 246.1h0M591.1 261.5h0M611 120.4h0M589.4 87.3h0M589.9 236h0M589.7 223.8h0M592.8 267.7h0M613.2 237.6h0M603.1 63h0M589.8 243h0M601.2 248.7h0M590.6 260.3h0M598.8 266.7h0M608 266.7h0M588.1 207.5h0M591.4 263.5h0M588.2 267.2h0M596.1 216.3h0M589.3 247.6h0M593.3 231.5h0M587.8 237.1h0M623.3 268.3h0M600.5 178.1h0M620.2 22.7h0M600.9 261h0M590.2 247h0M605.6 266h0M588.8 254h0M601 269.8h0M588.3 244h0M610.3 267.7h0M587.5 224h0M599.7 255.2h0M609.4 219.8h0M593.7 252.9h0M592.5 241.5h0M605.2 231.4h0M589.1 214.3h0M601.6 22.7h0M588.4 249h0M592.5 257.1h0M600.3 22.7h0M595.4 268.8h0M594.3 271.8h0M588.3 212.7h0M589.7 56.4h0M591.5 250h0M600.2 256.9h0M592.8 257.4h0M597 234.1h0M588.5 256.3h0M622.4 267.9h0M593.2 246.6h0M616.2 266.2h0M605.2 259.7h0M611.7 267.9h0M587.9 234.3h0M615.1 155.5h0M590.9 231.1h0M624.3 22.7h0M592 258.5h0M596 269h0M611.6 269.9h0M613.9 267.6h0M588.6 259.8h0M599.2 36.2h0M591.1 262h0M587.6 269.2h0M626.8 268.2h0M605.3 256.6h0M595.8 206.6h0M588.8 223.7h0M588.8 245.9h0M592.8 196h0M590.6 242h0M594.4 246.3h0M588.7 250.3h0M596.5 264.1h0M599.2 245.1h0M588.8 244.4h0M591.1 236.3h0M590.4 270.3h0M588.2 176.3h0M587.8 234.5h0M599.5 270.6h0M600.5 266.8h0M638.1 265.3h0M599.3 22.7h0M587.7 262.9h0M588.1 260.2h0M592.9 232.2h0M601.2 270.3h0M597.6 268.4h0M589.2 256.6h0M588 245.6h0M622.4 22.7h0M589.2 264.1h0M608.1 269.1h0M590.6 148.7h0M594.9 248.6h0M624.3 22.7h0M591.9 177h0M591.5 268.5h0M596.5 267.3h0M622.2 186.6h0M599.5 261.5h0M593.4 267.6h0M608.7 193.7h0M589.8 179.9h0M587.7 265.4h0M588.7 270.3h0M589.1 269.9h0M593.1 269.7h0M591.5 252.5h0M590.8 266.5h0M592 226.5h0M596.9 247.7h0M599.8 267.8h0M601.7 268.3h0M594.1 221.7h0M600.1 271h0M591.7 262.1h0M592.6 253.8h0M588.7 215.4h0M588.7 236.7h0M589.2 242.2h0M592.4 261.8h0M597.9 267.6h0M594.8 271.2h0M589.6 270.1h0M589.9 145h0M622.4 22.7h0M590.4 214.6h0M587.5 271.8h0M589.7 241.3h0M588.8 183.1h0M589.1 205.2h0M591.6 250.1h0M590.1 133h0M590.3 265.5h0M592.5 267.9h0M591.6 256.7h0M598.4 265.4h0M587.9 223.7h0M602.6 249.1h0M599.4 162.2h0M592.7 89h0M588.3 241.4h0M604.9 168.1h0M588.1 258.1h0M589 246h0M605.2 214.9h0M587.6 263.2h0M587.8 250.6h0M589.5 219.9h0M600.6 264.1h0M609.9 269.7h0M615.6 22.7h0M593.7 236.6h0M593.6 247.2h0M591.8 221.8h0M588.9 263.1h0M594.9 270.6h0M610.8 267.2h0M596.5 214.6h0M588.5 243.2h0M588.4 264.4h0M589.3 238.8h0M598 269h0M590.2 267.8h0M590.4 270.7h0M588.8 221.3h0M594.5 267.3h0M607.7 270.8h0M591.5 225.2h0M640.3 260.4h0M592.6 245.1h0M602.8 241.1h0M587.7 258.7h0M587.7 194.4h0M588.1 112h0M612.8 261.5h0M587.9 246.9h0M594.5 261.9h0M589.6 232.6h0M588.9 226.6h0M588.2 244.7h0M597.4 92.3h0M606.4 270.4h0M588.8 208.5h0M595.6 269.5h0M592 234.1h0M635.5 265.4h0M603.8 253.2h0M623 22.7h0M604.4 22.7h0M597.8 221.1h0M601.7 214.3h0M590.5 261.9h0M590.5 210.3h0M593.7 264.7h0M602.6 257.9h0M591.9 252h0M599.5 248.1h0M591.6 262h0M618.9 22.7h0M596 261.2h0M592.3 262.6h0M594.7 257.4h0M604.3 269.4h0M599 22.7h0M615.6 269.9h0M609.5 22.7h0M599.8 267.8h0M591 170.4h0M588.7 267.4h0M612.5 269.2h0M604.2 254.6h0M588.6 211.4h0M594.7 261h0M598 264.6h0M595.2 264.2h0M588.5 247.2h0M587.9 243.3h0M588.6 246.1h0M594.7 209.3h0M594.8 241.9h0M589.6 262.6h0M589.8 259.8h0M604.1 265.6h0" stroke="#d83a36" stroke-width="3.4" stroke-linecap="round" fill="none" stroke-opacity="0.66"/>
<path d="M589.8 254h0M594.7 105.6h0M592.4 216.7h0M595.1 269h0M594.7 269.6h0M603.3 267.7h0M587.7 208.6h0M592.3 238h0M615 269.7h0M622.8 252.6h0M597.7 262.1h0M594 271.5h0M587.4 212.1h0M588 180.6h0M601.8 268.8h0M591.6 242.8h0M600.9 260.6h0M592 160.2h0M597.9 269.6h0M596.7 248.4h0M621.8 255.7h0M587.5 245.6h0M590.8 242.7h0M652.3 234.1h0M596.3 265.4h0M618.7 192.3h0M601.9 243.9h0M619.3 269h0M588.6 192.5h0M599.6 263.7h0M591.6 219.8h0M594.8 228.5h0M631.6 213h0M587.8 216.3h0M589.7 266.8h0M589.1 222.7h0M594 251h0M597.2 104.6h0M587.6 268.4h0M590 269.3h0M591.8 268.8h0M597.7 264.4h0M591.1 254h0M592.6 254.3h0M614 170.9h0M587.6 267.9h0M590.7 269.9h0M608.9 268h0M598.1 226.1h0M602.6 22.7h0M618.2 22.7h0M593.1 261.1h0M599.8 252.7h0M599.3 271.3h0M605 268.8h0M601.3 269.8h0M588.5 271.4h0M589.1 219.4h0M590.2 223.1h0M595.8 269.2h0M594.7 261.5h0M602.9 268.6h0M588.2 174.5h0M597 229.4h0M595.8 257.8h0M592.4 269.2h0M595.3 253.1h0M589.4 243.6h0M602 122.1h0M588.5 260.9h0M590.9 230.6h0M605.3 260.4h0M591.3 257.1h0M603.3 267.4h0M609.8 112h0M607.2 259.3h0M595 252.4h0M587.8 218.5h0M590.7 230.2h0M592 245h0M591 258h0M588.6 231h0M595.7 267.9h0M606.5 270.2h0M604.9 268.6h0M589.1 210.6h0M589.8 225h0M591.2 171.3h0M599.3 265.3h0M618.3 22.7h0M593.6 270h0M595.2 250.3h0M589.7 269.6h0M593.7 266.8h0M626.3 22.7h0M596.4 259.2h0M594.5 260.1h0M587.9 245.1h0M598.8 234.8h0M590.2 245.3h0M589.7 226.8h0M592 143.8h0M601.8 264.7h0M598 241.7h0M589.3 247.3h0M594.3 151.5h0M588.5 260.5h0M602 22.7h0M607.5 99.3h0M590.3 251.9h0M595.8 227.8h0M593.5 232.8h0M597.7 266.7h0M590.5 258.6h0M615.3 270h0M616.9 187.8h0M588.8 234h0M595 252.6h0M612.2 22.7h0M589.4 222.2h0M593.6 257.6h0M592.3 253.4h0M625.2 179.3h0M588.5 231.5h0M595.9 266.4h0M617.4 179.2h0M589.7 257.6h0M588.1 249.7h0M610 270h0M590.7 253.4h0M589.3 259.6h0M598.9 265.9h0M589.8 233.5h0M589.2 262.8h0M590.9 236.7h0M589.9 249.5h0M593 240.9h0M606.9 195.6h0M593.9 268.2h0M592.5 229.2h0M609.8 270.6h0M596.6 257.9h0M625.3 22.7h0M602.7 269.8h0M589.4 229.1h0M629.4 266.5h0M599.7 270.2h0M589.3 257.3h0M591.1 247.9h0M596.2 271.3h0M588.3 241h0M589.7 236.6h0M608.2 259.8h0M606.9 254.8h0M590.9 242.8h0M600.1 203.6h0M591.4 239.1h0M589.6 234.7h0M601.2 80.1h0M596 247.3h0M595.7 234.5h0M587.5 151.2h0M591.1 238.3h0M594.3 244.6h0M594.8 267.7h0M611.8 267.4h0M590.1 233h0M615.6 258.3h0M591 269.2h0M592.4 269.4h0M587.9 270.2h0M589.1 264.3h0M602.1 266.9h0M595.4 244.5h0M607.2 268.9h0M589.3 107.4h0M595.7 255.3h0M595.8 263.9h0M616.9 244.6h0M589.1 163.5h0M591 207.2h0M597.3 22.7h0M600.9 258.7h0M594.9 228.5h0M591 260.4h0M597.2 174h0M587.5 261.1h0M593.4 263.5h0M591.4 238.8h0M599.3 144.9h0M591.2 255.3h0M588.8 269.9h0M592.2 269.4h0M596.2 38.2h0M593.7 199.4h0M595.2 224.9h0M597.7 250.7h0M617.3 265.9h0M590.2 248h0M587.4 231.5h0M602.6 268.3h0M591.7 261.8h0M591.9 262.2h0M599.7 270.9h0M590 127.6h0M589.9 264.7h0M596.3 206.3h0M594.2 269.9h0M599.7 260.6h0M593.2 252.4h0M587.9 246.7h0M603.3 269.3h0M613 155.5h0M594.9 269h0M595.6 89.3h0M597.3 227.8h0M616.4 264.4h0M590.7 219.7h0M588.8 269.1h0M590.5 256h0M587.8 272h0M602.3 268.7h0M594.1 216h0M603.9 264.5h0M590.2 264h0M595.8 270.1h0M591.1 243h0M596.7 251.1h0M603.9 114.4h0M604.7 210.4h0M590.4 250h0M590.8 269.5h0M589.5 271.4h0M594.1 268.6h0M589.9 266.9h0M601 22.7h0M599.5 269.7h0M591.6 245.2h0M596.6 263.7h0M591.8 250.3h0M606.8 267.9h0M595.6 251.8h0M589.8 255.7h0M588.7 190h0M599.9 238.2h0M592.7 271.3h0M593.9 267.3h0M594.9 269h0M590.8 268.6h0M610.1 22.7h0M603.8 259.9h0M593.6 263.8h0M591.7 236.2h0M593.2 258.3h0M609.2 262.8h0M598.1 267.5h0M592.2 264.5h0M605.8 269.9h0M603.7 266.2h0M598.9 261.9h0M604.8 75.7h0M595.2 241.5h0M589.7 231.1h0M590.6 240.7h0M610.7 266.7h0M595.9 239h0M593.6 245.9h0M590 245.7h0M587.8 183.4h0M598.6 271h0M596.3 96.7h0M595.1 246.5h0M603.5 263.7h0M600.1 117.5h0M591.9 246.4h0M593.4 262.2h0M588.7 245.1h0M600 245.8h0M588.2 236.1h0M596.1 264h0M596.6 213.3h0M599.1 266.6h0M588.6 227.2h0M658.2 203.8h0M587.9 226.6h0M588.7 196.2h0M588.2 193.2h0M598.1 75.7h0M596.4 171.1h0M608.4 264.9h0M594.7 249.8h0M610.1 263.3h0" stroke="#d83a36" stroke-width="3.4" stroke-linecap="round" fill="none" stroke-opacity="0.66"/>
<rect x="483.9" y="10.9" width="195.5" height="274.3" fill="none" stroke="#8a8a8a" stroke-width="0.8"/>
<text x="486.4" y="16.17" font-size="5.2" fill="#231f20">Down</text>
<text x="486.4" y="23.37" font-size="5.2" fill="#231f20">p &lt; 0.05: 3149</text>
<text x="486.4" y="30.57" font-size="5.2" fill="#231f20">log<tspan font-size="3.6" dy="1">2</tspan><tspan dy="-1">FC</tspan> &lt; -1: 4585</text>
<text x="486.4" y="37.77" font-size="5.2" fill="#231f20">Sig. : 1002</text>
<text x="676.9" y="16.17" font-size="5.2" text-anchor="end" fill="#231f20">Up</text>
<text x="676.9" y="23.37" font-size="5.2" text-anchor="end" fill="#231f20">p &lt; 0.05: 2849</text>
<text x="676.9" y="30.57" font-size="5.2" text-anchor="end" fill="#231f20">log<tspan font-size="3.6" dy="1">2</tspan><tspan dy="-1">FC</tspan> &gt; 1: 4552</text>
<text x="676.9" y="37.77" font-size="5.2" text-anchor="end" fill="#231f20">Sig. : 700</text>
<text x="519.5" y="45.3" font-size="6.1" text-anchor="end" fill="#4a7eaa">HPGD</text>
<line x1="520.5" y1="43.1" x2="563.8" y2="96.8" stroke="#6a96c0" stroke-width="0.6" stroke-dasharray="2.2,1.3"/>
<text x="519.5" y="52.21" font-size="6.1" text-anchor="end" fill="#4a7eaa">GATM</text>
<line x1="520.5" y1="50.01" x2="563.8" y2="105.22" stroke="#6a96c0" stroke-width="0.6" stroke-dasharray="2.2,1.3"/>
<text x="519.5" y="59.12" font-size="6.1" text-anchor="end" fill="#4a7eaa">ALDOB</text>
<line x1="520.5" y1="56.92" x2="569.11" y2="143.97" stroke="#6a96c0" stroke-width="0.6" stroke-dasharray="2.2,1.3"/>
<text x="519.5" y="66.03" font-size="6.1" text-anchor="end" fill="#4a7eaa">UGT2B17</text>
<line x1="520.5" y1="63.83" x2="569.11" y2="154.08" stroke="#6a96c0" stroke-width="0.6" stroke-dasharray="2.2,1.3"/>
<text x="519.5" y="72.94" font-size="6.1" text-anchor="end" fill="#4a7eaa">UGT2B15</text>
<line x1="520.5" y1="70.74" x2="567.93" y2="159.97" stroke="#6a96c0" stroke-width="0.6" stroke-dasharray="2.2,1.3"/>
<text x="519.5" y="79.85" font-size="6.1" text-anchor="end" fill="#4a7eaa">ADH1C</text>
<line x1="520.5" y1="77.65" x2="568.52" y2="166.71" stroke="#6a96c0" stroke-width="0.6" stroke-dasharray="2.2,1.3"/>
<text x="519.5" y="86.76" font-size="6.1" text-anchor="end" fill="#4a7eaa">CDX2</text>
<line x1="520.5" y1="84.56" x2="563.8" y2="111.96" stroke="#6a96c0" stroke-width="0.6" stroke-dasharray="2.2,1.3"/>
<text x="519.5" y="93.67" font-size="6.1" text-anchor="end" fill="#4a7eaa">SLC34A2</text>
<line x1="520.5" y1="91.47" x2="566.75" y2="172.61" stroke="#6a96c0" stroke-width="0.6" stroke-dasharray="2.2,1.3"/>
<text x="519.5" y="100.58" font-size="6.1" text-anchor="end" fill="#4a7eaa">MEP1A</text>
<line x1="520.5" y1="98.38" x2="566.16" y2="177.66" stroke="#6a96c0" stroke-width="0.6" stroke-dasharray="2.2,1.3"/>
<text x="519.5" y="107.49" font-size="6.1" text-anchor="end" fill="#4a7eaa">SLC26A3</text>
<line x1="520.5" y1="105.29" x2="565.57" y2="181.87" stroke="#6a96c0" stroke-width="0.6" stroke-dasharray="2.2,1.3"/>
<line x1="493.2" y1="41.3" x2="493.2" y2="107.4" stroke="#5cb85c" stroke-width="1"/>
<text x="647" y="45.3" font-size="6.1" fill="#dc4644">CX3CL1</text>
<line x1="646" y1="43.1" x2="626.34" y2="22.68" stroke="#e06a6a" stroke-width="0.6" stroke-dasharray="2.2,1.3"/>
<text x="647" y="52.34" font-size="6.1" fill="#dc4644">CXCL8</text>
<line x1="646" y1="50.14" x2="619.85" y2="22.68" stroke="#e06a6a" stroke-width="0.6" stroke-dasharray="2.2,1.3"/>
<text x="647" y="59.38" font-size="6.1" fill="#dc4644">IFIT3</text>
<line x1="646" y1="57.18" x2="639.32" y2="54.69" stroke="#e06a6a" stroke-width="0.6" stroke-dasharray="2.2,1.3"/>
<text x="647" y="66.42" font-size="6.1" fill="#dc4644">MX1</text>
<line x1="646" y1="64.22" x2="616.9" y2="22.68" stroke="#e06a6a" stroke-width="0.6" stroke-dasharray="2.2,1.3"/>
<text x="647" y="73.46" font-size="6.1" fill="#dc4644">DDX58</text>
<line x1="646" y1="71.26" x2="612.18" y2="22.68" stroke="#e06a6a" stroke-width="0.6" stroke-dasharray="2.2,1.3"/>
<text x="647" y="80.5" font-size="6.1" fill="#dc4644">IFITM1</text>
<line x1="646" y1="78.3" x2="607.46" y2="22.68" stroke="#e06a6a" stroke-width="0.6" stroke-dasharray="2.2,1.3"/>
<text x="647" y="87.54" font-size="6.1" fill="#dc4644">MX2</text>
<line x1="646" y1="85.34" x2="603.92" y2="22.68" stroke="#e06a6a" stroke-width="0.6" stroke-dasharray="2.2,1.3"/>
<text x="647" y="94.58" font-size="6.1" fill="#dc4644">EPSTI1</text>
<line x1="646" y1="92.38" x2="601.56" y2="23.52" stroke="#e06a6a" stroke-width="0.6" stroke-dasharray="2.2,1.3"/>
<text x="647" y="101.62" font-size="6.1" fill="#dc4644">SAMD9</text>
<line x1="646" y1="99.42" x2="605.1" y2="44.58" stroke="#e06a6a" stroke-width="0.6" stroke-dasharray="2.2,1.3"/>
<text x="647" y="108.66" font-size="6.1" fill="#dc4644">OASL</text>
<line x1="646" y1="106.46" x2="599.2" y2="36.16" stroke="#e06a6a" stroke-width="0.6" stroke-dasharray="2.2,1.3"/>
<text x="647" y="115.7" font-size="6.1" fill="#dc4644">ISG15</text>
<line x1="646" y1="113.5" x2="626.93" y2="111.96" stroke="#e06a6a" stroke-width="0.6" stroke-dasharray="2.2,1.3"/>
<text x="647" y="122.74" font-size="6.1" fill="#dc4644">IFIT2</text>
<line x1="646" y1="120.54" x2="602.15" y2="69.85" stroke="#e06a6a" stroke-width="0.6" stroke-dasharray="2.2,1.3"/>
<text x="647" y="129.78" font-size="6.1" fill="#dc4644">CMPK2</text>
<line x1="646" y1="127.58" x2="606.28" y2="78.27" stroke="#e06a6a" stroke-width="0.6" stroke-dasharray="2.2,1.3"/>
<text x="647" y="136.82" font-size="6.1" fill="#dc4644">OAS3</text>
<line x1="646" y1="134.62" x2="598.02" y2="57.21" stroke="#e06a6a" stroke-width="0.6" stroke-dasharray="2.2,1.3"/>
<text x="647" y="143.86" font-size="6.1" fill="#dc4644">IFI27</text>
<line x1="646" y1="141.66" x2="603.92" y2="90.91" stroke="#e06a6a" stroke-width="0.6" stroke-dasharray="2.2,1.3"/>
<text x="647" y="150.9" font-size="6.1" fill="#dc4644">OAS1</text>
<line x1="646" y1="148.7" x2="607.46" y2="99.33" stroke="#e06a6a" stroke-width="0.6" stroke-dasharray="2.2,1.3"/>
<text x="647" y="157.94" font-size="6.1" fill="#dc4644">OAS2</text>
<line x1="646" y1="155.74" x2="600.38" y2="103.54" stroke="#e06a6a" stroke-width="0.6" stroke-dasharray="2.2,1.3"/>
<text x="647" y="164.98" font-size="6.1" fill="#dc4644">GBP1</text>
<line x1="646" y1="162.78" x2="609.82" y2="111.96" stroke="#e06a6a" stroke-width="0.6" stroke-dasharray="2.2,1.3"/>
<text x="647" y="172.02" font-size="6.1" fill="#dc4644">HERC6</text>
<line x1="646" y1="169.82" x2="611" y2="120.39" stroke="#e06a6a" stroke-width="0.6" stroke-dasharray="2.2,1.3"/>
<text x="647" y="179.06" font-size="6.1" fill="#dc4644">IFIH1</text>
<line x1="646" y1="176.86" x2="613.95" y2="128.81" stroke="#e06a6a" stroke-width="0.6" stroke-dasharray="2.2,1.3"/>
<line x1="670.4" y1="41" x2="670.4" y2="51.8" stroke="#e0403c" stroke-width="1"/>
<line x1="670.4" y1="54.7" x2="670.4" y2="178.7" stroke="#6cb6ea" stroke-width="1"/>
<line x1="486.4" y1="213.2" x2="491.4" y2="213.2" stroke="#6cb6ea" stroke-width="0.9"/>
<text x="492.4" y="215.36" font-size="6" fill="#231f20">Antiviral 0+18</text>
<line x1="486.4" y1="220.75" x2="491.4" y2="220.75" stroke="#e0403c" stroke-width="0.9"/>
<text x="492.4" y="222.91" font-size="6" fill="#231f20">Chemokine 0+2</text>
<line x1="486.4" y1="228.3" x2="491.4" y2="228.3" stroke="#5cb85c" stroke-width="0.9"/>
<text x="492.4" y="230.46" font-size="6" fill="#231f20">Intestinal</text>
<text x="492.4" y="238.01" font-size="6" fill="#231f20">physiology 10+0</text>
<circle cx="488.9" cy="243.4" r="0.9" fill="#e0403c"/>
<text x="492.4" y="245.56" font-size="6" fill="#231f20">Significant</text>
<text x="492.4" y="253.11" font-size="6" fill="#231f20">Up 700</text>
<circle cx="488.9" cy="258.5" r="0.9" fill="#4a7eaa"/>
<text x="492.4" y="260.66" font-size="6" fill="#231f20">Significant</text>
<text x="492.4" y="268.21" font-size="6" fill="#231f20">Down 1002</text>
<text x="1" y="323.92" font-size="9.5" fill="#000" font-weight="bold">d</text>
<line x1="55.5" y1="325.5" x2="55.5" y2="393.6" stroke="#ececec" stroke-width="0.6"/>
<line x1="78.8" y1="325.5" x2="78.8" y2="393.6" stroke="#ececec" stroke-width="0.6"/>
<line x1="102.1" y1="325.5" x2="102.1" y2="393.6" stroke="#ececec" stroke-width="0.6"/>
<line x1="125.4" y1="325.5" x2="125.4" y2="393.6" stroke="#ececec" stroke-width="0.6"/>
<line x1="148.7" y1="325.5" x2="148.7" y2="393.6" stroke="#ececec" stroke-width="0.6"/>
<line x1="172" y1="325.5" x2="172" y2="393.6" stroke="#ececec" stroke-width="0.6"/>
<line x1="31.4" y1="334.4" x2="181.3" y2="334.4" stroke="#ececec" stroke-width="0.6"/>
<line x1="31.4" y1="345.9" x2="181.3" y2="345.9" stroke="#ececec" stroke-width="0.6"/>
<line x1="31.4" y1="357.4" x2="181.3" y2="357.4" stroke="#ececec" stroke-width="0.6"/>
<line x1="31.4" y1="368.9" x2="181.3" y2="368.9" stroke="#ececec" stroke-width="0.6"/>
<line x1="31.4" y1="380.4" x2="181.3" y2="380.4" stroke="#ececec" stroke-width="0.6"/>
<line x1="31.4" y1="391.9" x2="181.3" y2="391.9" stroke="#ececec" stroke-width="0.6"/>
<line x1="31.4" y1="380.4" x2="181.3" y2="380.4" stroke="#a8a8a8" stroke-width="0.7"/>
<line x1="31.4" y1="393.6" x2="181.3" y2="393.6" stroke="#d0d0d0" stroke-width="0.6"/>
<g><rect x="31.9" y="393.6" width="0.9" height="21.4" fill="#222"/><rect x="34.67" y="393.6" width="0.7" height="21.4" fill="#aaa"/><rect x="36.42" y="393.6" width="0.9" height="21.4" fill="#222"/><rect x="39.96" y="393.6" width="0.5" height="21.4" fill="#888"/><rect x="41.58" y="393.6" width="0.4" height="21.4" fill="#222"/><rect x="42" y="393.6" width="0.9" height="21.4" fill="#888"/><rect x="43.02" y="393.6" width="0.5" height="21.4" fill="#bbb"/><rect x="47.59" y="393.6" width="0.4" height="21.4" fill="#aaa"/><rect x="48.91" y="393.6" width="0.9" height="21.4" fill="#aaa"/><rect x="51.34" y="393.6" width="0.7" height="21.4" fill="#111"/><rect x="53.28" y="393.6" width="0.4" height="21.4" fill="#aaa"/><rect x="55.36" y="393.6" width="0.4" height="21.4" fill="#444"/><rect x="56.03" y="393.6" width="0.4" height="21.4" fill="#bbb"/><rect x="56.64" y="393.6" width="0.9" height="21.4" fill="#111"/><rect x="57.82" y="393.6" width="0.7" height="21.4" fill="#aaa"/><rect x="59.34" y="393.6" width="0.5" height="21.4" fill="#222"/><rect x="61.59" y="393.6" width="0.5" height="21.4" fill="#666"/><rect x="62.22" y="393.6" width="0.5" height="21.4" fill="#222"/><rect x="64.51" y="393.6" width="0.4" height="21.4" fill="#bbb"/><rect x="65.12" y="393.6" width="0.9" height="21.4" fill="#666"/><rect x="66.38" y="393.6" width="0.9" height="21.4" fill="#222"/><rect x="67.83" y="393.6" width="0.9" height="21.4" fill="#666"/><rect x="69.34" y="393.6" width="0.9" height="21.4" fill="#666"/><rect x="70.74" y="393.6" width="0.4" height="21.4" fill="#bbb"/><rect x="71.41" y="393.6" width="0.9" height="21.4" fill="#aaa"/><rect x="72.32" y="393.6" width="0.5" height="21.4" fill="#111"/><rect x="74.17" y="393.6" width="0.4" height="21.4" fill="#444"/><rect x="74.89" y="393.6" width="0.7" height="21.4" fill="#222"/><rect x="78.46" y="393.6" width="0.7" height="21.4" fill="#444"/><rect x="81.46" y="393.6" width="0.5" height="21.4" fill="#444"/><rect x="82.13" y="393.6" width="0.5" height="21.4" fill="#111"/><rect x="85.03" y="393.6" width="0.5" height="21.4" fill="#444"/><rect x="87.37" y="393.6" width="0.5" height="21.4" fill="#aaa"/><rect x="88.71" y="393.6" width="0.4" height="21.4" fill="#222"/><rect x="92.54" y="393.6" width="0.9" height="21.4" fill="#666"/><rect x="95.2" y="393.6" width="0.5" height="21.4" fill="#222"/><rect x="97.02" y="393.6" width="0.9" height="21.4" fill="#666"/><rect x="100.3" y="393.6" width="0.4" height="21.4" fill="#666"/><rect x="103.6" y="393.6" width="0.7" height="21.4" fill="#111"/><rect x="106.02" y="393.6" width="0.9" height="21.4" fill="#111"/><rect x="107.38" y="393.6" width="0.4" height="21.4" fill="#666"/><rect x="111.05" y="393.6" width="0.5" height="21.4" fill="#aaa"/><rect x="118.11" y="393.6" width="0.9" height="21.4" fill="#aaa"/><rect x="119.09" y="393.6" width="0.9" height="21.4" fill="#222"/><rect x="120.04" y="393.6" width="0.7" height="21.4" fill="#222"/><rect x="123.28" y="393.6" width="0.9" height="21.4" fill="#444"/><rect x="125.24" y="393.6" width="0.9" height="21.4" fill="#bbb"/><rect x="126.72" y="393.6" width="0.7" height="21.4" fill="#888"/><rect x="127.66" y="393.6" width="0.4" height="21.4" fill="#aaa"/><rect x="128.84" y="393.6" width="0.4" height="21.4" fill="#222"/><rect x="129.73" y="393.6" width="0.5" height="21.4" fill="#444"/><rect x="133.28" y="393.6" width="0.9" height="21.4" fill="#888"/><rect x="134.66" y="393.6" width="0.5" height="21.4" fill="#666"/><rect x="135.39" y="393.6" width="0.9" height="21.4" fill="#111"/><rect x="136.44" y="393.6" width="0.9" height="21.4" fill="#111"/><rect x="139.81" y="393.6" width="0.4" height="21.4" fill="#111"/><rect x="141.92" y="393.6" width="0.7" height="21.4" fill="#222"/><rect x="143.85" y="393.6" width="0.9" height="21.4" fill="#444"/><rect x="145.84" y="393.6" width="0.5" height="21.4" fill="#222"/><rect x="146.66" y="393.6" width="0.9" height="21.4" fill="#bbb"/><rect x="147.92" y="393.6" width="0.4" height="21.4" fill="#aaa"/><rect x="149.81" y="393.6" width="0.4" height="21.4" fill="#888"/><rect x="152.71" y="393.6" width="0.9" height="21.4" fill="#111"/><rect x="154.61" y="393.6" width="0.9" height="21.4" fill="#111"/><rect x="157.82" y="393.6" width="0.5" height="21.4" fill="#222"/><rect x="158.78" y="393.6" width="0.7" height="21.4" fill="#aaa"/><rect x="161.67" y="393.6" width="0.9" height="21.4" fill="#222"/><rect x="162.85" y="393.6" width="0.7" height="21.4" fill="#aaa"/><rect x="166.27" y="393.6" width="0.9" height="21.4" fill="#bbb"/><rect x="171.9" y="393.6" width="0.4" height="21.4" fill="#111"/><rect x="173.44" y="393.6" width="0.7" height="21.4" fill="#aaa"/></g>
<rect x="31.5" y="415" width="23.5" height="6.2" fill="#e0505c"/>
<rect x="55" y="415" width="30.2" height="6.2" fill="#e26577"/>
<rect x="85.2" y="415" width="19.4" height="6.2" fill="#e3aad3"/>
<rect x="104.6" y="415" width="32" height="6.2" fill="#cccbea"/>
<rect x="136.6" y="415" width="31.6" height="6.2" fill="#6d72c2"/>
<rect x="168.2" y="415" width="5.8" height="6.2" fill="#3a3aa6"/>
<line x1="31.4" y1="415" x2="181.3" y2="415" stroke="#d0d0d0" stroke-width="0.5"/>
<polyline points="31.6,380.1 32.15,372.84 32.69,363.54 33.24,354.47 33.78,346.01 34.33,342.7 34.87,342.02 35.42,340.98 35.97,340.09 36.51,338.75 37.06,337.37 37.6,336.67 38.15,336.61 38.7,335.89 39.24,336.1 39.79,335.43 40.33,335.45 40.88,335.66 41.42,336.87 41.97,337.28 42.52,336.74 43.06,335.82 43.61,334.51 44.15,333.87 44.7,333.32 45.24,332.51 45.79,332.9 46.34,332.3 46.88,331.74 47.43,331.98 47.97,331.23 48.52,331.54 49.06,331.02 49.61,330.76 50.16,330.32 50.7,330.18 51.25,329.73 51.79,329.31 52.34,329.79 52.89,329.22 53.43,329.39 53.98,328.79 54.52,329.14 55.07,329.06 55.61,328.97 56.16,328.95 56.71,328.78 57.25,328.86 57.8,328.34 58.34,328.71 58.89,329.4 59.43,329.27 59.98,330.11 60.53,330.56 61.07,330.5 61.62,330.66 62.16,331.01 62.71,331.23 63.25,332.04 63.8,331.92 64.35,331.75 64.89,331.95 65.44,332.77 65.98,333.45 66.53,333.4 67.08,333.57 67.62,333.87 68.17,334.36 68.71,334.36 69.26,334.99 69.8,335.42 70.35,335.89 70.9,335.92 71.44,336.21 71.99,336.74 72.53,337.51 73.08,337.36 73.62,337.68 74.17,337.66 74.72,337.62 75.26,337.71 75.81,338.56 76.35,338.92 76.9,338.81 77.44,339.2 77.99,339.45 78.54,339.87 79.08,340.19 79.63,339.94 80.17,340.54 80.72,340.86 81.27,340.79 81.81,341.2 82.36,341.13 82.9,341.17 83.45,341.23 83.99,341.98 84.54,341.72 85.09,341.72 85.63,342.55 86.18,342.94 86.72,342.95 87.27,343.49 87.81,343.2 88.36,343.53 88.91,343.89 89.45,344.35 90,344.5 90.54,344.69 91.09,345.22 91.63,346.12 92.18,346.7 92.73,346.9 93.27,346.95 93.82,347 94.36,347.89 94.91,348 95.45,348.45 96,348.19 96.55,348.51 97.09,349.41 97.64,349.87 98.18,350.32 98.73,350.44 99.28,350.55 99.82,350.96 100.37,351.59 100.91,351.57 101.46,352.03 102,352.2 102.55,352.97 103.1,352.78 103.64,353.6 104.19,354.35 104.73,354.01 105.28,354.69 105.82,355.2 106.37,355.81 106.92,356.02 107.46,356.06 108.01,356.47 108.55,357.36 109.1,357.85 109.65,357.56 110.19,357.71 110.74,358.02 111.28,358.32 111.83,359.06 112.37,359.27 112.92,360.26 113.47,360.63 114.01,360.53 114.56,361.14 115.1,361.4 115.65,361.9 116.19,362.07 116.74,362.34 117.29,362.7 117.83,363.25 118.38,363.98 118.92,364.33 119.47,364.24 120.01,365.08 120.56,365.75 121.11,366.13 121.65,366.52 122.2,366.21 122.74,366.79 123.29,366.87 123.84,367.79 124.38,367.81 124.93,368.56 125.47,368.64 126.02,369.33 126.56,369.46 127.11,369.52 127.66,370.12 128.2,370.5 128.75,371.41 129.29,371.41 129.84,371.86 130.38,372.27 130.93,372.97 131.48,372.65 132.02,373.23 132.57,373.55 133.11,374.08 133.66,374.68 134.2,374.5 134.75,375.02 135.3,375.25 135.84,375.58 136.39,375.46 136.93,376.33 137.48,376.97 138.03,376.83 138.57,376.98 139.12,377.87 139.66,377.56 140.21,377.6 140.75,377.67 141.3,378.45 141.85,378.73 142.39,378.63 142.94,378.85 143.48,378.47 144.03,379.02 144.57,379.1 145.12,379.28 145.67,379.32 146.21,379.43 146.76,379.41 147.3,379.33 147.85,379.76 148.39,379.77 148.94,380.23 149.49,380.53 150.03,380.59 150.58,380.42 151.12,380.22 151.67,380.35 152.22,380.54 152.76,380.78 153.31,381.2 153.85,380.6 154.4,380.82 154.94,380.96 155.49,381.38 156.04,381.82 156.58,382.01 157.13,382.08 157.67,382.37 158.22,382.53 158.76,382.9 159.31,383.02 159.86,383.2 160.4,383.01 160.95,383.71 161.49,383.59 162.04,383.92 162.58,384.36 163.13,384.77 163.68,385.07 164.22,384.42 164.77,384.66 165.31,384.93 165.86,385.31 166.41,385.41 166.95,386.02 167.5,385.99 168.04,386.39 168.59,387.3 169.13,387.61 169.68,387.74 170.23,387.89 170.77,389.08 171.32,389.59 171.86,388.05 172.41,386.12 172.95,383.8 173.5,381.18" fill="none" stroke="#6cc644" stroke-width="1.1" stroke-linejoin="round"/>
<rect x="31.4" y="325.5" width="149.9" height="95.7" fill="none" stroke="#7a7a7a" stroke-width="0.8"/>
<text x="29.9" y="337.35" font-size="8.2" text-anchor="end" fill="#231f20">0.4</text>
<text x="29.9" y="348.85" font-size="8.2" text-anchor="end" fill="#231f20">0.3</text>
<text x="29.9" y="360.35" font-size="8.2" text-anchor="end" fill="#231f20">0.2</text>
<text x="29.9" y="371.85" font-size="8.2" text-anchor="end" fill="#231f20">0.1</text>
<text x="29.9" y="383.35" font-size="8.2" text-anchor="end" fill="#231f20">0.0</text>
<text x="29.9" y="394.85" font-size="8.2" text-anchor="end" fill="#231f20">-0.1</text>
<text x="107.9" y="323.25" font-size="8.2" text-anchor="middle" fill="#231f20">Apoptosis (HSA04210)</text>
<text x="135.8" y="335.52" font-size="8.1" fill="#231f20">NES:1.78</text>
<text x="135.8" y="345.42" font-size="8.1" fill="#231f20">FDR:0.06</text>
<text x="135.8" y="355.32" font-size="8.1" fill="#231f20">FWER:0.15</text>
<text x="0" y="2.95" font-size="8.2" transform="translate(11.8,374) rotate(-90)" text-anchor="middle" fill="#231f20">Enrichment score (ES)</text>
<text x="15.8" y="431.17" font-size="8.25" fill="#231f20">EV1-MaugOs</text>
<text x="137.7" y="431.19" font-size="8.3" fill="#231f20">Ctrl-MaugOs</text>
<line x1="239.1" y1="325.5" x2="239.1" y2="393" stroke="#ececec" stroke-width="0.6"/>
<line x1="263.2" y1="325.5" x2="263.2" y2="393" stroke="#ececec" stroke-width="0.6"/>
<line x1="287.3" y1="325.5" x2="287.3" y2="393" stroke="#ececec" stroke-width="0.6"/>
<line x1="311.4" y1="325.5" x2="311.4" y2="393" stroke="#ececec" stroke-width="0.6"/>
<line x1="335.5" y1="325.5" x2="335.5" y2="393" stroke="#ececec" stroke-width="0.6"/>
<line x1="359.6" y1="325.5" x2="359.6" y2="393" stroke="#ececec" stroke-width="0.6"/>
<line x1="215.8" y1="336.9" x2="362.9" y2="336.9" stroke="#ececec" stroke-width="0.6"/>
<line x1="215.8" y1="350.4" x2="362.9" y2="350.4" stroke="#ececec" stroke-width="0.6"/>
<line x1="215.8" y1="363.9" x2="362.9" y2="363.9" stroke="#ececec" stroke-width="0.6"/>
<line x1="215.8" y1="377.4" x2="362.9" y2="377.4" stroke="#ececec" stroke-width="0.6"/>
<line x1="215.8" y1="390.9" x2="362.9" y2="390.9" stroke="#ececec" stroke-width="0.6"/>
<line x1="215.8" y1="377.4" x2="362.9" y2="377.4" stroke="#a8a8a8" stroke-width="0.7"/>
<line x1="215.8" y1="393" x2="362.9" y2="393" stroke="#d0d0d0" stroke-width="0.6"/>
<g><rect x="216.3" y="393" width="0.5" height="22" fill="#222"/><rect x="216.84" y="393" width="0.5" height="22" fill="#666"/><rect x="219.15" y="393" width="0.7" height="22" fill="#aaa"/><rect x="222.21" y="393" width="0.5" height="22" fill="#111"/><rect x="223.18" y="393" width="0.7" height="22" fill="#111"/><rect x="229.48" y="393" width="0.9" height="22" fill="#222"/><rect x="232.23" y="393" width="0.4" height="22" fill="#111"/><rect x="233.97" y="393" width="0.9" height="22" fill="#444"/><rect x="235.18" y="393" width="0.4" height="22" fill="#bbb"/><rect x="236.89" y="393" width="0.4" height="22" fill="#aaa"/><rect x="239.09" y="393" width="0.7" height="22" fill="#888"/><rect x="240.24" y="393" width="0.7" height="22" fill="#666"/><rect x="244.4" y="393" width="0.5" height="22" fill="#bbb"/><rect x="245.4" y="393" width="0.5" height="22" fill="#444"/><rect x="246.74" y="393" width="0.4" height="22" fill="#444"/><rect x="247.96" y="393" width="0.7" height="22" fill="#444"/><rect x="249.75" y="393" width="0.9" height="22" fill="#666"/><rect x="252.28" y="393" width="0.7" height="22" fill="#222"/><rect x="254.22" y="393" width="0.4" height="22" fill="#666"/><rect x="255.15" y="393" width="0.9" height="22" fill="#888"/><rect x="258.17" y="393" width="0.9" height="22" fill="#888"/><rect x="259.21" y="393" width="0.7" height="22" fill="#666"/><rect x="260.07" y="393" width="0.9" height="22" fill="#bbb"/><rect x="261.06" y="393" width="0.5" height="22" fill="#bbb"/><rect x="262.63" y="393" width="0.4" height="22" fill="#666"/><rect x="263.18" y="393" width="0.5" height="22" fill="#222"/><rect x="263.73" y="393" width="0.7" height="22" fill="#666"/><rect x="264.73" y="393" width="0.5" height="22" fill="#444"/><rect x="266.11" y="393" width="0.5" height="22" fill="#111"/><rect x="268.99" y="393" width="0.5" height="22" fill="#aaa"/><rect x="271.09" y="393" width="0.4" height="22" fill="#111"/><rect x="271.81" y="393" width="0.5" height="22" fill="#111"/><rect x="276.12" y="393" width="0.4" height="22" fill="#666"/><rect x="279.33" y="393" width="0.5" height="22" fill="#666"/><rect x="281.15" y="393" width="0.9" height="22" fill="#aaa"/><rect x="283.02" y="393" width="0.7" height="22" fill="#111"/><rect x="288.36" y="393" width="0.7" height="22" fill="#111"/><rect x="293.35" y="393" width="0.5" height="22" fill="#111"/><rect x="294.89" y="393" width="0.4" height="22" fill="#aaa"/><rect x="295.92" y="393" width="0.9" height="22" fill="#222"/><rect x="298.62" y="393" width="0.4" height="22" fill="#222"/><rect x="299.14" y="393" width="0.7" height="22" fill="#222"/><rect x="301.55" y="393" width="0.7" height="22" fill="#222"/><rect x="303.25" y="393" width="0.5" height="22" fill="#111"/><rect x="303.78" y="393" width="0.4" height="22" fill="#bbb"/><rect x="305.49" y="393" width="0.5" height="22" fill="#888"/><rect x="306.76" y="393" width="0.5" height="22" fill="#111"/><rect x="307.32" y="393" width="0.4" height="22" fill="#666"/><rect x="308.06" y="393" width="0.9" height="22" fill="#bbb"/><rect x="310.47" y="393" width="0.9" height="22" fill="#111"/><rect x="312.31" y="393" width="0.5" height="22" fill="#222"/><rect x="312.99" y="393" width="0.5" height="22" fill="#111"/><rect x="313.79" y="393" width="0.7" height="22" fill="#aaa"/><rect x="314.57" y="393" width="0.5" height="22" fill="#666"/><rect x="316.46" y="393" width="0.9" height="22" fill="#111"/><rect x="319.17" y="393" width="0.4" height="22" fill="#444"/><rect x="319.93" y="393" width="0.9" height="22" fill="#bbb"/><rect x="323.64" y="393" width="0.9" height="22" fill="#222"/><rect x="325.69" y="393" width="0.7" height="22" fill="#222"/><rect x="327.02" y="393" width="0.4" height="22" fill="#bbb"/><rect x="329.24" y="393" width="0.4" height="22" fill="#888"/><rect x="329.93" y="393" width="0.7" height="22" fill="#bbb"/><rect x="331.12" y="393" width="0.7" height="22" fill="#bbb"/><rect x="332.13" y="393" width="0.5" height="22" fill="#444"/><rect x="333.27" y="393" width="0.9" height="22" fill="#bbb"/><rect x="335.96" y="393" width="0.5" height="22" fill="#bbb"/><rect x="341.92" y="393" width="0.9" height="22" fill="#222"/><rect x="343.6" y="393" width="0.4" height="22" fill="#bbb"/><rect x="344.74" y="393" width="0.5" height="22" fill="#aaa"/><rect x="347.08" y="393" width="0.4" height="22" fill="#111"/><rect x="351.29" y="393" width="0.5" height="22" fill="#444"/><rect x="351.87" y="393" width="0.5" height="22" fill="#888"/><rect x="352.7" y="393" width="0.4" height="22" fill="#444"/><rect x="354.22" y="393" width="0.4" height="22" fill="#bbb"/></g>
<rect x="216" y="415" width="24" height="5.9" fill="#e0505c"/>
<rect x="240" y="415" width="25" height="5.9" fill="#e26577"/>
<rect x="265" y="415" width="18" height="5.9" fill="#e3aad3"/>
<rect x="283" y="415" width="35" height="5.9" fill="#cccbea"/>
<rect x="318" y="415" width="30" height="5.9" fill="#6d72c2"/>
<rect x="348" y="415" width="7.2" height="5.9" fill="#3a3aa6"/>
<line x1="215.8" y1="415" x2="362.9" y2="415" stroke="#d0d0d0" stroke-width="0.5"/>
<polyline points="216,377.81 216.54,361.47 217.07,356.35 217.61,353.23 218.15,352.38 218.68,351.81 219.22,351.58 219.76,350.35 220.29,349.73 220.83,348.19 221.37,347.46 221.9,345.69 222.44,344.48 222.97,343.47 223.51,342.01 224.05,340.85 224.58,339.37 225.12,337.45 225.66,336.94 226.19,335.77 226.73,334.41 227.27,333.55 227.8,333.82 228.34,333.47 228.88,333.5 229.41,332.96 229.95,332.58 230.49,331.73 231.02,331.22 231.56,330.61 232.1,329.74 232.63,329.73 233.17,328.91 233.71,329.09 234.24,329.23 234.78,329.24 235.32,329.21 235.85,330.17 236.39,330.65 236.93,330.71 237.46,330.53 238,330.89 238.53,330.55 239.07,331.25 239.61,331.08 240.14,331.09 240.68,331.16 241.22,331.53 241.75,332 242.29,331.71 242.83,331.81 243.36,332.4 243.9,332.73 244.44,333.47 244.97,334.02 245.51,334.46 246.05,335.17 246.58,335.36 247.12,335.21 247.66,336.17 248.19,336.07 248.73,336.29 249.27,336.52 249.8,337.26 250.34,337.68 250.88,337.6 251.41,337.67 251.95,337.6 252.48,338.49 253.02,338.29 253.56,338.75 254.09,338.93 254.63,339.28 255.17,339.69 255.7,339.94 256.24,340.16 256.78,340.96 257.31,341.71 257.85,342.09 258.39,342.18 258.92,343.03 259.46,343.09 260,343.8 260.53,344.77 261.07,345.52 261.61,345.71 262.14,346.45 262.68,346.61 263.22,346.96 263.75,347.41 264.29,348.19 264.82,348.48 265.36,348.6 265.9,349.15 266.43,349.52 266.97,349.66 267.51,350.36 268.04,350.89 268.58,351.14 269.12,351.8 269.65,351.44 270.19,352.01 270.73,352.46 271.26,352.52 271.8,352.57 272.34,353.24 272.87,353.4 273.41,353.49 273.95,353.5 274.48,354.52 275.02,354.46 275.56,354.42 276.09,354.68 276.63,354.99 277.17,355.81 277.7,355.63 278.24,355.85 278.77,355.95 279.31,356.5 279.85,356.61 280.38,357.04 280.92,357.79 281.46,358.45 281.99,358.82 282.53,358.48 283.07,358.95 283.6,359.78 284.14,359.55 284.68,359.9 285.21,360.53 285.75,360.88 286.29,361.58 286.82,362.03 287.36,362.2 287.9,362.31 288.43,362.6 288.97,362.98 289.51,363.17 290.04,364.03 290.58,364.1 291.12,365.04 291.65,365.37 292.19,365.2 292.73,365.81 293.26,366.35 293.8,366.27 294.33,366.9 294.87,366.95 295.41,367.89 295.94,367.74 296.48,368.53 297.02,369.35 297.55,369.73 298.09,369.56 298.63,370.04 299.16,370.09 299.7,370.55 300.24,371.49 300.77,372.14 301.31,371.98 301.85,372.64 302.38,373.45 302.92,373.65 303.46,374.65 303.99,375.4 304.53,375.7 305.07,375.97 305.6,376.65 306.14,376.78 306.68,376.75 307.21,377.05 307.75,377.26 308.28,378.16 308.82,378.36 309.36,378.81 309.89,379.28 310.43,379.7 310.97,379.27 311.5,379.48 312.04,380.12 312.58,380.36 313.11,380.24 313.65,380.6 314.19,380.44 314.72,380.51 315.26,380.59 315.8,381.06 316.33,381.22 316.87,381.67 317.41,382.36 317.94,381.98 318.48,382.39 319.02,382.93 319.55,383.01 320.09,383.12 320.62,383.52 321.16,383.11 321.7,383.98 322.23,384.15 322.77,384.46 323.31,384.72 323.84,384.3 324.38,384.29 324.92,384.54 325.45,385.15 325.99,385.95 326.53,386.39 327.06,386.3 327.6,386.69 328.14,387.14 328.67,387.13 329.21,387.93 329.75,388.37 330.28,388.43 330.82,388.67 331.36,388.75 331.89,388.73 332.43,388.52 332.97,388.52 333.5,388.57 334.04,388.52 334.57,389.38 335.11,389.17 335.65,388.95 336.18,389.03 336.72,388.42 337.26,388.22 337.79,387.72 338.33,387.11 338.87,386.86 339.4,386.41 339.94,385.89 340.48,386.39 341.01,386.23 341.55,386.52 342.09,387.04 342.62,387.39 343.16,386.88 343.7,385.9 344.23,386.05 344.77,385.33 345.31,384.47 345.84,383.76 346.38,383.55 346.92,383.49 347.45,383.23 347.99,382.97 348.52,383.66 349.06,383.61 349.6,382.86 350.13,382.81 350.67,382.74 351.21,382.17 351.74,381.33 352.28,381.04 352.82,380.7 353.35,380.8 353.89,380.25 354.43,379.16 354.96,378.19 355.5,376.63" fill="none" stroke="#6cc644" stroke-width="1.1" stroke-linejoin="round"/>
<rect x="215.8" y="325.5" width="147.1" height="95.4" fill="none" stroke="#7a7a7a" stroke-width="0.8"/>
<text x="214.3" y="339.85" font-size="8.2" text-anchor="end" fill="#231f20">0.3</text>
<text x="214.3" y="353.35" font-size="8.2" text-anchor="end" fill="#231f20">0.2</text>
<text x="214.3" y="366.85" font-size="8.2" text-anchor="end" fill="#231f20">0.1</text>
<text x="214.3" y="380.35" font-size="8.2" text-anchor="end" fill="#231f20">0.0</text>
<text x="214.3" y="393.85" font-size="8.2" text-anchor="end" fill="#231f20">-0.1</text>
<text x="290.5" y="323.25" font-size="8.2" text-anchor="middle" fill="#231f20">Apoptosis (HSA04210)</text>
<text x="318" y="335.52" font-size="8.1" fill="#231f20">NES:1.92</text>
<text x="318" y="345.42" font-size="8.1" fill="#231f20">FDR:0.06</text>
<text x="318" y="355.32" font-size="8.1" fill="#231f20">FWER:0.10</text>
<text x="0" y="2.95" font-size="8.2" transform="translate(198.2,374) rotate(-90)" text-anchor="middle" fill="#231f20">Enrichment score (ES)</text>
<text x="201" y="431.17" font-size="8.25" fill="#231f20">OC43-MaugOs</text>
<text x="322.2" y="431.19" font-size="8.3" fill="#231f20">Ctrl-MaugOs</text>
<text x="369.8" y="324.42" font-size="9.5" fill="#000" font-weight="bold">e</text>
<rect x="382.3" y="327" width="11" height="95.6" fill="#cfcfcf"/>
<text x="0" y="2.95" font-size="8.2" transform="translate(387.8,404.3) rotate(-90)" text-anchor="middle" fill="#e8413c">PI</text>
<text x="0" y="2.95" font-size="8.2" transform="translate(387.8,377.3) rotate(-90)" text-anchor="middle" fill="#4a80d0">Hoechst</text>
<text x="0" y="2.95" font-size="8.2" transform="translate(387.8,347) rotate(-90)" text-anchor="middle" fill="#3fb24f">Mφ</text>
<text x="444.3" y="324.15" font-size="8.2" text-anchor="middle" fill="#231f20">Ctrl-MaugOs</text>
<text x="540.5" y="324.15" font-size="8.2" text-anchor="middle" fill="#231f20">EV1-MaugOs</text>
<text x="634" y="324.15" font-size="8.2" text-anchor="middle" fill="#231f20">OC43-MaugOs</text>
<clipPath id="ce1"><rect x="394" y="327" width="95.8" height="95.6"/></clipPath>
<g clip-path="url(#ce1)">
<rect x="394" y="327" width="95.8" height="95.6" fill="#bababa"/>
<clipPath id="dbr1"><path d="M425,327 L490,327 L490,423 L440,423 C452,412 464,398 464,380 C464,360 450,345 425,338 Z"/></clipPath>
<path d="M425,327 L490,327 L490,423 L440,423 C452,412 464,398 464,380 C464,360 450,345 425,338 Z" fill="#c4c4c6" filter="url(#bl1)"/>
<g clip-path="url(#dbr1)">
<filter id="g1" x="0" y="0" width="1" height="1" color-interpolation-filters="sRGB"><feTurbulence type="fractalNoise" baseFrequency="0.9" numOctaves="2" seed="3"/><feColorMatrix values="2.0 0 0 0 -0.35 2.0 0 0 0 -0.35 2.0 0 0 0 -0.35 0 0 0 0 0.3"/></filter>
<rect x="420" y="327" width="70" height="95.6" fill="#000" filter="url(#g1)"/>
</g>
<filter id="b1" x="0" y="0" width="1" height="1" color-interpolation-filters="sRGB"><feTurbulence type="fractalNoise" baseFrequency="0.6" numOctaves="2" seed="4"/><feColorMatrix values="0 0 0 0 0.290 0 0 0 0 0.353 0 0 0 0 0.784 -12 0 0 0 4.0"/></filter>
<rect x="462" y="327" width="28" height="95.6" fill="#000" filter="url(#b1)"/>
<path d="M396,382 C394,362 404,349 420,347 C430,345 440,347 448,354 C458,362 462,372 460,386 C458,400 446,410 428,410 C408,410 397,398 396,382 Z" fill="#a4a4a4" stroke="#555" stroke-width="3" filter="url(#bl2)"/>
<filter id="g1b" x="0" y="0" width="1" height="1" color-interpolation-filters="sRGB"><feTurbulence type="fractalNoise" baseFrequency="0.7" numOctaves="2" seed="7"/><feColorMatrix values="1.2 0 0 0 -0.1 1.2 0 0 0 -0.1 1.2 0 0 0 -0.1 0 0 0 0 0.15"/></filter>
<rect x="398" y="350" width="62" height="60" fill="#000" filter="url(#g1b)"/>
<path d="M398,382 C410,374 425,376 436,374 C446,372 452,364 450,356" fill="none" stroke="#7a7a7a" stroke-width="1.6" filter="url(#bl2)"/>
<filter id="b1c" x="0" y="0" width="1" height="1" color-interpolation-filters="sRGB"><feTurbulence type="fractalNoise" baseFrequency="0.8" numOctaves="2" seed="6"/><feColorMatrix values="0 0 0 0 0.812 0 0 0 0 0.812 0 0 0 0 0.812 -10 0 0 0 3.8"/></filter>
<rect x="415" y="350" width="34" height="26" fill="#000" filter="url(#b1c)"/>
<filter id="b1d" x="0" y="0" width="1" height="1" color-interpolation-filters="sRGB"><feTurbulence type="fractalNoise" baseFrequency="0.8" numOctaves="2" seed="7"/><feColorMatrix values="0 0 0 0 0.439 0 0 0 0 0.439 0 0 0 0 0.439 -10 0 0 0 3.6"/></filter>
<rect x="415" y="350" width="34" height="26" fill="#000" filter="url(#b1d)"/>
<path d="M439.1 385.6h0M456.8 357.2h0M444.9 406.3h0M463.4 349.9h0M444.9 384.4h0M434.2 412.3h0M436 370.6h0M465.9 385.8h0M419.7 359.7h0M433.7 339.2h0M441.7 393.9h0M428.7 402.7h0M464.8 379.4h0M447.1 344.4h0M402 413.4h0M418.5 352.1h0M462.6 395h0M406.9 360.7h0" stroke="#5cc870" stroke-width="1.3" stroke-linecap="round" fill="none" stroke-opacity="0.9"/>
<path d="M416.4 366.4h0M404.3 381.5h0M419.5 373.7h0M413.5 356.6h0M405.7 402.4h0M442.1 383.6h0" stroke="#4a8ae0" stroke-width="1.3" stroke-linecap="round" fill="none" stroke-opacity="0.9"/>
<ellipse cx="479" cy="413" rx="7" ry="5.5" fill="#c8c8c8" stroke="#f4f4f4" stroke-width="1.4"/>
</g>
<clipPath id="ce2"><rect x="491.2" y="327" width="95.6" height="95.6"/></clipPath>
<g clip-path="url(#ce2)">
<rect x="491.2" y="327" width="95.6" height="95.6" fill="#a2a2a2"/>
<filter id="g2" x="0" y="0" width="1" height="1" color-interpolation-filters="sRGB"><feTurbulence type="fractalNoise" baseFrequency="0.8" numOctaves="2" seed="11"/><feColorMatrix values="1.4 0 0 0 -0.2 1.4 0 0 0 -0.2 1.4 0 0 0 -0.2 0 0 0 0 0.18"/></filter>
<rect x="491.2" y="327" width="95.6" height="95.6" fill="#000" filter="url(#g2)"/>
<path d="M491,327 L545,327 C548,335 540,345 528,350 C515,356 508,372 500,380 L491,380 Z" fill="#7280c4" opacity="0.42" filter="url(#bl2)"/>
<filter id="b2" x="0" y="0" width="1" height="1" color-interpolation-filters="sRGB"><feTurbulence type="fractalNoise" baseFrequency="0.35" numOctaves="2" seed="16"/><feColorMatrix values="0 0 0 0 0.290 0 0 0 0 0.353 0 0 0 0 0.753 -10 0 0 0 3.9"/></filter>
<rect x="491" y="327" width="50" height="50" fill="#000" filter="url(#b2)"/>
<ellipse cx="506" cy="362" rx="8" ry="9" fill="#a8a8a8" stroke="#2a3a90" stroke-width="1.4" filter="url(#bl1)"/>
<ellipse cx="497" cy="388" rx="7" ry="8" fill="#8c8c8c" stroke="#2a2a2a" stroke-width="1.4" filter="url(#bl1)"/>
<ellipse cx="507" cy="408" rx="7" ry="6" fill="#909090" stroke="#2a2a2a" stroke-width="1.4" filter="url(#bl1)"/>
<ellipse cx="521" cy="418" rx="6" ry="5" fill="#8a8a8a" stroke="#2a2a2a" stroke-width="1.4" filter="url(#bl1)"/>
<ellipse cx="556" cy="409" rx="7" ry="6" fill="#8e8e8e" stroke="#2a2a2a" stroke-width="1.4" filter="url(#bl1)"/>
<ellipse cx="567" cy="400" rx="6" ry="6" fill="#969696" stroke="#2a2a2a" stroke-width="1.4" filter="url(#bl1)"/>
<ellipse cx="543" cy="418" rx="6" ry="5" fill="#8c8c8c" stroke="#2a2a2a" stroke-width="1.4" filter="url(#bl1)"/>
<ellipse cx="548" cy="336" rx="11" ry="8" fill="#a6a6a6" stroke="#505050" stroke-width="1.4" filter="url(#bl1)"/>
<ellipse cx="578" cy="334" rx="9" ry="8" fill="#b0b0b0" stroke="#e8e8e8" stroke-width="1.4" filter="url(#bl1)"/>
<ellipse cx="500" cy="340" rx="7" ry="7" fill="#8a96d0" stroke="#2a3a90" stroke-width="1.4" filter="url(#bl1)"/>
<ellipse cx="526" cy="336" rx="8" ry="6" fill="#8a96d0" stroke="#2a3a90" stroke-width="1.4" filter="url(#bl1)"/>
<path d="M494,384 a5,4 0 0 1 6,2" fill="none" stroke="#e8e8e8" stroke-width="1"/>
<path d="M504,404 a5,4 0 0 1 6,2" fill="none" stroke="#e8e8e8" stroke-width="1"/>
<path d="M553,405 a5,4 0 0 1 6,2" fill="none" stroke="#e8e8e8" stroke-width="1"/>
<path d="M563,396 a5,4 0 0 1 6,2" fill="none" stroke="#e8e8e8" stroke-width="1"/>
<ellipse cx="546" cy="367.3" rx="23.5" ry="22" fill="#9c9c9c" stroke="#3e3e3e" stroke-width="2" filter="url(#bl1)"/>
<filter id="g2b" x="0" y="0" width="1" height="1" color-interpolation-filters="sRGB"><feTurbulence type="fractalNoise" baseFrequency="0.8" numOctaves="2" seed="12"/><feColorMatrix values="1.2 0 0 0 -0.1 1.2 0 0 0 -0.1 1.2 0 0 0 -0.1 0 0 0 0 0.15"/></filter>
<rect x="523" y="346" width="46" height="43" fill="#000" filter="url(#g2b)"/>
<ellipse cx="536" cy="400" rx="19" ry="20" fill="#4250b8" opacity="0.85" filter="url(#bl2)"/>
<filter id="b2m" x="0" y="0" width="1" height="1" color-interpolation-filters="sRGB"><feTurbulence type="fractalNoise" baseFrequency="0.5" numOctaves="2" seed="21"/><feColorMatrix values="0 0 0 0 0.165 0 0 0 0 0.220 0 0 0 0 0.659 -12 0 0 0 5.2"/></filter>
<rect x="516" y="380" width="40" height="42" fill="#000" filter="url(#b2m)"/>
<ellipse cx="522" cy="374" rx="7" ry="9" fill="#5060c8" opacity="0.6" filter="url(#bl2)"/>
<path d="M560.4 381.2h0M524.4 370.6h0M559.3 353.3h0M565.3 371.1h0M527 369.2h0M528.1 349.4h0M520.3 365.1h0M556 391.6h0M523.5 380.6h0M529 385.9h0M530.1 352.3h0M559.7 381.3h0M565.1 377.3h0M542.7 346.5h0M533.5 389.2h0M531.4 352.6h0M548.4 391.2h0M565.9 371.2h0M567.7 352h0M552.8 340.9h0M547.9 387.9h0M521.6 374.8h0M525.7 360.8h0M565 383.7h0M516 360.1h0M539.4 334.3h0M509.3 355h0M506.7 407.7h0M500.8 386.5h0M528 359.3h0M517.9 364.2h0M527.3 362.4h0M505.1 386.4h0M518 404.4h0M508.6 362.1h0M522.9 365.2h0M529.8 403.5h0M537.9 399.3h0M520.1 405.1h0M533.6 394.3h0M529.7 398.8h0M518.5 393.5h0M521.3 386.7h0M517.1 402.5h0" stroke="#e878b8" stroke-width="1.6" stroke-linecap="round" fill="none" stroke-opacity="0.85"/>
<path d="M561.7 381.7h0M521.5 360.9h0M524.2 361.1h0M526.1 352.2h0M525.7 382.3h0M571.1 361.6h0M528.5 349.5h0M569.8 378.5h0M553.8 348.5h0M544.5 341.1h0M561 382.6h0M528.8 377.3h0M532.5 383.1h0M565.6 372.3h0M566.2 372.4h0M554.1 391.8h0M570.2 359.3h0M529 382.2h0M528.1 358.7h0M523 367.9h0M537.3 391.4h0M546.6 390.8h0M556.8 345.4h0M561.6 355.7h0M503.5 349.6h0M512.2 358h0M505.5 357.3h0M536.5 388.1h0M528.2 328.1h0M537.1 343.2h0M521.9 387.3h0M530.3 361h0M534.7 360.3h0M503.1 400.6h0M516.5 327.2h0M529.4 393.5h0M532.5 395.8h0M533.3 404.4h0M531.9 387.3h0M523.3 404.4h0M534.2 384.5h0M523.9 388.4h0M532.2 392.4h0M539.1 389.3h0" stroke="#f090c8" stroke-width="1.6" stroke-linecap="round" fill="none" stroke-opacity="0.85"/>
<path d="M565.8 374.5h0M539 385.3h0M535.6 390.9h0M524.2 372.2h0M537 384.7h0M522.7 377.3h0M548.7 386.5h0M549.3 343.6h0M564.6 371.7h0M570.5 362h0M533.8 386.5h0M553.2 344.8h0M537.1 391.1h0M567.6 364h0M552.4 344.8h0M522.9 377.9h0M525.2 374.7h0M556.1 387h0M564.9 347.8h0M537.3 388.7h0M537.6 391.2h0M564.2 347.8h0M527.5 349.3h0M541.9 347.9h0M494.1 328.3h0M499.8 416.4h0M519.9 356h0M511.2 342.4h0M522 344.8h0M523.6 334.7h0M520.9 393.4h0M531.6 408.8h0M501.3 397.4h0M493.3 346.5h0M500.8 359.6h0M531 379h0M533.8 401.3h0M543.8 393h0M535.7 397.6h0M533.4 401.2h0M531.7 408.1h0M536.2 391.8h0M532.5 403.9h0M532.8 399.3h0" stroke="#58d0e0" stroke-width="1.6" stroke-linecap="round" fill="none" stroke-opacity="0.85"/>
<path d="M552 386.6h0M524.1 369.6h0M540 347.6h0M524.9 366.1h0M555.8 389.7h0M569.2 355.3h0M543 390.5h0M570.4 366.3h0M550.8 342.1h0M555.8 350.6h0M526.4 373.4h0M522.6 373h0M568.6 368.2h0M565.8 385h0M551.4 345.6h0M540.7 391.3h0M566.5 381.6h0M547 347.3h0M564.7 353.3h0M525.5 361.2h0M569.5 355.8h0M534.2 383.1h0M534.6 388.3h0M527.3 377.7h0M518 395.7h0M526 339.2h0M520 332.9h0M521.7 353.9h0M507.5 394.3h0M518.4 396.1h0M527.5 414.1h0M534.9 411.6h0M535.6 346.2h0M517.8 397.5h0M523.2 345.3h0M521.1 336h0M530.2 398.3h0M520.6 405h0M526.4 386.3h0M527.9 400.2h0M532.9 399.7h0M530.4 400.4h0M541.6 391.4h0M531 391.5h0" stroke="#e8508a" stroke-width="1.6" stroke-linecap="round" fill="none" stroke-opacity="0.85"/>
<path d="M533.1 348.4h0M549.8 347.5h0M522.1 367.8h0M565.1 348.3h0M530.7 352.2h0M546.1 343.3h0M527.5 357.9h0M572.5 368.1h0M548.7 386.7h0M571.9 368.1h0M563.9 377.2h0M547.8 386.1h0M530.2 381.3h0M529.7 345.9h0M560 353.2h0M566.1 353.8h0M557.3 384.4h0M561.3 384.4h0M528.5 382.9h0M520.6 373.8h0M552.9 347.6h0M567.1 371.2h0M533.4 384.2h0M564.4 354.1h0M523.9 351.1h0M499.7 402.3h0M517.2 381.3h0M499.1 376.5h0M538.3 356.2h0M535.7 398.2h0M521.4 408.5h0M524.9 373.3h0M497.8 337.4h0M515.2 391h0M502.9 419.1h0M512 363.5h0M537 393.7h0M528.8 398.1h0M541.6 392h0M533.9 407h0M534.9 406.3h0M537.6 388.4h0M530.1 398h0M523.9 411.1h0" stroke="#7ae0d0" stroke-width="1.6" stroke-linecap="round" fill="none" stroke-opacity="0.85"/>
</g>
<clipPath id="ce3"><rect x="587.9" y="327" width="96.3" height="95.6"/></clipPath>
<g clip-path="url(#ce3)">
<rect x="587.9" y="327" width="96.3" height="95.6" fill="#b6b6be"/>
<filter id="g3" x="0" y="0" width="1" height="1" color-interpolation-filters="sRGB"><feTurbulence type="fractalNoise" baseFrequency="0.8" numOctaves="2" seed="13"/><feColorMatrix values="1.4 0 0 0 -0.2 1.4 0 0 0 -0.2 1.4 0 0 0 -0.2 0 0 0 0 0.18"/></filter>
<rect x="587.9" y="327" width="96.3" height="95.6" fill="#000" filter="url(#g3)"/>
<filter id="b3" x="0" y="0" width="1" height="1" color-interpolation-filters="sRGB"><feTurbulence type="fractalNoise" baseFrequency="0.4" numOctaves="2" seed="14"/><feColorMatrix values="0 0 0 0 0.510 0 0 0 0 0.565 0 0 0 0 0.855 -12 0 0 0 4.8"/></filter>
<rect x="587.9" y="327" width="96.3" height="95.6" fill="#000" filter="url(#b3)"/>
<path d="M586,360 C600,356 612,368 612,378 C618,370 632,368 638,378 C643,392 636,402 620,403 C606,404 600,398 586,398 Z" fill="#a8a8b6" stroke="#1e2a88" stroke-width="1.6" filter="url(#bl1)"/>
<path d="M588,363 C600,360 610,370 611,380 M614,377 C620,372 632,372 636,380 C640,392 634,399 620,400" fill="none" stroke="#f4f4f8" stroke-width="0.9"/>
<path d="M637,343 C640,336 650,340 653,348 C658,342 676,340 680,350 C684,360 682,372 680,380 C682,392 672,400 660,398 C650,400 641,392 642,382 C644,370 640,360 637,343 Z" fill="#a8a8b8" stroke="#1e2a88" stroke-width="1.6" filter="url(#bl1)"/>
<path d="M645,384 C646,394 654,397 662,395" fill="none" stroke="#f4f4f8" stroke-width="0.9"/>
<filter id="b3b" x="0" y="0" width="1" height="1" color-interpolation-filters="sRGB"><feTurbulence type="fractalNoise" baseFrequency="0.5" numOctaves="2" seed="15"/><feColorMatrix values="0 0 0 0 0.353 0 0 0 0 0.416 0 0 0 0 0.784 -12 0 0 0 4.2"/></filter>
<rect x="600" y="340" width="84" height="70" fill="#000" filter="url(#b3b)"/>
<path d="M665.3 358.9h0M660.5 354.4h0M661.4 363.5h0M657.2 346.5h0M655.9 354.3h0M652.8 358.2h0M654.9 355.2h0M654.2 353.7h0M628.7 363.4h0M651.4 355.4h0M670.8 348.8h0M669.3 362.7h0M646.3 360.6h0M645.9 358.2h0M643.5 360.2h0M639.1 370.9h0M647.1 355.5h0M661.8 354h0M651.3 362.6h0M661.3 355.2h0M668.3 345.2h0M652.2 352h0M651.6 363.4h0M662.8 368.9h0M675 357.2h0M656.3 351.2h0M644.4 349.5h0M675.6 362.5h0M659.7 341.9h0M642.4 350.7h0" stroke="#58e0d0" stroke-width="2" stroke-linecap="round" fill="none" stroke-opacity="0.8"/>
<path d="M665.3 350.7h0M631.8 350.8h0M660.3 357.8h0M653.7 379.2h0M673.6 357.1h0M657.6 348.9h0M638.8 359.6h0M650.2 364.8h0M655.5 357.8h0M662.3 351.6h0M660 356.3h0M639.8 360.6h0M654.1 351.3h0M653.4 355.6h0M647.3 344.2h0M652.4 351.4h0M653.8 356.7h0M658.8 358.2h0M659.6 352.2h0M642.6 372.2h0M657.6 359.7h0M658.1 359.9h0M641 339.9h0M640 350.2h0M665 366.5h0M669.9 360.3h0M655.5 346.6h0M663.1 356.2h0M647.6 360.6h0M643.1 363.7h0" stroke="#70d0a8" stroke-width="1.8" stroke-linecap="round" fill="none" stroke-opacity="0.8"/>
<path d="M680.2 407h0M649.9 418h0M623.3 406.7h0M620.5 412.3h0M639.1 419.8h0M665.1 412h0M616.8 413.2h0M631.1 413.1h0M626.1 405.2h0M660 399.6h0M667.6 402.2h0M680.2 413.3h0M675.1 407.2h0M619.6 413.7h0M639.1 408.8h0M676.6 401.8h0M657 420.3h0M607.3 421.2h0M669.2 416.4h0M682.9 403.4h0M632.3 335.3h0M674.6 342.4h0M666.7 343.7h0M681.4 339.7h0M669.4 332.6h0M639.8 327.7h0M633.9 327.4h0M641.3 339.8h0M656.7 337.6h0M671.5 336.6h0" stroke="#70d8e8" stroke-width="2" stroke-linecap="round" fill="none" stroke-opacity="0.8"/>
<path d="M676.4 401.4h0M634 404.8h0M632.8 407.9h0M618.7 404.3h0M623.1 402.4h0M610.1 421.3h0M620 417.9h0M666.8 414.9h0M649 410.6h0M605.4 398.1h0M663.2 409h0M671.1 400.4h0M603.6 418.6h0M601.4 408.5h0M669.4 404.9h0M681.3 404.9h0M657.2 418.5h0M603.4 414.2h0M661.1 412.6h0M676.5 417.3h0M647.9 329.7h0M668.1 327.6h0M666 343.8h0M667.5 332.4h0M637 332.9h0M629.6 332h0M667.1 341.9h0M675.6 327.5h0M631 343.2h0M654.3 342h0" stroke="#e890c8" stroke-width="2" stroke-linecap="round" fill="none" stroke-opacity="0.8"/>
</g>
<text x="396.2" y="416.98" font-size="6.6" fill="#1a1a1a">50 µm</text>
<rect x="396.2" y="419" width="18.5" height="1.4" fill="#111"/>
<text x="494" y="416.98" font-size="6.6" fill="#1a1a1a">50 µm</text>
<rect x="494" y="419" width="18.5" height="1.4" fill="#111"/>
<text x="590.5" y="416.98" font-size="6.6" fill="#1a1a1a">50 µm</text>
<rect x="590.5" y="419" width="18.5" height="1.4" fill="#111"/>
<text x="1.5" y="452.22" font-size="9.5" fill="#000" font-weight="bold">f</text>
<line x1="50" y1="454.6" x2="50" y2="571.6" stroke="#6d6e71" stroke-width="0.8"/>
<line x1="46" y1="571.6" x2="50" y2="571.6" stroke="#6d6e71" stroke-width="0.8"/>
<text x="42.6" y="574.55" font-size="8.2" text-anchor="end" fill="#231f20">0.0</text>
<line x1="46" y1="548.2" x2="50" y2="548.2" stroke="#6d6e71" stroke-width="0.8"/>
<text x="42.6" y="551.15" font-size="8.2" text-anchor="end" fill="#231f20">0.5</text>
<line x1="46" y1="524.8" x2="50" y2="524.8" stroke="#6d6e71" stroke-width="0.8"/>
<text x="42.6" y="527.75" font-size="8.2" text-anchor="end" fill="#231f20">1.0</text>
<line x1="46" y1="501.4" x2="50" y2="501.4" stroke="#6d6e71" stroke-width="0.8"/>
<text x="42.6" y="504.35" font-size="8.2" text-anchor="end" fill="#231f20">1.5</text>
<line x1="46" y1="478" x2="50" y2="478" stroke="#6d6e71" stroke-width="0.8"/>
<text x="42.6" y="480.95" font-size="8.2" text-anchor="end" fill="#231f20">2.0</text>
<line x1="46" y1="454.6" x2="50" y2="454.6" stroke="#6d6e71" stroke-width="0.8"/>
<text x="42.6" y="457.55" font-size="8.2" text-anchor="end" fill="#231f20">2.5</text>
<line x1="50" y1="571.6" x2="143" y2="571.6" stroke="#6d6e71" stroke-width="0.8"/>
<text x="0" y="2.95" font-size="8.2" transform="translate(23.4,513) rotate(-90)" text-anchor="middle" fill="#231f20">LDH release (relative)</text>
<rect x="60.2" y="525.2" width="21.5" height="46.4" fill="#ffffff" stroke="#555" stroke-width="0.7"/>
<rect x="86" y="513.2" width="20.6" height="58.4" fill="#9db7d1" stroke="#555" stroke-width="0.7"/>
<rect x="111.4" y="482.7" width="21.4" height="88.9" fill="#e8b0ab" stroke="#555" stroke-width="0.7"/>
<line x1="71" y1="525.2" x2="71" y2="523.1" stroke="#555" stroke-width="0.7"/>
<line x1="67.5" y1="523.1" x2="74.5" y2="523.1" stroke="#555" stroke-width="0.7"/>
<line x1="96.3" y1="513.2" x2="96.3" y2="510.6" stroke="#555" stroke-width="0.7"/>
<line x1="91" y1="510.6" x2="101.6" y2="510.6" stroke="#555" stroke-width="0.7"/>
<line x1="122.1" y1="482.7" x2="122.1" y2="475" stroke="#555" stroke-width="0.7"/>
<line x1="116.9" y1="475" x2="127.3" y2="475" stroke="#555" stroke-width="0.7"/>
<circle cx="70.7" cy="519.4" r="2" fill="none" stroke="#555" stroke-width="0.6"/>
<circle cx="61.9" cy="529.2" r="2" fill="none" stroke="#555" stroke-width="0.6"/>
<circle cx="70.7" cy="525.2" r="2" fill="none" stroke="#555" stroke-width="0.6"/>
<circle cx="80" cy="527.8" r="2" fill="none" stroke="#555" stroke-width="0.6"/>
<circle cx="87.4" cy="509" r="2" fill="none" stroke="#555" stroke-width="0.6"/>
<circle cx="105.2" cy="509" r="2" fill="none" stroke="#555" stroke-width="0.6"/>
<circle cx="87.4" cy="518.8" r="2" fill="none" stroke="#555" stroke-width="0.6"/>
<circle cx="105.2" cy="515.9" r="2" fill="none" stroke="#555" stroke-width="0.6"/>
<circle cx="122.1" cy="460.3" r="2" fill="none" stroke="#555" stroke-width="0.6"/>
<circle cx="122.1" cy="484.4" r="2" fill="none" stroke="#555" stroke-width="0.6"/>
<circle cx="113.2" cy="493.9" r="2" fill="none" stroke="#555" stroke-width="0.6"/>
<circle cx="130.7" cy="491.8" r="2" fill="none" stroke="#555" stroke-width="0.6"/>
<text x="96.3" y="509.18" font-size="13" text-anchor="middle" fill="#231f20">*</text>
<text x="121.8" y="460.98" font-size="13" text-anchor="middle" fill="#231f20">*</text>
<rect x="139.4" y="452" width="11.7" height="4.6" fill="#ffffff" stroke="#555" stroke-width="0.6"/>
<text x="154.3" y="457.11" font-size="7.8" fill="#231f20">Ctrl</text>
<rect x="139.4" y="460.8" width="11.7" height="4.6" fill="#9db7d1" stroke="#555" stroke-width="0.6"/>
<text x="154.3" y="465.91" font-size="7.8" fill="#231f20">EV1</text>
<rect x="139.4" y="469.6" width="11.7" height="4.6" fill="#e8b0ab" stroke="#555" stroke-width="0.6"/>
<text x="154.3" y="474.71" font-size="7.8" fill="#231f20">OC43</text>
<text x="177.6" y="453.62" font-size="9.5" fill="#000" font-weight="bold">g</text>
<text x="246.6" y="457.95" font-size="8.2" text-anchor="middle" fill="#231f20">1h</text>
<text x="271.5" y="457.95" font-size="8.2" text-anchor="middle" fill="#231f20">12h</text>
<text x="301" y="457.95" font-size="8.2" text-anchor="middle" fill="#231f20">24h</text>
<text x="325.7" y="457.95" font-size="8.2" text-anchor="middle" fill="#231f20">36h</text>
<text x="354" y="457.95" font-size="8.2" text-anchor="middle" fill="#231f20">LPS</text>
<text x="371" y="452.88" font-size="6.6" fill="#231f20">MW</text>
<text x="371" y="461.08" font-size="6.6" fill="#231f20">kDa</text>
<rect x="233.4" y="463" width="133.9" height="9.2" fill="#fdfdfd" stroke="#8c8c8c" stroke-width="0.7"/>
<rect x="236.1" y="466.5" width="21" height="2.2" rx="1.1" fill="#727272" filter="url(#bl1)"/>
<rect x="261" y="466.5" width="21" height="2.2" rx="1.1" fill="#3f3f3f" filter="url(#bl1)"/>
<rect x="290.5" y="466.5" width="21" height="2.2" rx="1.1" fill="#383838" filter="url(#bl1)"/>
<rect x="315.2" y="466.5" width="21" height="2.2" rx="1.1" fill="#000000" filter="url(#bl1)"/>
<rect x="343.5" y="466.5" width="21" height="2.2" rx="1.1" fill="#000000" filter="url(#bl1)"/>
<text x="230.6" y="470.55" font-size="8.2" text-anchor="end" fill="#231f20">NLRP3</text>
<line x1="368.8" y1="467.6" x2="371.3" y2="467.6" stroke="#333" stroke-width="0.6"/>
<text x="373.2" y="470.19" font-size="7.2" fill="#231f20">85</text>
<rect x="233.4" y="475.9" width="133.9" height="9.1" fill="#fdfdfd" stroke="#8c8c8c" stroke-width="0.7"/>
<rect x="236.1" y="479.15" width="21" height="2.6" rx="1.3" fill="#191919" filter="url(#bl1)"/>
<rect x="261" y="479.15" width="21" height="2.6" rx="1.3" fill="#141414" filter="url(#bl1)"/>
<rect x="290.5" y="479.15" width="21" height="2.6" rx="1.3" fill="#141414" filter="url(#bl1)"/>
<rect x="315.2" y="479.15" width="21" height="2.6" rx="1.3" fill="#141414" filter="url(#bl1)"/>
<rect x="343.5" y="479.15" width="21" height="2.6" rx="1.3" fill="#0c0c0c" filter="url(#bl1)"/>
<text x="230.6" y="483.4" font-size="8.2" text-anchor="end" fill="#231f20">β-actin</text>
<line x1="368.8" y1="480.45" x2="371.3" y2="480.45" stroke="#333" stroke-width="0.6"/>
<text x="373.2" y="483.04" font-size="7.2" fill="#231f20">43</text>
<rect x="233.4" y="488.1" width="133.9" height="9.5" fill="#fdfdfd" stroke="#8c8c8c" stroke-width="0.7"/>
<rect x="236.1" y="491.95" width="21" height="1.8" rx="0.9" fill="#a5a5a5" filter="url(#bl1)"/>
<rect x="261" y="491.95" width="21" height="1.8" rx="0.9" fill="#a5a5a5" filter="url(#bl1)"/>
<rect x="290.5" y="491.95" width="21" height="1.8" rx="0.9" fill="#999999" filter="url(#bl1)"/>
<rect x="315.2" y="491.95" width="21" height="1.8" rx="0.9" fill="#666666" filter="url(#bl1)"/>
<rect x="343.5" y="491.95" width="21" height="1.8" rx="0.9" fill="#595959" filter="url(#bl1)"/>
<text x="230.6" y="495.8" font-size="8.2" text-anchor="end" fill="#231f20">pro IL1β</text>
<line x1="368.8" y1="492.85" x2="371.3" y2="492.85" stroke="#333" stroke-width="0.6"/>
<text x="373.2" y="495.44" font-size="7.2" fill="#231f20">31</text>
<rect x="233.4" y="501.5" width="133.9" height="9.7" fill="#fdfdfd" stroke="#8c8c8c" stroke-width="0.7"/>
<rect x="290.5" y="506.95" width="21" height="1.8" rx="0.9" fill="#e0e0e0" filter="url(#bl1)"/>
<rect x="315.2" y="506.95" width="21" height="1.8" rx="0.9" fill="#a5a5a5" filter="url(#bl1)"/>
<rect x="343.5" y="506.95" width="21" height="1.8" rx="0.9" fill="#262626" filter="url(#bl1)"/>
<text x="230.6" y="509.3" font-size="8.2" text-anchor="end" fill="#231f20">cleaved IL1β</text>
<line x1="368.8" y1="506.35" x2="371.3" y2="506.35" stroke="#333" stroke-width="0.6"/>
<text x="373.2" y="508.94" font-size="7.2" fill="#231f20">17</text>
<rect x="233.4" y="518.7" width="133.9" height="9.5" fill="#fdfdfd" stroke="#8c8c8c" stroke-width="0.7"/>
<rect x="236.1" y="522.25" width="21" height="2.4" rx="1.2" fill="#c6c6c6" filter="url(#bl1)"/>
<rect x="261" y="522.25" width="21" height="2.4" rx="1.2" fill="#b2b2b2" filter="url(#bl1)"/>
<rect x="290.5" y="522.25" width="21" height="2.4" rx="1.2" fill="#cccccc" filter="url(#bl1)"/>
<rect x="315.2" y="522.25" width="21" height="2.4" rx="1.2" fill="#0c0c0c" filter="url(#bl1)"/>
<rect x="343.5" y="522.25" width="21" height="2.4" rx="1.2" fill="#4c4c4c" filter="url(#bl1)"/>
<text x="230.6" y="526.4" font-size="8.2" text-anchor="end" fill="#231f20">NF κB</text>
<line x1="368.8" y1="523.45" x2="371.3" y2="523.45" stroke="#333" stroke-width="0.6"/>
<text x="373.2" y="526.04" font-size="7.2" fill="#231f20">65</text>
<rect x="233.4" y="531.4" width="133.9" height="10.3" fill="#fdfdfd" stroke="#8c8c8c" stroke-width="0.7"/>
<rect x="236.1" y="534.75" width="21" height="3.6" rx="1.8" fill="#d6d6d6" filter="url(#bl1)"/>
<rect x="261" y="534.75" width="21" height="3.6" rx="1.8" fill="#cccccc" filter="url(#bl1)"/>
<rect x="290.5" y="534.75" width="21" height="3.6" rx="1.8" fill="#d6d6d6" filter="url(#bl1)"/>
<rect x="315.2" y="534.75" width="21" height="3.6" rx="1.8" fill="#000000" filter="url(#bl1)"/>
<rect x="343.5" y="534.75" width="21" height="3.6" rx="1.8" fill="#0c0c0c" filter="url(#bl1)"/>
<text x="230.6" y="539.5" font-size="8.2" text-anchor="end" fill="#231f20">pro caspase1</text>
<line x1="368.8" y1="536.55" x2="371.3" y2="536.55" stroke="#333" stroke-width="0.6"/>
<text x="373.2" y="539.14" font-size="7.2" fill="#231f20">45</text>
<rect x="233.4" y="543.7" width="133.9" height="9.6" fill="#fdfdfd" stroke="#8c8c8c" stroke-width="0.7"/>
<rect x="236.1" y="546.8" width="21" height="3.4" rx="1.7" fill="#000000" filter="url(#bl1)"/>
<rect x="261" y="546.8" width="21" height="3.4" rx="1.7" fill="#000000" filter="url(#bl1)"/>
<rect x="290.5" y="546.8" width="21" height="3.4" rx="1.7" fill="#000000" filter="url(#bl1)"/>
<rect x="315.2" y="546.8" width="21" height="3.4" rx="1.7" fill="#000000" filter="url(#bl1)"/>
<rect x="343.5" y="546.8" width="21" height="3.4" rx="1.7" fill="#000000" filter="url(#bl1)"/>
<text x="230.6" y="551.45" font-size="8.2" text-anchor="end" fill="#231f20">β-actin</text>
<line x1="368.8" y1="548.5" x2="371.3" y2="548.5" stroke="#333" stroke-width="0.6"/>
<text x="373.2" y="551.09" font-size="7.2" fill="#231f20">43</text>
<rect x="233.4" y="557.3" width="133.9" height="10.4" fill="#fdfdfd" stroke="#8c8c8c" stroke-width="0.7"/>
<rect x="290.5" y="560.5" width="21" height="4" rx="2" fill="#efefef" filter="url(#bl1)"/>
<rect x="315.2" y="560.5" width="21" height="4" rx="2" fill="#d8d8d8" filter="url(#bl1)"/>
<rect x="343.5" y="560.5" width="21" height="4" rx="2" fill="#8c8c8c" filter="url(#bl1)"/>
<text x="230.6" y="565.45" font-size="8.2" text-anchor="end" fill="#231f20">cleaved caspase1</text>
<line x1="368.8" y1="562.5" x2="371.3" y2="562.5" stroke="#333" stroke-width="0.6"/>
<text x="373.2" y="565.09" font-size="7.2" fill="#231f20">20</text>
<text x="437.7" y="459.75" font-size="8.2" text-anchor="middle" fill="#231f20">1h</text>
<text x="465.4" y="459.75" font-size="8.2" text-anchor="middle" fill="#231f20">12h</text>
<text x="494.8" y="459.75" font-size="8.2" text-anchor="middle" fill="#231f20">24h</text>
<text x="524.7" y="459.75" font-size="8.2" text-anchor="middle" fill="#231f20">36h</text>
<text x="541.5" y="455.18" font-size="6.6" fill="#231f20">MW</text>
<text x="541.5" y="463.58" font-size="6.6" fill="#231f20">kDa</text>
<rect x="422.3" y="465.5" width="117" height="10.3" fill="#fdfdfd" stroke="#8c8c8c" stroke-width="0.7"/>
<rect x="428.2" y="469.55" width="19" height="2.2" rx="1.1" fill="#262626" filter="url(#bl1)"/>
<rect x="455.9" y="469.55" width="19" height="2.2" rx="1.1" fill="#e5e5e5" filter="url(#bl1)"/>
<rect x="485.3" y="469.55" width="19" height="2.2" rx="1.1" fill="#d8d8d8" filter="url(#bl1)"/>
<rect x="515.2" y="469.55" width="19" height="2.2" rx="1.1" fill="#0c0c0c" filter="url(#bl1)"/>
<text x="419" y="473.6" font-size="8.2" text-anchor="end" fill="#231f20">p-STAT1</text>
<line x1="540.8" y1="470.65" x2="543.3" y2="470.65" stroke="#333" stroke-width="0.6"/>
<text x="543.5" y="473.24" font-size="7.2" fill="#231f20">84</text>
<rect x="422.3" y="481.6" width="117" height="9.9" fill="#fdfdfd" stroke="#8c8c8c" stroke-width="0.7"/>
<rect x="428.2" y="485.35" width="19" height="2.4" rx="1.2" fill="#f7f7f7" filter="url(#bl1)"/>
<rect x="455.9" y="485.35" width="19" height="2.4" rx="1.2" fill="#3f3f3f" filter="url(#bl1)"/>
<rect x="485.3" y="485.35" width="19" height="2.4" rx="1.2" fill="#262626" filter="url(#bl1)"/>
<rect x="515.2" y="485.35" width="19" height="2.4" rx="1.2" fill="#727272" filter="url(#bl1)"/>
<text x="419" y="489.5" font-size="8.2" text-anchor="end" fill="#231f20">IRF-9</text>
<line x1="540.8" y1="486.55" x2="543.3" y2="486.55" stroke="#333" stroke-width="0.6"/>
<text x="543.5" y="489.14" font-size="7.2" fill="#231f20">48</text>
<rect x="422.3" y="497.4" width="117" height="10.5" fill="#fdfdfd" stroke="#8c8c8c" stroke-width="0.7"/>
<rect x="427.2" y="501.05" width="21" height="3.2" rx="1.6" fill="#000000" filter="url(#bl1)"/>
<rect x="454.9" y="501.05" width="21" height="3.2" rx="1.6" fill="#000000" filter="url(#bl1)"/>
<rect x="484.3" y="501.05" width="21" height="3.2" rx="1.6" fill="#000000" filter="url(#bl1)"/>
<rect x="514.2" y="501.05" width="21" height="3.2" rx="1.6" fill="#000000" filter="url(#bl1)"/>
<text x="419" y="505.6" font-size="8.2" text-anchor="end" fill="#231f20">β-actin</text>
<line x1="540.8" y1="502.65" x2="543.3" y2="502.65" stroke="#333" stroke-width="0.6"/>
<text x="543.5" y="505.24" font-size="7.2" fill="#231f20">43</text>
<rect x="422.3" y="524.7" width="117" height="10.2" fill="#fdfdfd" stroke="#8c8c8c" stroke-width="0.7"/>
<path d="M428.2,531 Q437.7,528 447.2,531" fill="none" stroke="#191919" stroke-width="1.8" stroke-linecap="round" filter="url(#bl1)"/>
<path d="M455.9,531 Q465.4,528 474.9,531" fill="none" stroke="#b2b2b2" stroke-width="1.8" stroke-linecap="round" filter="url(#bl1)"/>
<path d="M485.3,531 Q494.8,528 504.3,531" fill="none" stroke="#191919" stroke-width="1.8" stroke-linecap="round" filter="url(#bl1)"/>
<path d="M515.2,531 Q524.7,528 534.2,531" fill="none" stroke="#323232" stroke-width="1.8" stroke-linecap="round" filter="url(#bl1)"/>
<text x="419" y="532.75" font-size="8.2" text-anchor="end" fill="#231f20">PKR</text>
<line x1="540.8" y1="529.8" x2="543.3" y2="529.8" stroke="#333" stroke-width="0.6"/>
<text x="543.5" y="532.39" font-size="7.2" fill="#231f20">74</text>
<rect x="422.3" y="540.3" width="117" height="10" fill="#fdfdfd" stroke="#8c8c8c" stroke-width="0.7"/>
<path d="M427.7,546.3 Q437.7,543.8 447.7,546.3" fill="none" stroke="#000000" stroke-width="3.8" stroke-linecap="round" filter="url(#bl1)"/>
<path d="M455.4,546.3 Q465.4,543.8 475.4,546.3" fill="none" stroke="#000000" stroke-width="3.8" stroke-linecap="round" filter="url(#bl1)"/>
<path d="M484.8,546.3 Q494.8,543.8 504.8,546.3" fill="none" stroke="#000000" stroke-width="3.8" stroke-linecap="round" filter="url(#bl1)"/>
<path d="M514.7,546.3 Q524.7,543.8 534.7,546.3" fill="none" stroke="#000000" stroke-width="3.8" stroke-linecap="round" filter="url(#bl1)"/>
<text x="419" y="548.25" font-size="8.2" text-anchor="end" fill="#231f20">p-eIF2α</text>
<line x1="540.8" y1="545.3" x2="543.3" y2="545.3" stroke="#333" stroke-width="0.6"/>
<text x="543.5" y="547.89" font-size="7.2" fill="#231f20">38</text>
<rect x="422.3" y="555.4" width="117" height="9.7" fill="#fdfdfd" stroke="#8c8c8c" stroke-width="0.7"/>
<path d="M429.2,561.75 Q437.7,558 446.2,561.75" fill="none" stroke="#f7f7f7" stroke-width="1.6" stroke-linecap="round" filter="url(#bl1)"/>
<path d="M456.9,561.75 Q465.4,558 473.9,561.75" fill="none" stroke="#f7f7f7" stroke-width="1.6" stroke-linecap="round" filter="url(#bl1)"/>
<path d="M486.3,561.75 Q494.8,558 503.3,561.75" fill="none" stroke="#eaeaea" stroke-width="1.6" stroke-linecap="round" filter="url(#bl1)"/>
<path d="M516.2,561.75 Q524.7,558 533.2,561.75" fill="none" stroke="#4c4c4c" stroke-width="1.6" stroke-linecap="round" filter="url(#bl1)"/>
<text x="419" y="563.2" font-size="8.2" text-anchor="end" fill="#231f20">β-actin</text>
<line x1="540.8" y1="560.25" x2="543.3" y2="560.25" stroke="#333" stroke-width="0.6"/>
<text x="543.5" y="562.84" font-size="7.2" fill="#231f20">43</text>
<text x="563" y="452.42" font-size="9.5" fill="#000" font-weight="bold">h</text>
<path d="M577,467 L577,539 Q577,545 583,545 L672,545 Q678,545 678,539 L678,467" fill="none" stroke="#9cc5b5" stroke-width="5"/>
<path d="M577,467 L577,539 Q577,545 583,545 L672,545 Q678,545 678,539 L678,467" fill="none" stroke="#d6ede4" stroke-width="3.8"/>
<rect x="578.8" y="468" width="97" height="75" fill="#f3f4f8"/>
<rect x="578.8" y="485" width="97" height="52" fill="#f3dfe9"/>
<path d="M591.5,467.5 L592,512 Q592,515 595,515 L661,515 Q664,515 664,512 L664.5,467.5" fill="none" stroke="#9cc5b5" stroke-width="4.2"/>
<path d="M591.5,467.5 L592,512 Q592,515 595,515 L661,515 Q664,515 664,512 L664.5,467.5" fill="none" stroke="#d6ede4" stroke-width="3.1"/>
<rect x="593.4" y="468" width="68.8" height="45.2" fill="#f4f4f8"/>
<rect x="593.4" y="485" width="68.8" height="28.2" fill="#f3dfe9"/>
<line x1="573.3" y1="467.2" x2="594.2" y2="467.2" stroke="#9cc5b5" stroke-width="3.4"/>
<line x1="573.8" y1="467.2" x2="593.7" y2="467.2" stroke="#d6ede4" stroke-width="2.3"/>
<line x1="661.8" y1="467.2" x2="682.3" y2="467.2" stroke="#9cc5b5" stroke-width="3.4"/>
<line x1="662.3" y1="467.2" x2="681.8" y2="467.2" stroke="#d6ede4" stroke-width="2.3"/>
<rect x="596" y="514.3" width="1.6" height="1.6" fill="#ffffff" stroke="#9cc5b5" stroke-width="0.3"/>
<rect x="600.2" y="514.3" width="1.6" height="1.6" fill="#ffffff" stroke="#9cc5b5" stroke-width="0.3"/>
<rect x="604.4" y="514.3" width="1.6" height="1.6" fill="#ffffff" stroke="#9cc5b5" stroke-width="0.3"/>
<rect x="608.6" y="514.3" width="1.6" height="1.6" fill="#ffffff" stroke="#9cc5b5" stroke-width="0.3"/>
<rect x="612.8" y="514.3" width="1.6" height="1.6" fill="#ffffff" stroke="#9cc5b5" stroke-width="0.3"/>
<rect x="617" y="514.3" width="1.6" height="1.6" fill="#ffffff" stroke="#9cc5b5" stroke-width="0.3"/>
<rect x="621.2" y="514.3" width="1.6" height="1.6" fill="#ffffff" stroke="#9cc5b5" stroke-width="0.3"/>
<rect x="625.4" y="514.3" width="1.6" height="1.6" fill="#ffffff" stroke="#9cc5b5" stroke-width="0.3"/>
<rect x="629.6" y="514.3" width="1.6" height="1.6" fill="#ffffff" stroke="#9cc5b5" stroke-width="0.3"/>
<rect x="633.8" y="514.3" width="1.6" height="1.6" fill="#ffffff" stroke="#9cc5b5" stroke-width="0.3"/>
<rect x="638" y="514.3" width="1.6" height="1.6" fill="#ffffff" stroke="#9cc5b5" stroke-width="0.3"/>
<rect x="642.2" y="514.3" width="1.6" height="1.6" fill="#ffffff" stroke="#9cc5b5" stroke-width="0.3"/>
<rect x="646.4" y="514.3" width="1.6" height="1.6" fill="#ffffff" stroke="#9cc5b5" stroke-width="0.3"/>
<rect x="650.6" y="514.3" width="1.6" height="1.6" fill="#ffffff" stroke="#9cc5b5" stroke-width="0.3"/>
<rect x="654.8" y="514.3" width="1.6" height="1.6" fill="#ffffff" stroke="#9cc5b5" stroke-width="0.3"/>
<rect x="659" y="514.3" width="1.6" height="1.6" fill="#ffffff" stroke="#9cc5b5" stroke-width="0.3"/>
<ellipse cx="598.5" cy="509" rx="5.2" ry="4.2" fill="#bab8e6"/>
<ellipse cx="606" cy="509" rx="5.2" ry="4.2" fill="#bab8e6"/>
<ellipse cx="613.5" cy="509" rx="5.2" ry="4.2" fill="#bab8e6"/>
<ellipse cx="621" cy="509" rx="5.2" ry="4.2" fill="#bab8e6"/>
<ellipse cx="628.5" cy="509" rx="5.2" ry="4.2" fill="#bab8e6"/>
<ellipse cx="636" cy="509" rx="5.2" ry="4.2" fill="#bab8e6"/>
<ellipse cx="643.5" cy="509" rx="5.2" ry="4.2" fill="#bab8e6"/>
<ellipse cx="651" cy="509" rx="5.2" ry="4.2" fill="#bab8e6"/>
<ellipse cx="658.5" cy="509" rx="5.2" ry="4.2" fill="#bab8e6"/>
<ellipse cx="603" cy="509.5" rx="3.6" ry="1.9" fill="#9d9ad8"/>
<ellipse cx="613.9" cy="509.5" rx="3.6" ry="1.9" fill="#9d9ad8"/>
<ellipse cx="622.9" cy="509.5" rx="3.6" ry="1.9" fill="#9d9ad8"/>
<ellipse cx="632.4" cy="509.5" rx="3.6" ry="1.9" fill="#9d9ad8"/>
<ellipse cx="642.2" cy="509.5" rx="3.6" ry="1.9" fill="#9d9ad8"/>
<ellipse cx="652" cy="509.5" rx="3.6" ry="1.9" fill="#9d9ad8"/>
<circle cx="597" cy="495" r="0.9" fill="#3a9ad0"/>
<circle cx="604" cy="496.5" r="0.9" fill="#3a9ad0"/>
<circle cx="612" cy="494" r="0.9" fill="#3a9ad0"/>
<circle cx="613" cy="500" r="0.9" fill="#3a9ad0"/>
<circle cx="618" cy="492" r="0.9" fill="#3a9ad0"/>
<circle cx="624" cy="496" r="0.9" fill="#3a9ad0"/>
<circle cx="627" cy="493" r="0.9" fill="#3a9ad0"/>
<circle cx="631" cy="500" r="0.9" fill="#3a9ad0"/>
<circle cx="635" cy="492" r="0.9" fill="#3a9ad0"/>
<circle cx="637" cy="497" r="0.9" fill="#3a9ad0"/>
<circle cx="642" cy="493" r="0.9" fill="#3a9ad0"/>
<circle cx="644" cy="499" r="0.9" fill="#3a9ad0"/>
<circle cx="648" cy="500" r="0.9" fill="#3a9ad0"/>
<circle cx="651" cy="493" r="0.9" fill="#3a9ad0"/>
<circle cx="652" cy="498" r="0.9" fill="#3a9ad0"/>
<circle cx="657" cy="491" r="0.9" fill="#3a9ad0"/>
<circle cx="659" cy="497" r="0.9" fill="#3a9ad0"/>
<circle cx="661" cy="495" r="0.9" fill="#3a9ad0"/>
<circle cx="622" cy="501" r="0.9" fill="#3a9ad0"/>
<circle cx="623" cy="523.5" r="2.3" fill="#a8acd8" stroke="#8a90c8" stroke-width="0.4"/>
<circle cx="620" cy="530" r="2.3" fill="#a8acd8" stroke="#8a90c8" stroke-width="0.4"/>
<circle cx="644" cy="528" r="2.3" fill="#a8acd8" stroke="#8a90c8" stroke-width="0.4"/>
<circle cx="587.6" cy="534" r="5.6" fill="#fff8f0" stroke="#f0b070" stroke-width="0.6"/>
<circle cx="587.6" cy="534" r="4.6" fill="none" stroke="#e8a060" stroke-width="1.6" stroke-dasharray="1.2,1"/>
<circle cx="587.6" cy="534" r="2.5" fill="#8a90c8"/>
<circle cx="607.3" cy="534" r="5.6" fill="#fff8f0" stroke="#f0b070" stroke-width="0.6"/>
<circle cx="607.3" cy="534" r="4.6" fill="none" stroke="#e8a060" stroke-width="1.6" stroke-dasharray="1.2,1"/>
<circle cx="607.3" cy="534" r="2.5" fill="#8a90c8"/>
<circle cx="632.4" cy="534" r="5.6" fill="#fff8f0" stroke="#f0b070" stroke-width="0.6"/>
<circle cx="632.4" cy="534" r="4.6" fill="none" stroke="#e8a060" stroke-width="1.6" stroke-dasharray="1.2,1"/>
<circle cx="632.4" cy="534" r="2.5" fill="#8a90c8"/>
<circle cx="658.1" cy="534" r="5.6" fill="#fff8f0" stroke="#f0b070" stroke-width="0.6"/>
<circle cx="658.1" cy="534" r="4.6" fill="none" stroke="#e8a060" stroke-width="1.6" stroke-dasharray="1.2,1"/>
<circle cx="658.1" cy="534" r="2.5" fill="#8a90c8"/>
<path d="M612,512 Q622,508 627,496" fill="none" stroke="#222" stroke-width="0.8" stroke-dasharray="1.2,1"/>
<path d="M613,533 Q626,532 629,520" fill="none" stroke="#222" stroke-width="0.8" stroke-dasharray="1.2,1"/>
<polygon points="628,487.5 624.8,494.5 631.2,494.5" fill="#111"/>
<polygon points="630.8,513 627.6,520 634,520" fill="#111"/>
<text x="638" y="486.21" font-size="5.3" text-anchor="middle" fill="#231f20">cytokine release</text>
<text x="656.7" y="525.41" font-size="5.3" text-anchor="middle" fill="#231f20">virus release</text>
<text x="4.5" y="592.22" font-size="9.5" fill="#000" font-weight="bold">i</text>
<line x1="48.2" y1="594.6" x2="48.2" y2="721.1" stroke="#6d6e71" stroke-width="0.8"/>
<line x1="44.7" y1="721.1" x2="48.2" y2="721.1" stroke="#6d6e71" stroke-width="0.8"/>
<text x="42.3" y="723.94" font-size="7.9" text-anchor="end" fill="#231f20">0</text>
<line x1="44.7" y1="695.8" x2="48.2" y2="695.8" stroke="#6d6e71" stroke-width="0.8"/>
<text x="42.3" y="698.64" font-size="7.9" text-anchor="end" fill="#231f20">40</text>
<line x1="44.7" y1="670.5" x2="48.2" y2="670.5" stroke="#6d6e71" stroke-width="0.8"/>
<text x="42.3" y="673.34" font-size="7.9" text-anchor="end" fill="#231f20">80</text>
<line x1="44.7" y1="645.2" x2="48.2" y2="645.2" stroke="#6d6e71" stroke-width="0.8"/>
<text x="42.3" y="648.04" font-size="7.9" text-anchor="end" fill="#231f20">120</text>
<line x1="44.7" y1="619.9" x2="48.2" y2="619.9" stroke="#6d6e71" stroke-width="0.8"/>
<text x="42.3" y="622.74" font-size="7.9" text-anchor="end" fill="#231f20">160</text>
<line x1="44.7" y1="594.6" x2="48.2" y2="594.6" stroke="#6d6e71" stroke-width="0.8"/>
<text x="42.3" y="597.44" font-size="7.9" text-anchor="end" fill="#231f20">200</text>
<line x1="48.2" y1="721.1" x2="149" y2="721.1" stroke="#6d6e71" stroke-width="0.8"/>
<text x="0" y="3.02" font-size="8.4" transform="translate(20.5,657.8) rotate(-90)" text-anchor="middle" fill="#231f20">IL-1β pg/mL</text>
<line x1="77.5" y1="682.5" x2="77.5" y2="698" stroke="#777" stroke-width="0.7"/>
<line x1="70.5" y1="682.5" x2="84.5" y2="682.5" stroke="#777" stroke-width="0.7"/>
<line x1="70.5" y1="698" x2="84.5" y2="698" stroke="#777" stroke-width="0.7"/>
<line x1="63.4" y1="690.4" x2="91.4" y2="690.4" stroke="#777" stroke-width="0.7"/>
<circle cx="64.8" cy="681.3" r="2.5" fill="#fff" stroke="#555" stroke-width="0.6"/>
<circle cx="76.8" cy="685.7" r="2.5" fill="#fff" stroke="#555" stroke-width="0.6"/>
<circle cx="64.8" cy="696.8" r="2.5" fill="#fff" stroke="#555" stroke-width="0.6"/>
<circle cx="88.5" cy="696.8" r="2.5" fill="#fff" stroke="#555" stroke-width="0.6"/>
<line x1="120" y1="610" x2="120" y2="642.2" stroke="#777" stroke-width="0.7"/>
<line x1="113" y1="610" x2="127" y2="610" stroke="#777" stroke-width="0.7"/>
<line x1="113" y1="642.2" x2="127" y2="642.2" stroke="#777" stroke-width="0.7"/>
<line x1="106" y1="626.1" x2="134.3" y2="626.1" stroke="#777" stroke-width="0.7"/>
<circle cx="108" cy="612.7" r="2.5" fill="#e0605a" stroke="#a04040" stroke-width="0.5"/>
<circle cx="132" cy="612.7" r="2.5" fill="#e0605a" stroke="#a04040" stroke-width="0.5"/>
<circle cx="108" cy="641.3" r="2.5" fill="#e0605a" stroke="#a04040" stroke-width="0.5"/>
<circle cx="132" cy="639.3" r="2.5" fill="#e0605a" stroke="#a04040" stroke-width="0.5"/>
<text x="120.3" y="609.48" font-size="13" text-anchor="middle" fill="#231f20">*</text>
<circle cx="154.7" cy="604.8" r="2.5" fill="#fff" stroke="#555" stroke-width="0.6"/>
<text x="160" y="607.93" font-size="8.7" fill="#231f20">Ctrl</text>
<circle cx="154.7" cy="617.1" r="2.5" fill="#e0605a" stroke="#a04040" stroke-width="0.5"/>
<text x="160" y="620.23" font-size="8.7" fill="#231f20">OC43</text>
<text x="193.8" y="592.92" font-size="9.5" fill="#000" font-weight="bold">j</text>
<circle cx="229.5" cy="592.4" r="2.1" fill="#fff" stroke="#444" stroke-width="0.6"/>
<text x="234.6" y="595.39" font-size="8.3" fill="#231f20">Ctrl-Matrigel</text>
<circle cx="324.3" cy="592.4" r="2.3" fill="#5a7ec0" stroke="#3a5ea0" stroke-width="0.4"/>
<text x="329.5" y="595.39" font-size="8.3" fill="#231f20">Ctrl-Organoid</text>
<circle cx="415.8" cy="592.4" r="2.3" fill="#e0605a" stroke="#a04040" stroke-width="0.4"/>
<text x="421" y="595.39" font-size="8.3" fill="#231f20">OC43-Organoid</text>
<path d="M209.4,601.2 L209.4,640.6 Q209.4,643.6 212.4,643.6 L294.5,643.6 Q297.5,643.6 297.5,640.6 L297.5,601.2" fill="#eef1f9" stroke="#9aa6c8" stroke-width="4"/>
<path d="M209.4,601.2 L209.4,640.6 Q209.4,643.6 212.4,643.6 L294.5,643.6 Q297.5,643.6 297.5,640.6 L297.5,601.2" fill="none" stroke="#c9d1ea" stroke-width="3.2"/>
<rect x="211.4" y="623.8" width="84.1" height="17.8" fill="#f6dfe5"/>
<path d="M222.2,601.2 L224.2,626.5 Q224.5,629.3 227.2,629.3 L282,629.3 Q284.7,629.3 285,626.5 L287,601.2" fill="#e9edf8" stroke="#8fbfae" stroke-width="3"/>
<path d="M222.2,601.2 L224.2,626.5 Q224.5,629.3 227.2,629.3 L282,629.3 Q284.7,629.3 285,626.5 L287,601.2" fill="none" stroke="#d2ebe1" stroke-width="2.2"/>
<rect x="225.5" y="623.8" width="58.2" height="4.3" fill="#f4dde5"/>
<line x1="206.9" y1="600.4" x2="223.7" y2="600.4" stroke="#8fbfae" stroke-width="2.2"/>
<line x1="285.5" y1="600.4" x2="300" y2="600.4" stroke="#8fbfae" stroke-width="2.2"/>
<line x1="207.2" y1="600.4" x2="223.4" y2="600.4" stroke="#d2ebe1" stroke-width="1.4"/>
<line x1="285.8" y1="600.4" x2="299.7" y2="600.4" stroke="#d2ebe1" stroke-width="1.4"/>
<rect x="227.2" y="630.2" width="1.1" height="0.9" fill="#a8c8c0"/>
<rect x="229.8" y="630.2" width="1.1" height="0.9" fill="#a8c8c0"/>
<rect x="232.4" y="630.2" width="1.1" height="0.9" fill="#a8c8c0"/>
<rect x="235" y="630.2" width="1.1" height="0.9" fill="#a8c8c0"/>
<rect x="237.6" y="630.2" width="1.1" height="0.9" fill="#a8c8c0"/>
<rect x="240.2" y="630.2" width="1.1" height="0.9" fill="#a8c8c0"/>
<rect x="242.8" y="630.2" width="1.1" height="0.9" fill="#a8c8c0"/>
<rect x="245.4" y="630.2" width="1.1" height="0.9" fill="#a8c8c0"/>
<rect x="248" y="630.2" width="1.1" height="0.9" fill="#a8c8c0"/>
<rect x="250.6" y="630.2" width="1.1" height="0.9" fill="#a8c8c0"/>
<rect x="253.2" y="630.2" width="1.1" height="0.9" fill="#a8c8c0"/>
<rect x="255.8" y="630.2" width="1.1" height="0.9" fill="#a8c8c0"/>
<rect x="258.4" y="630.2" width="1.1" height="0.9" fill="#a8c8c0"/>
<rect x="261" y="630.2" width="1.1" height="0.9" fill="#a8c8c0"/>
<rect x="263.6" y="630.2" width="1.1" height="0.9" fill="#a8c8c0"/>
<rect x="266.2" y="630.2" width="1.1" height="0.9" fill="#a8c8c0"/>
<rect x="268.8" y="630.2" width="1.1" height="0.9" fill="#a8c8c0"/>
<rect x="271.4" y="630.2" width="1.1" height="0.9" fill="#a8c8c0"/>
<rect x="274" y="630.2" width="1.1" height="0.9" fill="#a8c8c0"/>
<rect x="276.6" y="630.2" width="1.1" height="0.9" fill="#a8c8c0"/>
<rect x="279.2" y="630.2" width="1.1" height="0.9" fill="#a8c8c0"/>
<ellipse cx="238.2" cy="617.3" rx="3.3" ry="2.1" fill="#c46a76"/>
<ellipse cx="254.11" cy="617.32" rx="3.3" ry="2.1" fill="#c46a76"/>
<ellipse cx="270.86" cy="616.77" rx="3.3" ry="2.1" fill="#c46a76"/>
<ellipse cx="234.79" cy="620.21" rx="3.3" ry="2.1" fill="#b94454"/>
<ellipse cx="243.45" cy="620.46" rx="3.3" ry="2.1" fill="#b94454"/>
<ellipse cx="252.57" cy="619.75" rx="3.3" ry="2.1" fill="#b94454"/>
<ellipse cx="260.89" cy="620.55" rx="3.3" ry="2.1" fill="#b94454"/>
<ellipse cx="270.39" cy="620.71" rx="3.3" ry="2.1" fill="#b94454"/>
<ellipse cx="278.52" cy="619.98" rx="3.3" ry="2.1" fill="#b94454"/>
<ellipse cx="230.54" cy="624.84" rx="3.3" ry="2.1" fill="#ad3444"/>
<ellipse cx="238.44" cy="624.59" rx="3.3" ry="2.1" fill="#ad3444"/>
<ellipse cx="247.35" cy="624.6" rx="3.3" ry="2.1" fill="#ad3444"/>
<ellipse cx="254.28" cy="624.12" rx="3.3" ry="2.1" fill="#ad3444"/>
<ellipse cx="262.75" cy="624.86" rx="3.3" ry="2.1" fill="#ad3444"/>
<ellipse cx="270.46" cy="624.35" rx="3.3" ry="2.1" fill="#ad3444"/>
<ellipse cx="277.82" cy="624.19" rx="3.3" ry="2.1" fill="#ad3444"/>
<path d="M248.1,642.5 C249.6,636 252.6,631.5 255.6,631.5 C258.6,631.5 261.6,636 263.1,642.5 Z" fill="#9fd4da" stroke="#70b8c2" stroke-width="0.6"/>
<line x1="243.6" y1="626" x2="243.6" y2="636" stroke="#b8404c" stroke-width="0.9"/>
<ellipse cx="243.6" cy="627.5" rx="2.4" ry="1.6" fill="#b8404c"/>
<circle cx="243.6" cy="636.5" r="0.9" fill="#b8404c"/>
<path d="M306.3,601.2 L306.3,640.6 Q306.3,643.6 309.3,643.6 L391,643.6 Q394,643.6 394,640.6 L394,601.2" fill="#eef1f9" stroke="#9aa6c8" stroke-width="4"/>
<path d="M306.3,601.2 L306.3,640.6 Q306.3,643.6 309.3,643.6 L391,643.6 Q394,643.6 394,640.6 L394,601.2" fill="none" stroke="#c9d1ea" stroke-width="3.2"/>
<rect x="308.3" y="623.8" width="83.7" height="17.8" fill="#f6dfe5"/>
<path d="M319.1,601.2 L321.1,626.5 Q321.4,629.3 324.1,629.3 L378.5,629.3 Q381.2,629.3 381.5,626.5 L383.5,601.2" fill="#e9edf8" stroke="#8fbfae" stroke-width="3"/>
<path d="M319.1,601.2 L321.1,626.5 Q321.4,629.3 324.1,629.3 L378.5,629.3 Q381.2,629.3 381.5,626.5 L383.5,601.2" fill="none" stroke="#d2ebe1" stroke-width="2.2"/>
<rect x="322.4" y="623.8" width="57.8" height="4.3" fill="#f4dde5"/>
<line x1="303.8" y1="600.4" x2="320.6" y2="600.4" stroke="#8fbfae" stroke-width="2.2"/>
<line x1="382" y1="600.4" x2="396.5" y2="600.4" stroke="#8fbfae" stroke-width="2.2"/>
<line x1="304.1" y1="600.4" x2="320.3" y2="600.4" stroke="#d2ebe1" stroke-width="1.4"/>
<line x1="382.3" y1="600.4" x2="396.2" y2="600.4" stroke="#d2ebe1" stroke-width="1.4"/>
<rect x="324.1" y="630.2" width="1.1" height="0.9" fill="#a8c8c0"/>
<rect x="326.7" y="630.2" width="1.1" height="0.9" fill="#a8c8c0"/>
<rect x="329.3" y="630.2" width="1.1" height="0.9" fill="#a8c8c0"/>
<rect x="331.9" y="630.2" width="1.1" height="0.9" fill="#a8c8c0"/>
<rect x="334.5" y="630.2" width="1.1" height="0.9" fill="#a8c8c0"/>
<rect x="337.1" y="630.2" width="1.1" height="0.9" fill="#a8c8c0"/>
<rect x="339.7" y="630.2" width="1.1" height="0.9" fill="#a8c8c0"/>
<rect x="342.3" y="630.2" width="1.1" height="0.9" fill="#a8c8c0"/>
<rect x="344.9" y="630.2" width="1.1" height="0.9" fill="#a8c8c0"/>
<rect x="347.5" y="630.2" width="1.1" height="0.9" fill="#a8c8c0"/>
<rect x="350.1" y="630.2" width="1.1" height="0.9" fill="#a8c8c0"/>
<rect x="352.7" y="630.2" width="1.1" height="0.9" fill="#a8c8c0"/>
<rect x="355.3" y="630.2" width="1.1" height="0.9" fill="#a8c8c0"/>
<rect x="357.9" y="630.2" width="1.1" height="0.9" fill="#a8c8c0"/>
<rect x="360.5" y="630.2" width="1.1" height="0.9" fill="#a8c8c0"/>
<rect x="363.1" y="630.2" width="1.1" height="0.9" fill="#a8c8c0"/>
<rect x="365.7" y="630.2" width="1.1" height="0.9" fill="#a8c8c0"/>
<rect x="368.3" y="630.2" width="1.1" height="0.9" fill="#a8c8c0"/>
<rect x="370.9" y="630.2" width="1.1" height="0.9" fill="#a8c8c0"/>
<rect x="373.5" y="630.2" width="1.1" height="0.9" fill="#a8c8c0"/>
<rect x="376.1" y="630.2" width="1.1" height="0.9" fill="#a8c8c0"/>
<ellipse cx="334.96" cy="616.94" rx="3.3" ry="2.1" fill="#c46a76"/>
<ellipse cx="351.28" cy="616.98" rx="3.3" ry="2.1" fill="#c46a76"/>
<ellipse cx="367.58" cy="616.55" rx="3.3" ry="2.1" fill="#c46a76"/>
<ellipse cx="331.18" cy="620.26" rx="3.3" ry="2.1" fill="#b94454"/>
<ellipse cx="340.36" cy="619.83" rx="3.3" ry="2.1" fill="#b94454"/>
<ellipse cx="349.59" cy="620.77" rx="3.3" ry="2.1" fill="#b94454"/>
<ellipse cx="357.57" cy="620.68" rx="3.3" ry="2.1" fill="#b94454"/>
<ellipse cx="367.16" cy="620.06" rx="3.3" ry="2.1" fill="#b94454"/>
<ellipse cx="375.35" cy="619.8" rx="3.3" ry="2.1" fill="#b94454"/>
<ellipse cx="328.63" cy="623.83" rx="3.3" ry="2.1" fill="#ad3444"/>
<ellipse cx="336.53" cy="624.07" rx="3.3" ry="2.1" fill="#ad3444"/>
<ellipse cx="343.35" cy="623.94" rx="3.3" ry="2.1" fill="#ad3444"/>
<ellipse cx="351.25" cy="624.71" rx="3.3" ry="2.1" fill="#ad3444"/>
<ellipse cx="358.59" cy="624.36" rx="3.3" ry="2.1" fill="#ad3444"/>
<ellipse cx="366.67" cy="624.06" rx="3.3" ry="2.1" fill="#ad3444"/>
<ellipse cx="373.91" cy="624.54" rx="3.3" ry="2.1" fill="#ad3444"/>
<path d="M344.3,643 Q348.3,632 352.3,631 Q356.3,632 360.3,643 Z" fill="#b6e2e6" stroke="#6ab8c0" stroke-width="0.8"/>
<circle cx="352.3" cy="638.5" r="3.6" fill="#f4eee6" stroke="#b89a88" stroke-width="0.6"/>
<polygon points="352.3,636.5 354.2,637.88 353.48,640.12 351.12,640.12 350.4,637.88" fill="#fff"/>
<line x1="341.3" y1="626" x2="341.3" y2="636" stroke="#b8404c" stroke-width="0.9"/>
<ellipse cx="341.3" cy="627.5" rx="2.4" ry="1.6" fill="#b8404c"/>
<circle cx="341.3" cy="636.5" r="0.9" fill="#b8404c"/>
<line x1="359.3" y1="626" x2="359.3" y2="636" stroke="#b8404c" stroke-width="0.9"/>
<ellipse cx="359.3" cy="627.5" rx="2.4" ry="1.6" fill="#b8404c"/>
<circle cx="359.3" cy="636.5" r="0.9" fill="#b8404c"/>
<path d="M404.5,601.2 L404.5,640.6 Q404.5,643.6 407.5,643.6 L489.3,643.6 Q492.3,643.6 492.3,640.6 L492.3,601.2" fill="#eef1f9" stroke="#9aa6c8" stroke-width="4"/>
<path d="M404.5,601.2 L404.5,640.6 Q404.5,643.6 407.5,643.6 L489.3,643.6 Q492.3,643.6 492.3,640.6 L492.3,601.2" fill="none" stroke="#c9d1ea" stroke-width="3.2"/>
<rect x="406.5" y="623.8" width="83.8" height="17.8" fill="#f6dfe5"/>
<path d="M417.3,601.2 L419.3,626.5 Q419.6,629.3 422.3,629.3 L476.8,629.3 Q479.5,629.3 479.8,626.5 L481.8,601.2" fill="#e9edf8" stroke="#8fbfae" stroke-width="3"/>
<path d="M417.3,601.2 L419.3,626.5 Q419.6,629.3 422.3,629.3 L476.8,629.3 Q479.5,629.3 479.8,626.5 L481.8,601.2" fill="none" stroke="#d2ebe1" stroke-width="2.2"/>
<rect x="420.6" y="623.8" width="57.9" height="4.3" fill="#f4dde5"/>
<line x1="402" y1="600.4" x2="418.8" y2="600.4" stroke="#8fbfae" stroke-width="2.2"/>
<line x1="480.3" y1="600.4" x2="494.8" y2="600.4" stroke="#8fbfae" stroke-width="2.2"/>
<line x1="402.3" y1="600.4" x2="418.5" y2="600.4" stroke="#d2ebe1" stroke-width="1.4"/>
<line x1="480.6" y1="600.4" x2="494.5" y2="600.4" stroke="#d2ebe1" stroke-width="1.4"/>
<rect x="422.3" y="630.2" width="1.1" height="0.9" fill="#a8c8c0"/>
<rect x="424.9" y="630.2" width="1.1" height="0.9" fill="#a8c8c0"/>
<rect x="427.5" y="630.2" width="1.1" height="0.9" fill="#a8c8c0"/>
<rect x="430.1" y="630.2" width="1.1" height="0.9" fill="#a8c8c0"/>
<rect x="432.7" y="630.2" width="1.1" height="0.9" fill="#a8c8c0"/>
<rect x="435.3" y="630.2" width="1.1" height="0.9" fill="#a8c8c0"/>
<rect x="437.9" y="630.2" width="1.1" height="0.9" fill="#a8c8c0"/>
<rect x="440.5" y="630.2" width="1.1" height="0.9" fill="#a8c8c0"/>
<rect x="443.1" y="630.2" width="1.1" height="0.9" fill="#a8c8c0"/>
<rect x="445.7" y="630.2" width="1.1" height="0.9" fill="#a8c8c0"/>
<rect x="448.3" y="630.2" width="1.1" height="0.9" fill="#a8c8c0"/>
<rect x="450.9" y="630.2" width="1.1" height="0.9" fill="#a8c8c0"/>
<rect x="453.5" y="630.2" width="1.1" height="0.9" fill="#a8c8c0"/>
<rect x="456.1" y="630.2" width="1.1" height="0.9" fill="#a8c8c0"/>
<rect x="458.7" y="630.2" width="1.1" height="0.9" fill="#a8c8c0"/>
<rect x="461.3" y="630.2" width="1.1" height="0.9" fill="#a8c8c0"/>
<rect x="463.9" y="630.2" width="1.1" height="0.9" fill="#a8c8c0"/>
<rect x="466.5" y="630.2" width="1.1" height="0.9" fill="#a8c8c0"/>
<rect x="469.1" y="630.2" width="1.1" height="0.9" fill="#a8c8c0"/>
<rect x="471.7" y="630.2" width="1.1" height="0.9" fill="#a8c8c0"/>
<rect x="474.3" y="630.2" width="1.1" height="0.9" fill="#a8c8c0"/>
<ellipse cx="433.62" cy="616.93" rx="3.3" ry="2.1" fill="#c46a76"/>
<ellipse cx="449.79" cy="616.41" rx="3.3" ry="2.1" fill="#c46a76"/>
<ellipse cx="466.58" cy="617.07" rx="3.3" ry="2.1" fill="#c46a76"/>
<ellipse cx="429.87" cy="619.94" rx="3.3" ry="2.1" fill="#b94454"/>
<ellipse cx="438.15" cy="620.34" rx="3.3" ry="2.1" fill="#b94454"/>
<ellipse cx="448.04" cy="620.19" rx="3.3" ry="2.1" fill="#b94454"/>
<ellipse cx="456.46" cy="619.95" rx="3.3" ry="2.1" fill="#b94454"/>
<ellipse cx="465.83" cy="620" rx="3.3" ry="2.1" fill="#b94454"/>
<ellipse cx="474.09" cy="620.52" rx="3.3" ry="2.1" fill="#b94454"/>
<ellipse cx="425.86" cy="624.37" rx="3.3" ry="2.1" fill="#ad3444"/>
<ellipse cx="434.01" cy="623.91" rx="3.3" ry="2.1" fill="#ad3444"/>
<ellipse cx="441.44" cy="624.87" rx="3.3" ry="2.1" fill="#ad3444"/>
<ellipse cx="450.03" cy="624.57" rx="3.3" ry="2.1" fill="#ad3444"/>
<ellipse cx="457.07" cy="624.2" rx="3.3" ry="2.1" fill="#ad3444"/>
<ellipse cx="465.38" cy="624.37" rx="3.3" ry="2.1" fill="#ad3444"/>
<ellipse cx="473.02" cy="623.74" rx="3.3" ry="2.1" fill="#ad3444"/>
<path d="M442.55,643 Q446.55,632 450.55,631 Q454.55,632 458.55,643 Z" fill="#b6e2e6" stroke="#6ab8c0" stroke-width="0.8"/>
<circle cx="450.55" cy="638.5" r="3.6" fill="#f4eee6" stroke="#b89a88" stroke-width="0.6"/>
<polygon points="450.55,636.5 452.45,637.88 451.73,640.12 449.37,640.12 448.65,637.88" fill="#fff"/>
<line x1="426.55" y1="626" x2="426.55" y2="636" stroke="#b8404c" stroke-width="0.9"/>
<ellipse cx="426.55" cy="627.5" rx="2.4" ry="1.6" fill="#b8404c"/>
<circle cx="426.55" cy="636.5" r="0.9" fill="#b8404c"/>
<line x1="431.55" y1="626" x2="431.55" y2="636" stroke="#b8404c" stroke-width="0.9"/>
<ellipse cx="431.55" cy="627.5" rx="2.4" ry="1.6" fill="#b8404c"/>
<circle cx="431.55" cy="636.5" r="0.9" fill="#b8404c"/>
<line x1="437.55" y1="626" x2="437.55" y2="636" stroke="#b8404c" stroke-width="0.9"/>
<ellipse cx="437.55" cy="627.5" rx="2.4" ry="1.6" fill="#b8404c"/>
<circle cx="437.55" cy="636.5" r="0.9" fill="#b8404c"/>
<line x1="444.55" y1="626" x2="444.55" y2="636" stroke="#b8404c" stroke-width="0.9"/>
<ellipse cx="444.55" cy="627.5" rx="2.4" ry="1.6" fill="#b8404c"/>
<circle cx="444.55" cy="636.5" r="0.9" fill="#b8404c"/>
<line x1="456.55" y1="626" x2="456.55" y2="636" stroke="#b8404c" stroke-width="0.9"/>
<ellipse cx="456.55" cy="627.5" rx="2.4" ry="1.6" fill="#b8404c"/>
<circle cx="456.55" cy="636.5" r="0.9" fill="#b8404c"/>
<line x1="463.55" y1="626" x2="463.55" y2="636" stroke="#b8404c" stroke-width="0.9"/>
<ellipse cx="463.55" cy="627.5" rx="2.4" ry="1.6" fill="#b8404c"/>
<circle cx="463.55" cy="636.5" r="0.9" fill="#b8404c"/>
<line x1="469.55" y1="626" x2="469.55" y2="636" stroke="#b8404c" stroke-width="0.9"/>
<ellipse cx="469.55" cy="627.5" rx="2.4" ry="1.6" fill="#b8404c"/>
<circle cx="469.55" cy="636.5" r="0.9" fill="#b8404c"/>
<circle cx="426.55" cy="639.2" r="3.2" fill="#6a72c0" stroke="#4a52a0" stroke-width="0.5"/>
<path d="M425.35,639.4 a1.6,1.6 0 1 1 1.5,1.5 M425.05,640.8 l2,-2" fill="none" stroke="#d8dcf4" stroke-width="0.5"/>
<circle cx="434.05" cy="639.2" r="3.2" fill="#6a72c0" stroke="#4a52a0" stroke-width="0.5"/>
<path d="M432.85,639.4 a1.6,1.6 0 1 1 1.5,1.5 M432.55,640.8 l2,-2" fill="none" stroke="#d8dcf4" stroke-width="0.5"/>
<circle cx="467.05" cy="639.2" r="3.2" fill="#6a72c0" stroke="#4a52a0" stroke-width="0.5"/>
<path d="M465.85,639.4 a1.6,1.6 0 1 1 1.5,1.5 M465.55,640.8 l2,-2" fill="none" stroke="#d8dcf4" stroke-width="0.5"/>
<circle cx="474.55" cy="639.2" r="3.2" fill="#6a72c0" stroke="#4a52a0" stroke-width="0.5"/>
<path d="M473.35,639.4 a1.6,1.6 0 1 1 1.5,1.5 M473.05,640.8 l2,-2" fill="none" stroke="#d8dcf4" stroke-width="0.5"/>
<rect x="206.8" y="649.9" width="94.8" height="71.5" fill="#dcc4c8"/>
<filter id="mf206_0" x="0" y="0" width="1" height="1" color-interpolation-filters="sRGB"><feTurbulence type="fractalNoise" baseFrequency="0.45" numOctaves="2" seed="5"/><feColorMatrix values="1 0 0 0 0 0 1 0 0 0 0 0 1 0 0 0 0 0 0 1" result="h"/><feTurbulence type="fractalNoise" baseFrequency="0.1" numOctaves="2" seed="22"/><feColorMatrix values="1 0 0 0 0 0 1 0 0 0 0 0 1 0 0 0 0 0 0 1" result="l"/><feComposite in="h" in2="l" operator="arithmetic" k1="0" k2="1" k3="0.5" k4="-0.25"/><feColorMatrix type="matrix" values="0 0 0 0 0.329 0 0 0 0 0.227 0 0 0 0 0.557 -16 0 0 0 5.9"/></filter>
<rect x="206.8" y="649.9" width="94.8" height="71.5" fill="#000" filter="url(#mf206_0)"/>
<text x="288.6" y="715.6" font-size="6.4" text-anchor="middle" fill="#ffffff">200 µm</text>
<line x1="280.6" y1="718.7" x2="296.6" y2="718.7" stroke="#ffffff" stroke-width="0.9"/>
<rect x="303.6" y="649.9" width="95.7" height="71.5" fill="#d4b0da"/>
<filter id="mf303_0" x="0" y="0" width="1" height="1" color-interpolation-filters="sRGB"><feTurbulence type="fractalNoise" baseFrequency="0.4" numOctaves="2" seed="8"/><feColorMatrix values="1 0 0 0 0 0 1 0 0 0 0 0 1 0 0 0 0 0 0 1" result="h"/><feTurbulence type="fractalNoise" baseFrequency="0.12" numOctaves="2" seed="25"/><feColorMatrix values="1 0 0 0 0 0 1 0 0 0 0 0 1 0 0 0 0 0 0 1" result="l"/><feComposite in="h" in2="l" operator="arithmetic" k1="0" k2="1" k3="0.4" k4="-0.2"/><feColorMatrix type="matrix" values="0 0 0 0 0.431 0 0 0 0 0.306 0 0 0 0 0.667 -14 0 0 0 6.3"/></filter>
<rect x="303.6" y="649.9" width="95.7" height="71.5" fill="#000" filter="url(#mf303_0)"/>
<filter id="mf303_1" x="0" y="0" width="1" height="1" color-interpolation-filters="sRGB"><feTurbulence type="fractalNoise" baseFrequency="0.4" numOctaves="2" seed="8"/><feColorMatrix values="1 0 0 0 0 0 1 0 0 0 0 0 1 0 0 0 0 0 0 1" result="h"/><feTurbulence type="fractalNoise" baseFrequency="0.12" numOctaves="2" seed="25"/><feColorMatrix values="1 0 0 0 0 0 1 0 0 0 0 0 1 0 0 0 0 0 0 1" result="l"/><feComposite in="h" in2="l" operator="arithmetic" k1="0" k2="1" k3="0.4" k4="-0.2"/><feColorMatrix type="matrix" values="0 0 0 0 0.227 0 0 0 0 0.125 0 0 0 0 0.471 -16 0 0 0 6.0"/></filter>
<rect x="303.6" y="649.9" width="95.7" height="71.5" fill="#000" filter="url(#mf303_1)"/>
<text x="386.3" y="715.6" font-size="6.4" text-anchor="middle" fill="#ffffff">200 µm</text>
<line x1="378.3" y1="718.7" x2="394.3" y2="718.7" stroke="#ffffff" stroke-width="0.9"/>
<rect x="401.3" y="649.9" width="94.9" height="71.5" fill="#f0e0d2"/>
<filter id="mf401_0" x="0" y="0" width="1" height="1" color-interpolation-filters="sRGB"><feTurbulence type="fractalNoise" baseFrequency="0.3" numOctaves="2" seed="19"/><feColorMatrix values="1 0 0 0 0 0 1 0 0 0 0 0 1 0 0 0 0 0 0 1" result="h"/><feTurbulence type="fractalNoise" baseFrequency="0.1" numOctaves="2" seed="36"/><feColorMatrix values="1 0 0 0 0 0 1 0 0 0 0 0 1 0 0 0 0 0 0 1" result="l"/><feComposite in="h" in2="l" operator="arithmetic" k1="0" k2="1" k3="0.5" k4="-0.25"/><feColorMatrix type="matrix" values="0 0 0 0 0.518 0 0 0 0 0.384 0 0 0 0 0.675 -10 0 0 0 4.8"/></filter>
<rect x="401.3" y="649.9" width="94.9" height="71.5" fill="#000" filter="url(#mf401_0)"/>
<filter id="mf401_1" x="0" y="0" width="1" height="1" color-interpolation-filters="sRGB"><feTurbulence type="fractalNoise" baseFrequency="0.32" numOctaves="2" seed="9"/><feColorMatrix values="1 0 0 0 0 0 1 0 0 0 0 0 1 0 0 0 0 0 0 1" result="h"/><feTurbulence type="fractalNoise" baseFrequency="0.08" numOctaves="2" seed="26"/><feColorMatrix values="1 0 0 0 0 0 1 0 0 0 0 0 1 0 0 0 0 0 0 1" result="l"/><feComposite in="h" in2="l" operator="arithmetic" k1="0" k2="1" k3="0.6" k4="-0.3"/><feColorMatrix type="matrix" values="0 0 0 0 0.141 0 0 0 0 0.078 0 0 0 0 0.243 -14 0 0 0 6.6"/></filter>
<rect x="401.3" y="649.9" width="94.9" height="71.5" fill="#000" filter="url(#mf401_1)"/>
<text x="483.2" y="715.6" font-size="6.4" text-anchor="middle" fill="#ffffff">200 µm</text>
<line x1="475.2" y1="718.7" x2="491.2" y2="718.7" stroke="#ffffff" stroke-width="0.9"/>
<line x1="554.7" y1="593.9" x2="554.7" y2="719.9" stroke="#6d6e71" stroke-width="0.8"/>
<line x1="551.2" y1="719.9" x2="554.7" y2="719.9" stroke="#6d6e71" stroke-width="0.8"/>
<text x="548.2" y="722.78" font-size="8" text-anchor="end" fill="#231f20">0</text>
<line x1="551.2" y1="694.7" x2="554.7" y2="694.7" stroke="#6d6e71" stroke-width="0.8"/>
<text x="548.2" y="697.58" font-size="8" text-anchor="end" fill="#231f20">500</text>
<line x1="551.2" y1="669.5" x2="554.7" y2="669.5" stroke="#6d6e71" stroke-width="0.8"/>
<text x="548.2" y="672.38" font-size="8" text-anchor="end" fill="#231f20">1000</text>
<line x1="551.2" y1="644.3" x2="554.7" y2="644.3" stroke="#6d6e71" stroke-width="0.8"/>
<text x="548.2" y="647.18" font-size="8" text-anchor="end" fill="#231f20">1500</text>
<line x1="551.2" y1="619.1" x2="554.7" y2="619.1" stroke="#6d6e71" stroke-width="0.8"/>
<text x="548.2" y="621.98" font-size="8" text-anchor="end" fill="#231f20">2000</text>
<line x1="551.2" y1="593.9" x2="554.7" y2="593.9" stroke="#6d6e71" stroke-width="0.8"/>
<text x="548.2" y="596.78" font-size="8" text-anchor="end" fill="#231f20">2500</text>
<line x1="554.7" y1="719.9" x2="685" y2="719.9" stroke="#6d6e71" stroke-width="0.8"/>
<text x="0" y="2.95" font-size="8.2" transform="translate(521.3,657) rotate(-90)" text-anchor="middle" fill="#231f20">Migrated cell number</text>
<line x1="580.2" y1="595.2" x2="580.2" y2="685" stroke="#777" stroke-width="0.7"/>
<line x1="580.2" y1="595.2" x2="637" y2="595.2" stroke="#777" stroke-width="0.7"/>
<line x1="637" y1="595.2" x2="637" y2="602.4" stroke="#777" stroke-width="0.7"/>
<line x1="618.2" y1="602.4" x2="656.9" y2="602.4" stroke="#777" stroke-width="0.7"/>
<line x1="618.2" y1="612.3" x2="656.9" y2="612.3" stroke="#777" stroke-width="0.7"/>
<line x1="618.2" y1="612.3" x2="618.2" y2="639" stroke="#777" stroke-width="0.7"/>
<line x1="656.9" y1="612.3" x2="656.9" y2="615.7" stroke="#777" stroke-width="0.7"/>
<text x="609.7" y="598.28" font-size="13" text-anchor="middle" fill="#231f20">*</text>
<text x="636.2" y="615.78" font-size="13" text-anchor="middle" fill="#231f20">*</text>
<line x1="580.2" y1="688.3" x2="580.2" y2="714.3" stroke="#777" stroke-width="0.7"/>
<line x1="573.5" y1="688.3" x2="587" y2="688.3" stroke="#777" stroke-width="0.7"/>
<line x1="573.5" y1="714.3" x2="587" y2="714.3" stroke="#777" stroke-width="0.7"/>
<line x1="567" y1="700.8" x2="593.5" y2="700.8" stroke="#777" stroke-width="0.7"/>
<circle cx="579.9" cy="686.7" r="2.6" fill="#fff" stroke="#555" stroke-width="0.6"/>
<circle cx="579.9" cy="694.6" r="2.6" fill="#fff" stroke="#555" stroke-width="0.6"/>
<circle cx="569.8" cy="714" r="2.6" fill="#fff" stroke="#555" stroke-width="0.6"/>
<circle cx="590.2" cy="709.6" r="2.6" fill="#fff" stroke="#555" stroke-width="0.6"/>
<line x1="618.2" y1="647.4" x2="618.2" y2="674.9" stroke="#777" stroke-width="0.7"/>
<line x1="612" y1="647.4" x2="624.8" y2="647.4" stroke="#777" stroke-width="0.7"/>
<line x1="612" y1="674.9" x2="624.8" y2="674.9" stroke="#777" stroke-width="0.7"/>
<line x1="605.3" y1="661.2" x2="631.3" y2="661.2" stroke="#777" stroke-width="0.7"/>
<circle cx="618.2" cy="642.3" r="2.6" fill="#5a7ec0" stroke="#3a5ea0" stroke-width="0.5"/>
<circle cx="618.2" cy="660.7" r="2.6" fill="#5a7ec0" stroke="#3a5ea0" stroke-width="0.5"/>
<circle cx="628.6" cy="668.6" r="2.6" fill="#5a7ec0" stroke="#3a5ea0" stroke-width="0.5"/>
<circle cx="608.1" cy="673.4" r="2.6" fill="#5a7ec0" stroke="#3a5ea0" stroke-width="0.5"/>
<line x1="656.9" y1="619.9" x2="656.9" y2="625.9" stroke="#777" stroke-width="0.7"/>
<line x1="649.9" y1="619.9" x2="663.2" y2="619.9" stroke="#777" stroke-width="0.7"/>
<line x1="649.9" y1="625.9" x2="663.2" y2="625.9" stroke="#777" stroke-width="0.7"/>
<line x1="644.2" y1="622.1" x2="669.8" y2="622.1" stroke="#777" stroke-width="0.7"/>
<circle cx="646.5" cy="619.5" r="2.6" fill="#e0605a" stroke="#a04040" stroke-width="0.5"/>
<circle cx="656.9" cy="622.1" r="2.6" fill="#e0605a" stroke="#a04040" stroke-width="0.5"/>
<circle cx="667" cy="622.1" r="2.6" fill="#e0605a" stroke="#a04040" stroke-width="0.5"/>
<circle cx="646.5" cy="627.1" r="2.6" fill="#e0605a" stroke="#a04040" stroke-width="0.5"/>
</svg>
</body></html>
